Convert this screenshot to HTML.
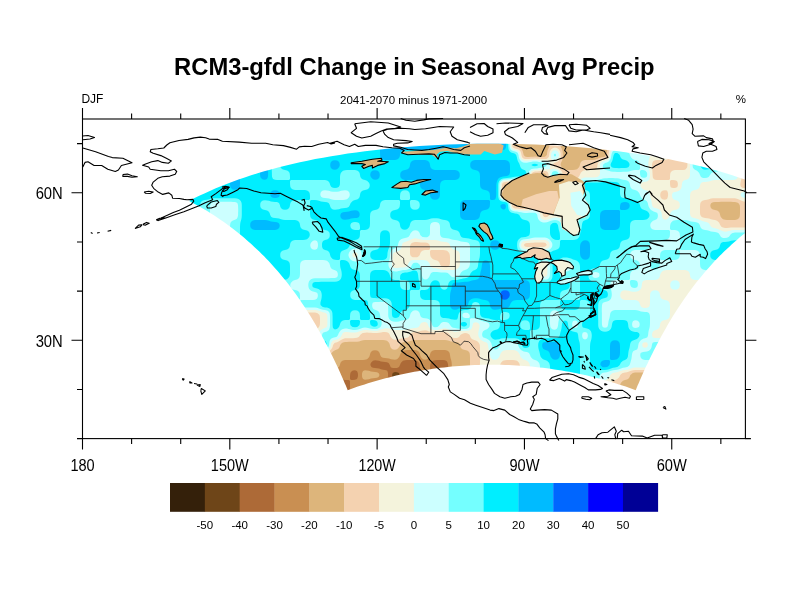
<!DOCTYPE html>
<html><head><meta charset="utf-8"><style>
html,body{margin:0;padding:0;background:#fff;width:792px;height:612px;overflow:hidden}
svg{position:absolute;left:0;top:0}
text{font-family:"Liberation Sans",Arial,sans-serif;fill:#000}
</style></head><body>
<svg width="792" height="612" viewBox="0 0 792 612">
<rect width="792" height="612" fill="#fff"/>
<g id="field"><clipPath id="frm"><rect x="82.5" y="119" width="662.9" height="319.6"/></clipPath><mask id="dom" maskUnits="userSpaceOnUse" x="0" y="0" width="792" height="612"><path d="M347.7 390.2 L351.0 389.0 L354.4 387.8 L357.8 386.6 L361.1 385.5 L364.6 384.4 L368.0 383.3 L371.4 382.2 L374.9 381.2 L378.4 380.2 L381.9 379.2 L385.5 378.3 L389.0 377.4 L392.6 376.5 L396.2 375.6 L399.8 374.8 L403.4 374.0 L407.0 373.3 L410.7 372.5 L414.3 371.8 L418.0 371.2 L421.7 370.5 L425.4 369.9 L429.1 369.4 L432.9 368.8 L436.6 368.3 L440.4 367.8 L444.1 367.4 L447.9 367.0 L451.7 366.6 L455.5 366.3 L459.3 366.0 L463.1 365.7 L466.9 365.4 L470.7 365.2 L474.5 365.1 L478.3 364.9 L482.1 364.8 L486.0 364.8 L489.8 364.7 L493.6 364.7 L497.4 364.8 L501.3 364.8 L505.1 364.9 L508.9 365.1 L512.7 365.2 L516.5 365.4 L520.3 365.7 L524.1 366.0 L527.9 366.3 L531.7 366.6 L535.5 367.0 L539.3 367.4 L543.0 367.8 L546.8 368.3 L550.5 368.8 L554.3 369.4 L558.0 369.9 L561.7 370.5 L565.4 371.2 L569.1 371.8 L572.7 372.5 L576.4 373.3 L580.0 374.0 L583.6 374.8 L587.2 375.6 L590.8 376.5 L594.4 377.4 L597.9 378.3 L601.5 379.2 L605.0 380.2 L608.5 381.2 L612.0 382.2 L615.4 383.3 L618.9 384.4 L622.3 385.5 L625.7 386.6 L629.0 387.8 L632.4 389.0 L635.7 390.2 L636.7 387.7 L637.7 385.3 L638.8 382.9 L639.8 380.4 L640.9 378.0 L642.0 375.5 L643.1 373.1 L644.2 370.6 L645.3 368.1 L646.5 365.6 L647.7 363.2 L648.8 360.7 L650.0 358.2 L651.2 355.7 L652.5 353.2 L653.7 350.7 L655.0 348.2 L656.3 345.7 L657.6 343.2 L658.9 340.7 L660.3 338.2 L661.6 335.7 L663.0 333.2 L664.4 330.7 L665.9 328.2 L667.3 325.6 L668.8 323.1 L670.3 320.6 L671.8 318.1 L673.3 315.6 L674.9 313.1 L676.5 310.6 L678.1 308.1 L679.8 305.5 L681.5 303.0 L683.2 300.5 L684.9 298.0 L686.7 295.5 L688.4 293.1 L690.3 290.6 L692.1 288.1 L694.0 285.6 L695.9 283.1 L697.9 280.6 L699.8 278.2 L701.9 275.7 L703.9 273.3 L706.0 270.8 L708.1 268.4 L710.3 266.0 L712.5 263.5 L714.7 261.1 L717.0 258.7 L719.3 256.3 L721.7 253.9 L724.1 251.6 L726.6 249.2 L729.1 246.9 L731.6 244.5 L734.2 242.2 L736.9 239.9 L739.5 237.6 L742.3 235.3 L745.1 233.0 L747.9 230.7 L750.8 228.5 L753.8 226.3 L756.8 224.0 L759.9 221.8 L763.0 219.7 L766.2 217.5 L769.5 215.3 L772.8 213.2 L776.2 211.1 L779.7 209.0 L783.2 207.0 L786.8 204.9 L790.5 202.9 L794.2 200.9 L789.3 198.3 L784.2 195.8 L779.0 193.4 L773.6 191.0 L768.2 188.6 L762.6 186.3 L756.8 184.0 L750.9 181.7 L744.9 179.6 L738.7 177.4 L732.3 175.3 L725.8 173.3 L719.2 171.3 L712.4 169.4 L705.4 167.5 L698.3 165.7 L691.0 164.0 L683.5 162.3 L675.9 160.7 L668.2 159.1 L660.3 157.7 L652.2 156.2 L644.0 154.9 L635.6 153.6 L627.1 152.4 L618.4 151.3 L609.6 150.2 L600.7 149.2 L591.7 148.3 L582.5 147.5 L573.2 146.8 L563.9 146.1 L554.4 145.5 L544.9 145.0 L535.3 144.6 L525.7 144.3 L516.0 144.0 L506.3 143.8 L496.6 143.8 L486.8 143.8 L477.1 143.8 L467.4 144.0 L457.7 144.3 L448.1 144.6 L438.5 145.0 L429.0 145.5 L419.5 146.1 L410.2 146.8 L400.9 147.5 L391.7 148.3 L382.7 149.2 L373.8 150.2 L365.0 151.3 L356.3 152.4 L347.8 153.6 L339.4 154.9 L331.2 156.2 L323.1 157.7 L315.2 159.1 L307.5 160.7 L299.9 162.3 L292.4 164.0 L285.1 165.7 L278.0 167.5 L271.0 169.4 L264.2 171.3 L257.6 173.3 L251.1 175.3 L244.7 177.4 L238.5 179.6 L232.5 181.7 L226.6 184.0 L220.8 186.3 L215.2 188.6 L209.8 191.0 L204.4 193.4 L199.2 195.8 L194.1 198.3 L189.2 200.9 L192.9 202.9 L196.6 204.9 L200.2 207.0 L203.7 209.0 L207.2 211.1 L210.6 213.2 L213.9 215.3 L217.2 217.5 L220.4 219.7 L223.5 221.8 L226.6 224.0 L229.6 226.3 L232.6 228.5 L235.5 230.7 L238.3 233.0 L241.1 235.3 L243.9 237.6 L246.6 239.9 L249.2 242.2 L251.8 244.5 L254.3 246.9 L256.8 249.2 L259.3 251.6 L261.7 253.9 L264.1 256.3 L266.4 258.7 L268.7 261.1 L270.9 263.5 L273.1 266.0 L275.3 268.4 L277.4 270.8 L279.5 273.3 L281.5 275.7 L283.6 278.2 L285.5 280.6 L287.5 283.1 L289.4 285.6 L291.3 288.1 L293.1 290.6 L295.0 293.1 L296.8 295.5 L298.5 298.0 L300.2 300.5 L301.9 303.0 L303.6 305.5 L305.3 308.1 L306.9 310.6 L308.5 313.1 L310.1 315.6 L311.6 318.1 L313.1 320.6 L314.6 323.1 L316.1 325.6 L317.6 328.2 L319.0 330.7 L320.4 333.2 L321.8 335.7 L323.1 338.2 L324.5 340.7 L325.8 343.2 L327.1 345.7 L328.4 348.2 L329.7 350.7 L330.9 353.2 L332.2 355.7 L333.4 358.2 L334.6 360.7 L335.8 363.2 L336.9 365.6 L338.1 368.1 L339.2 370.6 L340.3 373.1 L341.4 375.5 L342.5 378.0 L343.6 380.4 L344.6 382.9 L345.7 385.3 L346.7 387.7Z" fill="#fff"/></mask><g clip-path="url(#frm)"><g mask="url(#dom)"><rect x="180" y="130" width="600" height="280" fill="#34200a"/><path fill="#6e4518" d="M185.0 135.0 193.0 135.0 195.0 135.0 197.0 135.0 199.0 135.0 201.0 135.0 203.0 135.0 205.0 135.0 207.0 135.0 209.0 135.0 211.0 135.0 213.0 135.0 215.0 135.0 217.0 135.0 219.0 135.0 221.0 135.0 223.0 135.0 225.0 135.0 227.0 135.0 229.0 135.0 231.0 135.0 233.0 135.0 235.0 135.0 237.0 135.0 239.0 135.0 241.0 135.0 243.0 135.0 245.0 135.0 247.0 135.0 249.0 135.0 251.0 135.0 253.0 135.0 255.0 135.0 257.0 135.0 259.0 135.0 261.0 135.0 263.0 135.0 265.0 135.0 267.0 135.0 269.0 135.0 271.0 135.0 273.0 135.0 275.0 135.0 277.0 135.0 279.0 135.0 281.0 135.0 283.0 135.0 285.0 135.0 287.0 135.0 289.0 135.0 291.0 135.0 293.0 135.0 295.0 135.0 297.0 135.0 299.0 135.0 301.0 135.0 303.0 135.0 305.0 135.0 307.0 135.0 309.0 135.0 311.0 135.0 313.0 135.0 315.0 135.0 317.0 135.0 319.0 135.0 321.0 135.0 323.0 135.0 325.0 135.0 327.0 135.0 329.0 135.0 331.0 135.0 333.0 135.0 335.0 135.0 337.0 135.0 339.0 135.0 341.0 135.0 343.0 135.0 345.0 135.0 347.0 135.0 349.0 135.0 351.0 135.0 353.0 135.0 355.0 135.0 357.0 135.0 359.0 135.0 361.0 135.0 363.0 135.0 365.0 135.0 367.0 135.0 369.0 135.0 371.0 135.0 373.0 135.0 375.0 135.0 377.0 135.0 379.0 135.0 381.0 135.0 383.0 135.0 385.0 135.0 387.0 135.0 389.0 135.0 391.0 135.0 393.0 135.0 395.0 135.0 397.0 135.0 399.0 135.0 401.0 135.0 403.0 135.0 405.0 135.0 407.0 135.0 409.0 135.0 411.0 135.0 413.0 135.0 415.0 135.0 417.0 135.0 419.0 135.0 421.0 135.0 423.0 135.0 425.0 135.0 427.0 135.0 429.0 135.0 431.0 135.0 433.0 135.0 435.0 135.0 437.0 135.0 439.0 135.0 441.0 135.0 443.0 135.0 445.0 135.0 447.0 135.0 449.0 135.0 451.0 135.0 453.0 135.0 455.0 135.0 457.0 135.0 459.0 135.0 461.0 135.0 463.0 135.0 465.0 135.0 467.0 135.0 469.0 135.0 471.0 135.0 473.0 135.0 475.0 135.0 477.0 135.0 479.0 135.0 481.0 135.0 483.0 135.0 485.0 135.0 487.0 135.0 489.0 135.0 491.0 135.0 493.0 135.0 495.0 135.0 497.0 135.0 499.0 135.0 501.0 135.0 503.0 135.0 505.0 135.0 507.0 135.0 509.0 135.0 511.0 135.0 513.0 135.0 515.0 135.0 517.0 135.0 519.0 135.0 521.0 135.0 523.0 135.0 525.0 135.0 527.0 135.0 529.0 135.0 531.0 135.0 533.0 135.0 535.0 135.0 537.0 135.0 539.0 135.0 541.0 135.0 543.0 135.0 545.0 135.0 547.0 135.0 549.0 135.0 551.0 135.0 553.0 135.0 555.0 135.0 557.0 135.0 559.0 135.0 561.0 135.0 563.0 135.0 565.0 135.0 567.0 135.0 569.0 135.0 571.0 135.0 573.0 135.0 575.0 135.0 577.0 135.0 579.0 135.0 581.0 135.0 583.0 135.0 585.0 135.0 587.0 135.0 589.0 135.0 591.0 135.0 593.0 135.0 595.0 135.0 597.0 135.0 599.0 135.0 601.0 135.0 603.0 135.0 605.0 135.0 607.0 135.0 609.0 135.0 611.0 135.0 613.0 135.0 615.0 135.0 617.0 135.0 619.0 135.0 621.0 135.0 623.0 135.0 625.0 135.0 627.0 135.0 629.0 135.0 631.0 135.0 633.0 135.0 635.0 135.0 637.0 135.0 639.0 135.0 641.0 135.0 643.0 135.0 645.0 135.0 647.0 135.0 649.0 135.0 651.0 135.0 653.0 135.0 655.0 135.0 657.0 135.0 659.0 135.0 661.0 135.0 663.0 135.0 665.0 135.0 667.0 135.0 669.0 135.0 671.0 135.0 673.0 135.0 675.0 135.0 677.0 135.0 679.0 135.0 681.0 135.0 683.0 135.0 685.0 135.0 687.0 135.0 689.0 135.0 691.0 135.0 693.0 135.0 695.0 135.0 697.0 135.0 699.0 135.0 701.0 135.0 703.0 135.0 705.0 135.0 707.0 135.0 709.0 135.0 711.0 135.0 713.0 135.0 715.0 135.0 717.0 135.0 719.0 135.0 721.0 135.0 723.0 135.0 725.0 135.0 727.0 135.0 729.0 135.0 731.0 135.0 733.0 135.0 735.0 135.0 737.0 135.0 739.0 135.0 741.0 135.0 743.0 135.0 745.0 135.0 747.0 135.0 755.0 135.0 755.0 143.0 755.0 145.0 755.0 147.0 755.0 149.0 755.0 151.0 755.0 153.0 755.0 155.0 755.0 157.0 755.0 159.0 755.0 161.0 755.0 163.0 755.0 165.0 755.0 167.0 755.0 169.0 755.0 171.0 755.0 173.0 755.0 175.0 755.0 177.0 755.0 179.0 755.0 181.0 755.0 183.0 755.0 185.0 755.0 187.0 755.0 189.0 755.0 191.0 755.0 193.0 755.0 195.0 755.0 197.0 755.0 199.0 755.0 201.0 755.0 203.0 755.0 205.0 755.0 207.0 755.0 209.0 755.0 211.0 755.0 213.0 755.0 215.0 755.0 217.0 755.0 219.0 755.0 221.0 755.0 223.0 755.0 225.0 755.0 227.0 755.0 229.0 755.0 231.0 755.0 233.0 755.0 235.0 755.0 237.0 755.0 239.0 755.0 241.0 755.0 243.0 755.0 245.0 755.0 247.0 755.0 249.0 755.0 251.0 755.0 253.0 755.0 255.0 755.0 257.0 755.0 259.0 755.0 261.0 755.0 263.0 755.0 265.0 755.0 267.0 755.0 269.0 755.0 271.0 755.0 273.0 755.0 275.0 755.0 277.0 755.0 279.0 755.0 281.0 755.0 283.0 755.0 285.0 755.0 287.0 755.0 289.0 755.0 291.0 755.0 293.0 755.0 295.0 755.0 297.0 755.0 299.0 755.0 301.0 755.0 303.0 755.0 305.0 755.0 307.0 755.0 309.0 755.0 311.0 755.0 313.0 755.0 315.0 755.0 317.0 755.0 319.0 755.0 321.0 755.0 323.0 755.0 325.0 755.0 327.0 755.0 329.0 755.0 331.0 755.0 333.0 755.0 335.0 755.0 337.0 755.0 339.0 755.0 341.0 755.0 343.0 755.0 345.0 755.0 347.0 755.0 349.0 755.0 351.0 755.0 353.0 755.0 355.0 755.0 357.0 755.0 359.0 755.0 361.0 755.0 363.0 755.0 365.0 755.0 367.0 755.0 369.0 755.0 371.0 755.0 373.0 755.0 375.0 755.0 377.0 755.0 379.0 755.0 381.0 755.0 383.0 755.0 385.0 755.0 387.0 755.0 389.0 755.0 391.0 755.0 393.0 755.0 395.0 755.0 397.0 755.0 405.0 747.0 405.0 745.0 405.0 743.0 405.0 741.0 405.0 739.0 405.0 737.0 405.0 735.0 405.0 733.0 405.0 731.0 405.0 729.0 405.0 727.0 405.0 725.0 405.0 723.0 405.0 721.0 405.0 719.0 405.0 717.0 405.0 715.0 405.0 713.0 405.0 711.0 405.0 709.0 405.0 707.0 405.0 705.0 405.0 703.0 405.0 701.0 405.0 699.0 405.0 697.0 405.0 695.0 405.0 693.0 405.0 691.0 405.0 689.0 405.0 687.0 405.0 685.0 405.0 683.0 405.0 681.0 405.0 679.0 405.0 677.0 405.0 675.0 405.0 673.0 405.0 671.0 405.0 669.0 405.0 667.0 405.0 665.0 405.0 663.0 405.0 661.0 405.0 659.0 405.0 657.0 405.0 655.0 405.0 653.0 405.0 651.0 405.0 649.0 405.0 647.0 405.0 645.0 405.0 643.0 405.0 641.0 405.0 639.0 405.0 637.0 405.0 635.0 405.0 633.0 405.0 631.0 405.0 629.0 405.0 627.0 405.0 625.0 405.0 623.0 405.0 621.0 405.0 619.0 405.0 617.0 405.0 615.0 405.0 613.0 405.0 611.0 405.0 609.0 405.0 607.0 405.0 605.0 405.0 603.0 405.0 601.0 405.0 599.0 405.0 597.0 405.0 595.0 405.0 593.0 405.0 591.0 405.0 589.0 405.0 587.0 405.0 585.0 405.0 583.0 405.0 581.0 405.0 579.0 405.0 577.0 405.0 575.0 405.0 573.0 405.0 571.0 405.0 569.0 405.0 567.0 405.0 565.0 405.0 563.0 405.0 561.0 405.0 559.0 405.0 557.0 405.0 555.0 405.0 553.0 405.0 551.0 405.0 549.0 405.0 547.0 405.0 545.0 405.0 543.0 405.0 541.0 405.0 539.0 405.0 537.0 405.0 535.0 405.0 533.0 405.0 531.0 405.0 529.0 405.0 527.0 405.0 525.0 405.0 523.0 405.0 521.0 405.0 519.0 405.0 517.0 405.0 515.0 405.0 513.0 405.0 511.0 405.0 509.0 405.0 507.0 405.0 505.0 405.0 503.0 405.0 501.0 405.0 499.0 405.0 497.0 405.0 495.0 405.0 493.0 405.0 491.0 405.0 489.0 405.0 487.0 405.0 485.0 405.0 483.0 405.0 481.0 405.0 479.0 405.0 477.0 405.0 475.0 405.0 473.0 405.0 471.0 405.0 469.0 405.0 467.0 405.0 465.0 405.0 463.0 405.0 461.0 405.0 459.0 405.0 457.0 405.0 455.0 405.0 453.0 405.0 451.0 405.0 449.0 405.0 447.0 405.0 445.0 405.0 443.0 405.0 441.0 405.0 439.0 405.0 437.0 405.0 435.0 405.0 433.0 405.0 431.0 405.0 429.0 405.0 427.0 405.0 425.0 405.0 423.0 405.0 421.0 405.0 419.0 405.0 417.0 405.0 415.0 405.0 413.0 405.0 411.0 405.0 409.0 405.0 407.0 405.0 405.0 405.0 403.0 405.0 401.0 405.0 399.0 405.0 397.0 405.0 395.0 405.0 393.0 405.0 391.0 405.0 389.0 405.0 387.0 405.0 385.0 405.0 383.0 405.0 381.0 405.0 379.0 405.0 377.0 405.0 375.0 405.0 373.0 405.0 371.0 405.0 369.0 405.0 367.0 405.0 365.0 405.0 363.0 405.0 361.0 405.0 359.0 405.0 357.0 405.0 355.0 405.0 353.0 405.0 351.0 405.0 349.0 405.0 347.0 405.0 345.0 405.0 343.0 405.0 341.0 405.0 339.0 405.0 337.0 405.0 335.0 405.0 333.0 405.0 331.0 405.0 329.0 405.0 327.0 405.0 325.0 405.0 323.0 405.0 321.0 405.0 319.0 405.0 317.0 405.0 315.0 405.0 313.0 405.0 311.0 405.0 309.0 405.0 307.0 405.0 305.0 405.0 303.0 405.0 301.0 405.0 299.0 405.0 297.0 405.0 295.0 405.0 293.0 405.0 291.0 405.0 289.0 405.0 287.0 405.0 285.0 405.0 283.0 405.0 281.0 405.0 279.0 405.0 277.0 405.0 275.0 405.0 273.0 405.0 271.0 405.0 269.0 405.0 267.0 405.0 265.0 405.0 263.0 405.0 261.0 405.0 259.0 405.0 257.0 405.0 255.0 405.0 253.0 405.0 251.0 405.0 249.0 405.0 247.0 405.0 245.0 405.0 243.0 405.0 241.0 405.0 239.0 405.0 237.0 405.0 235.0 405.0 233.0 405.0 231.0 405.0 229.0 405.0 227.0 405.0 225.0 405.0 223.0 405.0 221.0 405.0 219.0 405.0 217.0 405.0 215.0 405.0 213.0 405.0 211.0 405.0 209.0 405.0 207.0 405.0 205.0 405.0 203.0 405.0 201.0 405.0 199.0 405.0 197.0 405.0 195.0 405.0 193.0 405.0 185.0 405.0 185.0 397.0 185.0 395.0 185.0 393.0 185.0 391.0 185.0 389.0 185.0 387.0 185.0 385.0 185.0 383.0 185.0 381.0 185.0 379.0 185.0 377.0 185.0 375.0 185.0 373.0 185.0 371.0 185.0 369.0 185.0 367.0 185.0 365.0 185.0 363.0 185.0 361.0 185.0 359.0 185.0 357.0 185.0 355.0 185.0 353.0 185.0 351.0 185.0 349.0 185.0 347.0 185.0 345.0 185.0 343.0 185.0 341.0 185.0 339.0 185.0 337.0 185.0 335.0 185.0 333.0 185.0 331.0 185.0 329.0 185.0 327.0 185.0 325.0 185.0 323.0 185.0 321.0 185.0 319.0 185.0 317.0 185.0 315.0 185.0 313.0 185.0 311.0 185.0 309.0 185.0 307.0 185.0 305.0 185.0 303.0 185.0 301.0 185.0 299.0 185.0 297.0 185.0 295.0 185.0 293.0 185.0 291.0 185.0 289.0 185.0 287.0 185.0 285.0 185.0 283.0 185.0 281.0 185.0 279.0 185.0 277.0 185.0 275.0 185.0 273.0 185.0 271.0 185.0 269.0 185.0 267.0 185.0 265.0 185.0 263.0 185.0 261.0 185.0 259.0 185.0 257.0 185.0 255.0 185.0 253.0 185.0 251.0 185.0 249.0 185.0 247.0 185.0 245.0 185.0 243.0 185.0 241.0 185.0 239.0 185.0 237.0 185.0 235.0 185.0 233.0 185.0 231.0 185.0 229.0 185.0 227.0 185.0 225.0 185.0 223.0 185.0 221.0 185.0 219.0 185.0 217.0 185.0 215.0 185.0 213.0 185.0 211.0 185.0 209.0 185.0 207.0 185.0 205.0 185.0 203.0 185.0 201.0 185.0 199.0 185.0 197.0 185.0 195.0 185.0 193.0 185.0 191.0 185.0 189.0 185.0 187.0 185.0 185.0 185.0 183.0 185.0 181.0 185.0 179.0 185.0 177.0 185.0 175.0 185.0 173.0 185.0 171.0 185.0 169.0 185.0 167.0 185.0 165.0 185.0 163.0 185.0 161.0 185.0 159.0 185.0 157.0 185.0 155.0 185.0 153.0 185.0 151.0 185.0 149.0 185.0 147.0 185.0 145.0 185.0 143.0 185.0 135.0Z"/><path fill="#ad6a37" d="M185.0 135.0 193.0 135.0 195.0 135.0 197.0 135.0 199.0 135.0 201.0 135.0 203.0 135.0 205.0 135.0 207.0 135.0 209.0 135.0 211.0 135.0 213.0 135.0 215.0 135.0 217.0 135.0 219.0 135.0 221.0 135.0 223.0 135.0 225.0 135.0 227.0 135.0 229.0 135.0 231.0 135.0 233.0 135.0 235.0 135.0 237.0 135.0 239.0 135.0 241.0 135.0 243.0 135.0 245.0 135.0 247.0 135.0 249.0 135.0 251.0 135.0 253.0 135.0 255.0 135.0 257.0 135.0 259.0 135.0 261.0 135.0 263.0 135.0 265.0 135.0 267.0 135.0 269.0 135.0 271.0 135.0 273.0 135.0 275.0 135.0 277.0 135.0 279.0 135.0 281.0 135.0 283.0 135.0 285.0 135.0 287.0 135.0 289.0 135.0 291.0 135.0 293.0 135.0 295.0 135.0 297.0 135.0 299.0 135.0 301.0 135.0 303.0 135.0 305.0 135.0 307.0 135.0 309.0 135.0 311.0 135.0 313.0 135.0 315.0 135.0 317.0 135.0 319.0 135.0 321.0 135.0 323.0 135.0 325.0 135.0 327.0 135.0 329.0 135.0 331.0 135.0 333.0 135.0 335.0 135.0 337.0 135.0 339.0 135.0 341.0 135.0 343.0 135.0 345.0 135.0 347.0 135.0 349.0 135.0 351.0 135.0 353.0 135.0 355.0 135.0 357.0 135.0 359.0 135.0 361.0 135.0 363.0 135.0 365.0 135.0 367.0 135.0 369.0 135.0 371.0 135.0 373.0 135.0 375.0 135.0 377.0 135.0 379.0 135.0 381.0 135.0 383.0 135.0 385.0 135.0 387.0 135.0 389.0 135.0 391.0 135.0 393.0 135.0 395.0 135.0 397.0 135.0 399.0 135.0 401.0 135.0 403.0 135.0 405.0 135.0 407.0 135.0 409.0 135.0 411.0 135.0 413.0 135.0 415.0 135.0 417.0 135.0 419.0 135.0 421.0 135.0 423.0 135.0 425.0 135.0 427.0 135.0 429.0 135.0 431.0 135.0 433.0 135.0 435.0 135.0 437.0 135.0 439.0 135.0 441.0 135.0 443.0 135.0 445.0 135.0 447.0 135.0 449.0 135.0 451.0 135.0 453.0 135.0 455.0 135.0 457.0 135.0 459.0 135.0 461.0 135.0 463.0 135.0 465.0 135.0 467.0 135.0 469.0 135.0 471.0 135.0 473.0 135.0 475.0 135.0 477.0 135.0 479.0 135.0 481.0 135.0 483.0 135.0 485.0 135.0 487.0 135.0 489.0 135.0 491.0 135.0 493.0 135.0 495.0 135.0 497.0 135.0 499.0 135.0 501.0 135.0 503.0 135.0 505.0 135.0 507.0 135.0 509.0 135.0 511.0 135.0 513.0 135.0 515.0 135.0 517.0 135.0 519.0 135.0 521.0 135.0 523.0 135.0 525.0 135.0 527.0 135.0 529.0 135.0 531.0 135.0 533.0 135.0 535.0 135.0 537.0 135.0 539.0 135.0 541.0 135.0 543.0 135.0 545.0 135.0 547.0 135.0 549.0 135.0 551.0 135.0 553.0 135.0 555.0 135.0 557.0 135.0 559.0 135.0 561.0 135.0 563.0 135.0 565.0 135.0 567.0 135.0 569.0 135.0 571.0 135.0 573.0 135.0 575.0 135.0 577.0 135.0 579.0 135.0 581.0 135.0 583.0 135.0 585.0 135.0 587.0 135.0 589.0 135.0 591.0 135.0 593.0 135.0 595.0 135.0 597.0 135.0 599.0 135.0 601.0 135.0 603.0 135.0 605.0 135.0 607.0 135.0 609.0 135.0 611.0 135.0 613.0 135.0 615.0 135.0 617.0 135.0 619.0 135.0 621.0 135.0 623.0 135.0 625.0 135.0 627.0 135.0 629.0 135.0 631.0 135.0 633.0 135.0 635.0 135.0 637.0 135.0 639.0 135.0 641.0 135.0 643.0 135.0 645.0 135.0 647.0 135.0 649.0 135.0 651.0 135.0 653.0 135.0 655.0 135.0 657.0 135.0 659.0 135.0 661.0 135.0 663.0 135.0 665.0 135.0 667.0 135.0 669.0 135.0 671.0 135.0 673.0 135.0 675.0 135.0 677.0 135.0 679.0 135.0 681.0 135.0 683.0 135.0 685.0 135.0 687.0 135.0 689.0 135.0 691.0 135.0 693.0 135.0 695.0 135.0 697.0 135.0 699.0 135.0 701.0 135.0 703.0 135.0 705.0 135.0 707.0 135.0 709.0 135.0 711.0 135.0 713.0 135.0 715.0 135.0 717.0 135.0 719.0 135.0 721.0 135.0 723.0 135.0 725.0 135.0 727.0 135.0 729.0 135.0 731.0 135.0 733.0 135.0 735.0 135.0 737.0 135.0 739.0 135.0 741.0 135.0 743.0 135.0 745.0 135.0 747.0 135.0 755.0 135.0 755.0 143.0 755.0 145.0 755.0 147.0 755.0 149.0 755.0 151.0 755.0 153.0 755.0 155.0 755.0 157.0 755.0 159.0 755.0 161.0 755.0 163.0 755.0 165.0 755.0 167.0 755.0 169.0 755.0 171.0 755.0 173.0 755.0 175.0 755.0 177.0 755.0 179.0 755.0 181.0 755.0 183.0 755.0 185.0 755.0 187.0 755.0 189.0 755.0 191.0 755.0 193.0 755.0 195.0 755.0 197.0 755.0 199.0 755.0 201.0 755.0 203.0 755.0 205.0 755.0 207.0 755.0 209.0 755.0 211.0 755.0 213.0 755.0 215.0 755.0 217.0 755.0 219.0 755.0 221.0 755.0 223.0 755.0 225.0 755.0 227.0 755.0 229.0 755.0 231.0 755.0 233.0 755.0 235.0 755.0 237.0 755.0 239.0 755.0 241.0 755.0 243.0 755.0 245.0 755.0 247.0 755.0 249.0 755.0 251.0 755.0 253.0 755.0 255.0 755.0 257.0 755.0 259.0 755.0 261.0 755.0 263.0 755.0 265.0 755.0 267.0 755.0 269.0 755.0 271.0 755.0 273.0 755.0 275.0 755.0 277.0 755.0 279.0 755.0 281.0 755.0 283.0 755.0 285.0 755.0 287.0 755.0 289.0 755.0 291.0 755.0 293.0 755.0 295.0 755.0 297.0 755.0 299.0 755.0 301.0 755.0 303.0 755.0 305.0 755.0 307.0 755.0 309.0 755.0 311.0 755.0 313.0 755.0 315.0 755.0 317.0 755.0 319.0 755.0 321.0 755.0 323.0 755.0 325.0 755.0 327.0 755.0 329.0 755.0 331.0 755.0 333.0 755.0 335.0 755.0 337.0 755.0 339.0 755.0 341.0 755.0 343.0 755.0 345.0 755.0 347.0 755.0 349.0 755.0 351.0 755.0 353.0 755.0 355.0 755.0 357.0 755.0 359.0 755.0 361.0 755.0 363.0 755.0 365.0 755.0 367.0 755.0 369.0 755.0 371.0 755.0 373.0 755.0 375.0 755.0 377.0 755.0 379.0 755.0 381.0 755.0 383.0 755.0 385.0 755.0 387.0 755.0 389.0 755.0 391.0 755.0 393.0 755.0 395.0 755.0 397.0 755.0 405.0 747.0 405.0 745.0 405.0 743.0 405.0 741.0 405.0 739.0 405.0 737.0 405.0 735.0 405.0 733.0 405.0 731.0 405.0 729.0 405.0 727.0 405.0 725.0 405.0 723.0 405.0 721.0 405.0 719.0 405.0 717.0 405.0 715.0 405.0 713.0 405.0 711.0 405.0 709.0 405.0 707.0 405.0 705.0 405.0 703.0 405.0 701.0 405.0 699.0 405.0 697.0 405.0 695.0 405.0 693.0 405.0 691.0 405.0 689.0 405.0 687.0 405.0 685.0 405.0 683.0 405.0 681.0 405.0 679.0 405.0 677.0 405.0 675.0 405.0 673.0 405.0 671.0 405.0 669.0 405.0 667.0 405.0 665.0 405.0 663.0 405.0 661.0 405.0 659.0 405.0 657.0 405.0 655.0 405.0 653.0 405.0 651.0 405.0 649.0 405.0 647.0 405.0 645.0 405.0 643.0 405.0 641.0 405.0 639.0 405.0 637.0 405.0 635.0 405.0 633.0 405.0 631.0 405.0 629.0 405.0 627.0 405.0 625.0 405.0 623.0 405.0 621.0 405.0 619.0 405.0 617.0 405.0 615.0 405.0 613.0 405.0 611.0 405.0 609.0 405.0 607.0 405.0 605.0 405.0 603.0 405.0 601.0 405.0 599.0 405.0 597.0 405.0 595.0 405.0 593.0 405.0 591.0 405.0 589.0 405.0 587.0 405.0 585.0 405.0 583.0 405.0 581.0 405.0 579.0 405.0 577.0 405.0 575.0 405.0 573.0 405.0 571.0 405.0 569.0 405.0 567.0 405.0 565.0 405.0 563.0 405.0 561.0 405.0 559.0 405.0 557.0 405.0 555.0 405.0 553.0 405.0 551.0 405.0 549.0 405.0 547.0 405.0 545.0 405.0 543.0 405.0 541.0 405.0 539.0 405.0 537.0 405.0 535.0 405.0 533.0 405.0 531.0 405.0 529.0 405.0 527.0 405.0 525.0 405.0 523.0 405.0 521.0 405.0 519.0 405.0 517.0 405.0 515.0 405.0 513.0 405.0 511.0 405.0 509.0 405.0 507.0 405.0 505.0 405.0 503.0 405.0 501.0 405.0 499.0 405.0 497.0 405.0 495.0 405.0 493.0 405.0 491.0 405.0 489.0 405.0 487.0 405.0 485.0 405.0 483.0 405.0 481.0 405.0 479.0 405.0 477.0 405.0 475.0 405.0 473.0 405.0 471.0 405.0 469.0 405.0 467.0 405.0 465.0 405.0 463.0 405.0 461.0 405.0 459.0 405.0 457.0 405.0 455.0 405.0 453.0 405.0 451.0 405.0 449.0 405.0 447.0 405.0 445.0 405.0 443.0 405.0 441.0 405.0 439.0 405.0 437.0 405.0 435.0 405.0 433.0 405.0 431.0 405.0 429.0 405.0 427.0 405.0 425.0 405.0 423.0 405.0 421.0 405.0 419.0 405.0 417.0 405.0 415.0 405.0 413.0 405.0 411.0 405.0 409.0 405.0 407.0 405.0 405.0 405.0 403.0 405.0 401.0 405.0 399.0 405.0 397.0 405.0 395.0 405.0 393.0 405.0 391.0 405.0 389.0 405.0 387.0 405.0 385.0 405.0 383.0 405.0 381.0 405.0 379.0 405.0 377.0 405.0 375.0 405.0 373.0 405.0 371.0 405.0 369.0 405.0 367.0 405.0 365.0 405.0 363.0 405.0 361.0 405.0 359.0 405.0 357.0 405.0 355.0 405.0 353.0 405.0 351.0 405.0 349.0 405.0 347.0 405.0 345.0 405.0 343.0 405.0 341.0 405.0 339.0 405.0 337.0 405.0 335.0 405.0 333.0 405.0 331.0 405.0 329.0 405.0 327.0 405.0 325.0 405.0 323.0 405.0 321.0 405.0 319.0 405.0 317.0 405.0 315.0 405.0 313.0 405.0 311.0 405.0 309.0 405.0 307.0 405.0 305.0 405.0 303.0 405.0 301.0 405.0 299.0 405.0 297.0 405.0 295.0 405.0 293.0 405.0 291.0 405.0 289.0 405.0 287.0 405.0 285.0 405.0 283.0 405.0 281.0 405.0 279.0 405.0 277.0 405.0 275.0 405.0 273.0 405.0 271.0 405.0 269.0 405.0 267.0 405.0 265.0 405.0 263.0 405.0 261.0 405.0 259.0 405.0 257.0 405.0 255.0 405.0 253.0 405.0 251.0 405.0 249.0 405.0 247.0 405.0 245.0 405.0 243.0 405.0 241.0 405.0 239.0 405.0 237.0 405.0 235.0 405.0 233.0 405.0 231.0 405.0 229.0 405.0 227.0 405.0 225.0 405.0 223.0 405.0 221.0 405.0 219.0 405.0 217.0 405.0 215.0 405.0 213.0 405.0 211.0 405.0 209.0 405.0 207.0 405.0 205.0 405.0 203.0 405.0 201.0 405.0 199.0 405.0 197.0 405.0 195.0 405.0 193.0 405.0 185.0 405.0 185.0 397.0 185.0 395.0 185.0 393.0 185.0 391.0 185.0 389.0 185.0 387.0 185.0 385.0 185.0 383.0 185.0 381.0 185.0 379.0 185.0 377.0 185.0 375.0 185.0 373.0 185.0 371.0 185.0 369.0 185.0 367.0 185.0 365.0 185.0 363.0 185.0 361.0 185.0 359.0 185.0 357.0 185.0 355.0 185.0 353.0 185.0 351.0 185.0 349.0 185.0 347.0 185.0 345.0 185.0 343.0 185.0 341.0 185.0 339.0 185.0 337.0 185.0 335.0 185.0 333.0 185.0 331.0 185.0 329.0 185.0 327.0 185.0 325.0 185.0 323.0 185.0 321.0 185.0 319.0 185.0 317.0 185.0 315.0 185.0 313.0 185.0 311.0 185.0 309.0 185.0 307.0 185.0 305.0 185.0 303.0 185.0 301.0 185.0 299.0 185.0 297.0 185.0 295.0 185.0 293.0 185.0 291.0 185.0 289.0 185.0 287.0 185.0 285.0 185.0 283.0 185.0 281.0 185.0 279.0 185.0 277.0 185.0 275.0 185.0 273.0 185.0 271.0 185.0 269.0 185.0 267.0 185.0 265.0 185.0 263.0 185.0 261.0 185.0 259.0 185.0 257.0 185.0 255.0 185.0 253.0 185.0 251.0 185.0 249.0 185.0 247.0 185.0 245.0 185.0 243.0 185.0 241.0 185.0 239.0 185.0 237.0 185.0 235.0 185.0 233.0 185.0 231.0 185.0 229.0 185.0 227.0 185.0 225.0 185.0 223.0 185.0 221.0 185.0 219.0 185.0 217.0 185.0 215.0 185.0 213.0 185.0 211.0 185.0 209.0 185.0 207.0 185.0 205.0 185.0 203.0 185.0 201.0 185.0 199.0 185.0 197.0 185.0 195.0 185.0 193.0 185.0 191.0 185.0 189.0 185.0 187.0 185.0 185.0 185.0 183.0 185.0 181.0 185.0 179.0 185.0 177.0 185.0 175.0 185.0 173.0 185.0 171.0 185.0 169.0 185.0 167.0 185.0 165.0 185.0 163.0 185.0 161.0 185.0 159.0 185.0 157.0 185.0 155.0 185.0 153.0 185.0 151.0 185.0 149.0 185.0 147.0 185.0 145.0 185.0 143.0 185.0 135.0ZM393.0 372.7 392.7 373.0 392.1 375.0 392.2 377.0 393.0 379.0 393.1 379.0 395.0 379.7 397.0 379.5 398.0 379.0 399.0 378.0 399.5 377.0 399.7 375.0 399.0 373.1 399.0 373.0 397.0 372.2 395.0 372.1 393.0 372.7Z"/><path fill="#c98f52" d="M185.0 135.0 193.0 135.0 195.0 135.0 197.0 135.0 199.0 135.0 201.0 135.0 203.0 135.0 205.0 135.0 207.0 135.0 209.0 135.0 211.0 135.0 213.0 135.0 215.0 135.0 217.0 135.0 219.0 135.0 221.0 135.0 223.0 135.0 225.0 135.0 227.0 135.0 229.0 135.0 231.0 135.0 233.0 135.0 235.0 135.0 237.0 135.0 239.0 135.0 241.0 135.0 243.0 135.0 245.0 135.0 247.0 135.0 249.0 135.0 251.0 135.0 253.0 135.0 255.0 135.0 257.0 135.0 259.0 135.0 261.0 135.0 263.0 135.0 265.0 135.0 267.0 135.0 269.0 135.0 271.0 135.0 273.0 135.0 275.0 135.0 277.0 135.0 279.0 135.0 281.0 135.0 283.0 135.0 285.0 135.0 287.0 135.0 289.0 135.0 291.0 135.0 293.0 135.0 295.0 135.0 297.0 135.0 299.0 135.0 301.0 135.0 303.0 135.0 305.0 135.0 307.0 135.0 309.0 135.0 311.0 135.0 313.0 135.0 315.0 135.0 317.0 135.0 319.0 135.0 321.0 135.0 323.0 135.0 325.0 135.0 327.0 135.0 329.0 135.0 331.0 135.0 333.0 135.0 335.0 135.0 337.0 135.0 339.0 135.0 341.0 135.0 343.0 135.0 345.0 135.0 347.0 135.0 349.0 135.0 351.0 135.0 353.0 135.0 355.0 135.0 357.0 135.0 359.0 135.0 361.0 135.0 363.0 135.0 365.0 135.0 367.0 135.0 369.0 135.0 371.0 135.0 373.0 135.0 375.0 135.0 377.0 135.0 379.0 135.0 381.0 135.0 383.0 135.0 385.0 135.0 387.0 135.0 389.0 135.0 391.0 135.0 393.0 135.0 395.0 135.0 397.0 135.0 399.0 135.0 401.0 135.0 403.0 135.0 405.0 135.0 407.0 135.0 409.0 135.0 411.0 135.0 413.0 135.0 415.0 135.0 417.0 135.0 419.0 135.0 421.0 135.0 423.0 135.0 425.0 135.0 427.0 135.0 429.0 135.0 431.0 135.0 433.0 135.0 435.0 135.0 437.0 135.0 439.0 135.0 441.0 135.0 443.0 135.0 445.0 135.0 447.0 135.0 449.0 135.0 451.0 135.0 453.0 135.0 455.0 135.0 457.0 135.0 459.0 135.0 461.0 135.0 463.0 135.0 465.0 135.0 467.0 135.0 469.0 135.0 471.0 135.0 473.0 135.0 475.0 135.0 477.0 135.0 479.0 135.0 481.0 135.0 483.0 135.0 485.0 135.0 487.0 135.0 489.0 135.0 491.0 135.0 493.0 135.0 495.0 135.0 497.0 135.0 499.0 135.0 501.0 135.0 503.0 135.0 505.0 135.0 507.0 135.0 509.0 135.0 511.0 135.0 513.0 135.0 515.0 135.0 517.0 135.0 519.0 135.0 521.0 135.0 523.0 135.0 525.0 135.0 527.0 135.0 529.0 135.0 531.0 135.0 533.0 135.0 535.0 135.0 537.0 135.0 539.0 135.0 541.0 135.0 543.0 135.0 545.0 135.0 547.0 135.0 549.0 135.0 551.0 135.0 553.0 135.0 555.0 135.0 557.0 135.0 559.0 135.0 561.0 135.0 563.0 135.0 565.0 135.0 567.0 135.0 569.0 135.0 571.0 135.0 573.0 135.0 575.0 135.0 577.0 135.0 579.0 135.0 581.0 135.0 583.0 135.0 585.0 135.0 587.0 135.0 589.0 135.0 591.0 135.0 593.0 135.0 595.0 135.0 597.0 135.0 599.0 135.0 601.0 135.0 603.0 135.0 605.0 135.0 607.0 135.0 609.0 135.0 611.0 135.0 613.0 135.0 615.0 135.0 617.0 135.0 619.0 135.0 621.0 135.0 623.0 135.0 625.0 135.0 627.0 135.0 629.0 135.0 631.0 135.0 633.0 135.0 635.0 135.0 637.0 135.0 639.0 135.0 641.0 135.0 643.0 135.0 645.0 135.0 647.0 135.0 649.0 135.0 651.0 135.0 653.0 135.0 655.0 135.0 657.0 135.0 659.0 135.0 661.0 135.0 663.0 135.0 665.0 135.0 667.0 135.0 669.0 135.0 671.0 135.0 673.0 135.0 675.0 135.0 677.0 135.0 679.0 135.0 681.0 135.0 683.0 135.0 685.0 135.0 687.0 135.0 689.0 135.0 691.0 135.0 693.0 135.0 695.0 135.0 697.0 135.0 699.0 135.0 701.0 135.0 703.0 135.0 705.0 135.0 707.0 135.0 709.0 135.0 711.0 135.0 713.0 135.0 715.0 135.0 717.0 135.0 719.0 135.0 721.0 135.0 723.0 135.0 725.0 135.0 727.0 135.0 729.0 135.0 731.0 135.0 733.0 135.0 735.0 135.0 737.0 135.0 739.0 135.0 741.0 135.0 743.0 135.0 745.0 135.0 747.0 135.0 755.0 135.0 755.0 143.0 755.0 145.0 755.0 147.0 755.0 149.0 755.0 151.0 755.0 153.0 755.0 155.0 755.0 157.0 755.0 159.0 755.0 161.0 755.0 163.0 755.0 165.0 755.0 167.0 755.0 169.0 755.0 171.0 755.0 173.0 755.0 175.0 755.0 177.0 755.0 179.0 755.0 181.0 755.0 183.0 755.0 185.0 755.0 187.0 755.0 189.0 755.0 191.0 755.0 193.0 755.0 195.0 755.0 197.0 755.0 199.0 755.0 201.0 755.0 203.0 755.0 205.0 755.0 207.0 755.0 209.0 755.0 211.0 755.0 213.0 755.0 215.0 755.0 217.0 755.0 219.0 755.0 221.0 755.0 223.0 755.0 225.0 755.0 227.0 755.0 229.0 755.0 231.0 755.0 233.0 755.0 235.0 755.0 237.0 755.0 239.0 755.0 241.0 755.0 243.0 755.0 245.0 755.0 247.0 755.0 249.0 755.0 251.0 755.0 253.0 755.0 255.0 755.0 257.0 755.0 259.0 755.0 261.0 755.0 263.0 755.0 265.0 755.0 267.0 755.0 269.0 755.0 271.0 755.0 273.0 755.0 275.0 755.0 277.0 755.0 279.0 755.0 281.0 755.0 283.0 755.0 285.0 755.0 287.0 755.0 289.0 755.0 291.0 755.0 293.0 755.0 295.0 755.0 297.0 755.0 299.0 755.0 301.0 755.0 303.0 755.0 305.0 755.0 307.0 755.0 309.0 755.0 311.0 755.0 313.0 755.0 315.0 755.0 317.0 755.0 319.0 755.0 321.0 755.0 323.0 755.0 325.0 755.0 327.0 755.0 329.0 755.0 331.0 755.0 333.0 755.0 335.0 755.0 337.0 755.0 339.0 755.0 341.0 755.0 343.0 755.0 345.0 755.0 347.0 755.0 349.0 755.0 351.0 755.0 353.0 755.0 355.0 755.0 357.0 755.0 359.0 755.0 361.0 755.0 363.0 755.0 365.0 755.0 367.0 755.0 369.0 755.0 371.0 755.0 373.0 755.0 375.0 755.0 377.0 755.0 379.0 755.0 381.0 755.0 383.0 755.0 385.0 755.0 387.0 755.0 389.0 755.0 391.0 755.0 393.0 755.0 395.0 755.0 397.0 755.0 405.0 747.0 405.0 745.0 405.0 743.0 405.0 741.0 405.0 739.0 405.0 737.0 405.0 735.0 405.0 733.0 405.0 731.0 405.0 729.0 405.0 727.0 405.0 725.0 405.0 723.0 405.0 721.0 405.0 719.0 405.0 717.0 405.0 715.0 405.0 713.0 405.0 711.0 405.0 709.0 405.0 707.0 405.0 705.0 405.0 703.0 405.0 701.0 405.0 699.0 405.0 697.0 405.0 695.0 405.0 693.0 405.0 691.0 405.0 689.0 405.0 687.0 405.0 685.0 405.0 683.0 405.0 681.0 405.0 679.0 405.0 677.0 405.0 675.0 405.0 673.0 405.0 671.0 405.0 669.0 405.0 667.0 405.0 665.0 405.0 663.0 405.0 661.0 405.0 659.0 405.0 657.0 405.0 655.0 405.0 653.0 405.0 651.0 405.0 649.0 405.0 647.0 405.0 645.0 405.0 643.0 405.0 641.0 405.0 639.0 405.0 637.0 405.0 635.0 405.0 633.0 405.0 631.0 405.0 629.0 405.0 627.0 405.0 625.0 405.0 623.0 405.0 621.0 405.0 619.0 405.0 617.0 405.0 615.0 405.0 613.0 405.0 611.0 405.0 609.0 405.0 607.0 405.0 605.0 405.0 603.0 405.0 601.0 405.0 599.0 405.0 597.0 405.0 595.0 405.0 593.0 405.0 591.0 405.0 589.0 405.0 587.0 405.0 585.0 405.0 583.0 405.0 581.0 405.0 579.0 405.0 577.0 405.0 575.0 405.0 573.0 405.0 571.0 405.0 569.0 405.0 567.0 405.0 565.0 405.0 563.0 405.0 561.0 405.0 559.0 405.0 557.0 405.0 555.0 405.0 553.0 405.0 551.0 405.0 549.0 405.0 547.0 405.0 545.0 405.0 543.0 405.0 541.0 405.0 539.0 405.0 537.0 405.0 535.0 405.0 533.0 405.0 531.0 405.0 529.0 405.0 527.0 405.0 525.0 405.0 523.0 405.0 521.0 405.0 519.0 405.0 517.0 405.0 515.0 405.0 513.0 405.0 511.0 405.0 509.0 405.0 507.0 405.0 505.0 405.0 503.0 405.0 501.0 405.0 499.0 405.0 497.0 405.0 495.0 405.0 493.0 405.0 491.0 405.0 489.0 405.0 487.0 405.0 485.0 405.0 483.0 405.0 481.0 405.0 479.0 405.0 477.0 405.0 475.0 405.0 473.0 405.0 471.0 405.0 469.0 405.0 467.0 405.0 465.0 405.0 463.0 405.0 461.0 405.0 459.0 405.0 457.0 405.0 455.0 405.0 453.0 405.0 451.0 405.0 449.0 405.0 448.2 405.0 448.2 397.0 448.2 395.0 448.2 393.0 448.2 391.0 448.2 389.0 448.2 387.0 448.2 385.0 448.2 383.0 448.2 381.0 448.2 379.0 448.2 377.0 448.2 375.0 448.2 373.0 448.2 371.0 448.2 369.0 448.1 367.0 448.1 365.0 447.7 363.0 447.0 361.4 446.5 361.0 445.0 360.2 443.0 360.0 441.0 360.0 439.0 360.0 437.0 360.0 435.0 360.2 433.0 360.8 432.7 361.0 431.0 362.7 430.8 363.0 430.2 365.0 430.0 367.0 430.0 369.0 430.0 371.0 430.0 373.0 430.0 375.0 430.0 377.0 430.0 379.0 430.0 381.0 430.0 383.0 429.9 385.0 429.6 387.0 429.0 388.0 428.0 389.0 427.0 389.6 425.0 389.8 423.0 389.6 422.0 389.0 421.0 388.0 420.4 387.0 420.1 385.0 420.0 383.0 420.0 381.0 420.0 379.0 420.0 377.0 420.0 375.0 420.0 373.0 420.0 371.0 420.0 369.0 420.0 367.0 419.8 365.0 419.2 363.0 419.0 362.7 417.3 361.0 417.0 360.8 415.0 360.2 413.0 360.0 411.0 360.0 409.0 360.0 407.0 360.0 405.0 360.2 403.0 360.8 402.7 361.0 401.0 362.7 400.8 363.0 400.0 365.0 399.0 367.0 399.0 367.0 397.0 367.9 395.0 368.1 393.0 368.0 391.0 367.4 390.6 367.0 389.8 365.0 389.0 363.5 388.6 363.0 387.0 362.3 385.0 361.9 383.0 361.7 381.0 361.4 379.6 361.0 379.0 360.8 377.0 360.4 375.0 360.2 373.0 360.8 372.7 361.0 371.0 362.7 370.8 363.0 370.4 365.0 371.0 366.3 371.4 367.0 373.0 367.7 375.0 368.1 377.0 368.3 379.0 368.6 380.4 369.0 381.0 369.2 383.0 369.7 385.0 370.0 387.0 370.6 387.4 371.0 388.0 373.0 388.1 375.0 387.9 377.0 387.0 379.0 387.0 379.0 385.0 379.9 383.0 380.3 381.0 380.8 380.4 381.0 379.0 381.4 377.0 381.7 375.0 381.9 373.0 382.3 371.4 383.0 371.0 383.5 370.2 385.0 370.0 387.0 370.0 389.0 370.0 391.0 370.0 393.0 370.0 395.0 370.0 397.0 370.0 405.0 369.0 405.0 367.0 405.0 365.0 405.0 363.0 405.0 361.0 405.0 359.0 405.0 357.0 405.0 355.0 405.0 353.0 405.0 351.0 405.0 350.0 405.0 350.0 397.0 350.0 395.0 350.0 393.0 350.0 391.0 350.0 389.0 350.0 387.0 350.0 385.0 350.0 383.0 350.0 381.0 349.0 380.0 347.0 380.0 345.0 379.9 343.0 379.6 342.0 379.0 341.0 378.0 340.4 377.0 339.9 375.0 339.0 373.0 339.0 373.0 337.0 372.1 335.0 371.9 333.0 372.0 331.0 372.2 329.0 372.4 327.0 372.5 325.0 372.6 323.0 372.6 321.0 372.6 319.0 372.6 317.0 372.6 315.0 372.8 314.3 373.0 313.0 374.3 312.7 375.0 312.4 377.0 311.8 379.0 311.0 380.1 310.1 381.0 309.0 381.8 307.0 382.4 305.0 382.5 303.0 382.6 301.0 382.6 299.0 382.6 297.0 382.6 295.0 382.8 294.3 383.0 293.0 384.3 292.7 385.0 292.4 387.0 291.8 389.0 291.0 390.1 290.1 391.0 289.0 391.8 287.0 392.4 285.0 392.5 283.0 392.6 281.0 392.6 279.0 392.6 277.0 392.6 275.0 392.6 273.0 392.6 271.0 392.6 269.0 392.6 267.0 392.6 265.0 392.8 264.3 393.0 263.0 394.3 262.8 395.0 262.6 397.0 262.6 405.0 261.0 405.0 259.0 405.0 257.0 405.0 255.0 405.0 253.0 405.0 251.0 405.0 249.0 405.0 247.0 405.0 245.0 405.0 243.0 405.0 241.0 405.0 239.0 405.0 237.0 405.0 235.0 405.0 233.0 405.0 231.0 405.0 229.0 405.0 227.0 405.0 225.0 405.0 223.0 405.0 221.0 405.0 219.0 405.0 217.0 405.0 215.0 405.0 213.0 405.0 211.0 405.0 209.0 405.0 207.0 405.0 205.0 405.0 203.0 405.0 201.0 405.0 199.0 405.0 197.0 405.0 195.0 405.0 193.0 405.0 185.0 405.0 185.0 397.0 185.0 395.0 185.0 393.0 185.0 391.0 185.0 389.0 185.0 387.0 185.0 385.0 185.0 383.0 185.0 381.0 185.0 379.0 185.0 377.0 185.0 375.0 185.0 373.0 185.0 371.0 185.0 369.0 185.0 367.0 185.0 365.0 185.0 363.0 185.0 361.0 185.0 359.0 185.0 357.0 185.0 355.0 185.0 353.0 185.0 351.0 185.0 349.0 185.0 347.0 185.0 345.0 185.0 343.0 185.0 341.0 185.0 339.0 185.0 337.0 185.0 335.0 185.0 333.0 185.0 331.0 185.0 329.0 185.0 327.0 185.0 325.0 185.0 323.0 185.0 321.0 185.0 319.0 185.0 317.0 185.0 315.0 185.0 313.0 185.0 311.0 185.0 309.0 185.0 307.0 185.0 305.0 185.0 303.0 185.0 301.0 185.0 299.0 185.0 297.0 185.0 295.0 185.0 293.0 185.0 291.0 185.0 289.0 185.0 287.0 185.0 285.0 185.0 283.0 185.0 281.0 185.0 279.0 185.0 277.0 185.0 275.0 185.0 273.0 185.0 271.0 185.0 269.0 185.0 267.0 185.0 265.0 185.0 263.0 185.0 261.0 185.0 259.0 185.0 257.0 185.0 255.0 185.0 253.0 185.0 251.0 185.0 249.0 185.0 247.0 185.0 245.0 185.0 243.0 185.0 241.0 185.0 239.0 185.0 237.0 185.0 235.0 185.0 233.0 185.0 231.0 185.0 229.0 185.0 227.0 185.0 225.0 185.0 223.0 185.0 221.0 185.0 219.0 185.0 217.0 185.0 215.0 185.0 213.0 185.0 211.0 185.0 209.0 185.0 207.0 185.0 205.0 185.0 203.0 185.0 201.0 185.0 199.0 185.0 197.0 185.0 195.0 185.0 193.0 185.0 191.0 185.0 189.0 185.0 187.0 185.0 185.0 185.0 183.0 185.0 181.0 185.0 179.0 185.0 177.0 185.0 175.0 185.0 173.0 185.0 171.0 185.0 169.0 185.0 167.0 185.0 165.0 185.0 163.0 185.0 161.0 185.0 159.0 185.0 157.0 185.0 155.0 185.0 153.0 185.0 151.0 185.0 149.0 185.0 147.0 185.0 145.0 185.0 143.0 185.0 135.0ZM353.0 370.5 352.0 371.0 351.0 372.0 350.4 373.0 350.1 375.0 350.0 377.0 350.0 379.0 351.0 380.0 353.0 380.0 355.0 379.8 357.0 379.0 357.0 379.0 357.8 377.0 358.0 375.0 357.8 373.0 357.0 371.0 356.9 371.0 355.0 370.3 353.0 370.5Z"/><path fill="#ddb57b" d="M185.0 135.0 193.0 135.0 195.0 135.0 197.0 135.0 199.0 135.0 201.0 135.0 203.0 135.0 205.0 135.0 207.0 135.0 209.0 135.0 211.0 135.0 213.0 135.0 215.0 135.0 217.0 135.0 219.0 135.0 221.0 135.0 223.0 135.0 225.0 135.0 227.0 135.0 229.0 135.0 231.0 135.0 233.0 135.0 235.0 135.0 237.0 135.0 239.0 135.0 241.0 135.0 243.0 135.0 245.0 135.0 247.0 135.0 249.0 135.0 251.0 135.0 253.0 135.0 255.0 135.0 257.0 135.0 259.0 135.0 261.0 135.0 263.0 135.0 265.0 135.0 267.0 135.0 269.0 135.0 271.0 135.0 273.0 135.0 275.0 135.0 277.0 135.0 279.0 135.0 281.0 135.0 283.0 135.0 285.0 135.0 287.0 135.0 289.0 135.0 291.0 135.0 293.0 135.0 295.0 135.0 297.0 135.0 299.0 135.0 301.0 135.0 303.0 135.0 305.0 135.0 307.0 135.0 309.0 135.0 311.0 135.0 313.0 135.0 315.0 135.0 317.0 135.0 319.0 135.0 321.0 135.0 323.0 135.0 325.0 135.0 327.0 135.0 329.0 135.0 331.0 135.0 333.0 135.0 335.0 135.0 337.0 135.0 339.0 135.0 341.0 135.0 343.0 135.0 345.0 135.0 347.0 135.0 349.0 135.0 351.0 135.0 353.0 135.0 355.0 135.0 357.0 135.0 359.0 135.0 361.0 135.0 363.0 135.0 365.0 135.0 367.0 135.0 369.0 135.0 371.0 135.0 373.0 135.0 375.0 135.0 377.0 135.0 379.0 135.0 381.0 135.0 383.0 135.0 385.0 135.0 387.0 135.0 389.0 135.0 391.0 135.0 393.0 135.0 395.0 135.0 397.0 135.0 399.0 135.0 401.0 135.0 403.0 135.0 405.0 135.0 407.0 135.0 409.0 135.0 411.0 135.0 413.0 135.0 415.0 135.0 417.0 135.0 419.0 135.0 421.0 135.0 423.0 135.0 425.0 135.0 427.0 135.0 429.0 135.0 431.0 135.0 433.0 135.0 435.0 135.0 437.0 135.0 439.0 135.0 441.0 135.0 443.0 135.0 445.0 135.0 447.0 135.0 449.0 135.0 451.0 135.0 453.0 135.0 455.0 135.0 457.0 135.0 459.0 135.0 461.0 135.0 463.0 135.0 465.0 135.0 467.0 135.0 469.0 135.0 471.0 135.0 473.0 135.0 475.0 135.0 477.0 135.0 479.0 135.0 481.0 135.0 483.0 135.0 485.0 135.0 487.0 135.0 489.0 135.0 491.0 135.0 493.0 135.0 495.0 135.0 497.0 135.0 499.0 135.0 501.0 135.0 503.0 135.0 505.0 135.0 507.0 135.0 509.0 135.0 511.0 135.0 513.0 135.0 515.0 135.0 517.0 135.0 519.0 135.0 521.0 135.0 523.0 135.0 525.0 135.0 527.0 135.0 529.0 135.0 531.0 135.0 533.0 135.0 535.0 135.0 537.0 135.0 539.0 135.0 541.0 135.0 543.0 135.0 545.0 135.0 547.0 135.0 549.0 135.0 551.0 135.0 553.0 135.0 555.0 135.0 557.0 135.0 559.0 135.0 561.0 135.0 563.0 135.0 565.0 135.0 567.0 135.0 569.0 135.0 571.0 135.0 573.0 135.0 575.0 135.0 577.0 135.0 579.0 135.0 581.0 135.0 583.0 135.0 585.0 135.0 587.0 135.0 589.0 135.0 591.0 135.0 593.0 135.0 595.0 135.0 597.0 135.0 599.0 135.0 601.0 135.0 603.0 135.0 605.0 135.0 607.0 135.0 609.0 135.0 611.0 135.0 613.0 135.0 615.0 135.0 617.0 135.0 619.0 135.0 621.0 135.0 623.0 135.0 625.0 135.0 627.0 135.0 629.0 135.0 631.0 135.0 633.0 135.0 635.0 135.0 637.0 135.0 639.0 135.0 641.0 135.0 643.0 135.0 645.0 135.0 647.0 135.0 649.0 135.0 651.0 135.0 653.0 135.0 655.0 135.0 657.0 135.0 659.0 135.0 661.0 135.0 663.0 135.0 665.0 135.0 667.0 135.0 669.0 135.0 671.0 135.0 673.0 135.0 675.0 135.0 677.0 135.0 679.0 135.0 681.0 135.0 683.0 135.0 685.0 135.0 687.0 135.0 689.0 135.0 691.0 135.0 693.0 135.0 695.0 135.0 697.0 135.0 699.0 135.0 701.0 135.0 703.0 135.0 705.0 135.0 707.0 135.0 709.0 135.0 711.0 135.0 713.0 135.0 715.0 135.0 717.0 135.0 719.0 135.0 721.0 135.0 723.0 135.0 725.0 135.0 727.0 135.0 729.0 135.0 731.0 135.0 733.0 135.0 735.0 135.0 737.0 135.0 739.0 135.0 741.0 135.0 743.0 135.0 745.0 135.0 747.0 135.0 755.0 135.0 755.0 143.0 755.0 145.0 755.0 147.0 755.0 149.0 755.0 151.0 755.0 153.0 755.0 155.0 755.0 157.0 755.0 159.0 755.0 161.0 755.0 163.0 755.0 165.0 755.0 167.0 755.0 169.0 755.0 171.0 755.0 173.0 755.0 175.0 755.0 177.0 755.0 179.0 755.0 181.0 755.0 183.0 755.0 185.0 755.0 187.0 755.0 189.0 755.0 191.0 755.0 193.0 755.0 195.0 755.0 197.0 755.0 199.0 755.0 201.0 755.0 203.0 755.0 205.0 755.0 207.0 755.0 209.0 755.0 211.0 755.0 213.0 755.0 215.0 755.0 217.0 755.0 219.0 755.0 221.0 755.0 223.0 755.0 225.0 755.0 227.0 755.0 229.0 755.0 231.0 755.0 233.0 755.0 235.0 755.0 237.0 755.0 239.0 755.0 241.0 755.0 243.0 755.0 245.0 755.0 247.0 755.0 249.0 755.0 251.0 755.0 253.0 755.0 255.0 755.0 257.0 755.0 259.0 755.0 261.0 755.0 263.0 755.0 265.0 755.0 267.0 755.0 269.0 755.0 271.0 755.0 273.0 755.0 275.0 755.0 277.0 755.0 279.0 755.0 281.0 755.0 283.0 755.0 285.0 755.0 287.0 755.0 289.0 755.0 291.0 755.0 293.0 755.0 295.0 755.0 297.0 755.0 299.0 755.0 301.0 755.0 303.0 755.0 305.0 755.0 307.0 755.0 309.0 755.0 311.0 755.0 313.0 755.0 315.0 755.0 317.0 755.0 319.0 755.0 321.0 755.0 323.0 755.0 325.0 755.0 327.0 755.0 329.0 755.0 331.0 755.0 333.0 755.0 335.0 755.0 337.0 755.0 339.0 755.0 341.0 755.0 343.0 755.0 345.0 755.0 347.0 755.0 349.0 755.0 351.0 755.0 353.0 755.0 355.0 755.0 357.0 755.0 359.0 755.0 361.0 755.0 363.0 755.0 365.0 755.0 367.0 755.0 369.0 755.0 371.0 755.0 373.0 755.0 375.0 755.0 377.0 755.0 379.0 755.0 381.0 755.0 383.0 755.0 385.0 755.0 387.0 755.0 389.0 755.0 391.0 755.0 393.0 755.0 395.0 755.0 397.0 755.0 405.0 747.0 405.0 745.0 405.0 743.0 405.0 741.0 405.0 739.0 405.0 737.0 405.0 735.0 405.0 733.0 405.0 731.0 405.0 729.0 405.0 727.0 405.0 725.0 405.0 723.0 405.0 721.0 405.0 719.0 405.0 717.0 405.0 715.0 405.0 713.0 405.0 711.0 405.0 709.0 405.0 707.0 405.0 705.0 405.0 703.0 405.0 701.0 405.0 699.0 405.0 697.0 405.0 695.0 405.0 693.0 405.0 691.0 405.0 689.0 405.0 687.0 405.0 685.0 405.0 683.0 405.0 681.0 405.0 679.0 405.0 677.0 405.0 675.0 405.0 673.0 405.0 671.0 405.0 669.0 405.0 667.0 405.0 665.0 405.0 663.0 405.0 661.0 405.0 659.0 405.0 657.0 405.0 655.0 405.0 653.0 405.0 651.0 405.0 649.0 405.0 647.0 405.0 645.0 405.0 643.0 405.0 641.0 405.0 639.0 405.0 637.0 405.0 635.0 405.0 633.0 405.0 631.0 405.0 629.0 405.0 627.0 405.0 625.0 405.0 623.0 405.0 621.0 405.0 619.0 405.0 617.0 405.0 615.0 405.0 613.0 405.0 611.0 405.0 609.0 405.0 607.0 405.0 605.0 405.0 603.0 405.0 601.0 405.0 599.0 405.0 597.0 405.0 595.0 405.0 593.0 405.0 591.0 405.0 589.0 405.0 587.0 405.0 585.0 405.0 583.0 405.0 581.0 405.0 579.0 405.0 577.0 405.0 575.0 405.0 573.0 405.0 571.0 405.0 569.0 405.0 567.0 405.0 565.0 405.0 563.0 405.0 561.0 405.0 559.0 405.0 557.0 405.0 555.0 405.0 553.0 405.0 551.0 405.0 549.0 405.0 547.0 405.0 545.0 405.0 543.0 405.0 541.0 405.0 539.0 405.0 537.0 405.0 535.0 405.0 533.0 405.0 531.0 405.0 529.0 405.0 527.0 405.0 525.0 405.0 523.0 405.0 521.0 405.0 519.0 405.0 517.0 405.0 515.0 405.0 513.0 405.0 511.0 405.0 509.0 405.0 507.0 405.0 505.0 405.0 503.0 405.0 501.0 405.0 499.0 405.0 497.0 405.0 495.0 405.0 493.0 405.0 491.0 405.0 489.0 405.0 487.0 405.0 485.0 405.0 483.0 405.0 481.0 405.0 479.0 405.0 477.0 405.0 475.0 405.0 473.0 405.0 471.0 405.0 469.0 405.0 467.0 405.0 465.0 405.0 463.0 405.0 461.0 405.0 459.0 405.0 457.0 405.0 455.0 405.0 453.0 405.0 451.8 405.0 451.8 397.0 451.8 395.0 451.8 393.0 451.8 391.0 451.8 389.0 451.8 387.0 451.8 385.0 451.8 383.0 451.8 381.0 451.8 379.0 451.8 377.0 451.8 375.0 451.8 373.0 451.8 371.0 451.8 369.0 451.8 367.0 451.8 365.0 451.7 363.0 451.4 361.0 451.0 359.6 450.8 359.0 450.3 357.0 450.0 355.0 449.6 353.0 449.0 352.0 448.0 351.0 447.0 350.4 445.0 350.1 443.0 350.0 441.0 350.0 439.0 350.0 437.0 350.0 435.0 350.1 433.0 350.4 432.0 351.0 431.0 352.0 430.4 353.0 429.9 355.0 429.2 357.0 429.0 357.3 427.3 359.0 427.0 359.2 425.0 359.7 423.0 359.2 422.7 359.0 421.0 357.3 420.8 357.0 420.1 355.0 419.6 353.0 419.0 352.0 418.0 351.0 417.0 350.4 415.0 350.1 413.0 350.0 411.0 350.0 409.0 350.0 407.0 350.0 405.0 350.2 403.0 350.8 402.7 351.0 401.0 352.7 400.8 353.0 400.0 355.0 399.2 357.0 399.0 357.3 397.3 359.0 397.0 359.2 395.0 359.8 393.0 359.6 391.0 359.2 390.4 359.0 389.0 358.6 387.0 358.3 385.0 358.1 383.0 357.7 381.4 357.0 381.0 356.5 380.2 355.0 379.6 353.0 379.0 352.0 378.0 351.0 377.0 350.4 375.0 350.2 373.0 350.4 372.0 351.0 371.0 352.0 370.4 353.0 369.9 355.0 369.2 357.0 369.0 357.3 367.3 359.0 367.0 359.2 365.0 359.8 363.0 360.0 361.0 360.0 359.0 360.0 357.0 360.0 355.0 360.0 353.0 360.0 351.0 360.0 349.0 360.0 347.0 360.0 345.0 360.1 343.0 360.4 342.0 361.0 341.0 362.0 340.4 363.0 339.9 365.0 339.0 367.0 339.0 367.0 337.0 367.9 335.0 368.2 333.0 368.5 331.4 369.0 331.0 369.1 329.0 369.6 327.0 369.9 325.0 370.0 323.0 370.0 321.0 370.0 319.0 370.0 317.0 370.0 315.0 370.1 313.0 370.4 312.0 371.0 311.0 372.0 310.4 373.0 310.0 375.0 309.6 377.0 309.0 378.0 308.0 379.0 307.0 379.6 305.0 379.9 303.0 380.0 301.0 380.0 299.0 380.0 297.0 380.0 295.0 380.1 293.0 380.4 292.0 381.0 291.0 382.0 290.4 383.0 290.0 385.0 289.6 387.0 289.0 388.0 288.0 389.0 287.0 389.6 285.0 389.9 283.0 390.0 281.0 390.0 279.0 390.0 277.0 390.0 275.0 390.0 273.0 390.0 271.0 390.0 269.0 390.0 267.0 390.0 265.0 390.1 263.0 390.4 262.0 391.0 261.0 392.0 260.4 393.0 260.1 395.0 260.0 397.0 260.0 405.0 259.0 405.0 257.0 405.0 255.0 405.0 253.0 405.0 251.0 405.0 249.0 405.0 247.0 405.0 245.0 405.0 243.0 405.0 241.0 405.0 239.0 405.0 237.0 405.0 235.0 405.0 233.0 405.0 231.0 405.0 229.0 405.0 227.0 405.0 225.0 405.0 223.0 405.0 221.0 405.0 219.0 405.0 217.0 405.0 215.0 405.0 213.0 405.0 211.0 405.0 209.0 405.0 207.0 405.0 205.0 405.0 203.0 405.0 201.0 405.0 199.0 405.0 197.0 405.0 195.0 405.0 193.0 405.0 185.0 405.0 185.0 397.0 185.0 395.0 185.0 393.0 185.0 391.0 185.0 389.0 185.0 387.0 185.0 385.0 185.0 383.0 185.0 381.0 185.0 379.0 185.0 377.0 185.0 375.0 185.0 373.0 185.0 371.0 185.0 369.0 185.0 367.0 185.0 365.0 185.0 363.0 185.0 361.0 185.0 359.0 185.0 357.0 185.0 355.0 185.0 353.0 185.0 351.0 185.0 349.0 185.0 347.0 185.0 345.0 185.0 343.0 185.0 341.0 185.0 339.0 185.0 337.0 185.0 335.0 185.0 333.0 185.0 331.0 185.0 329.0 185.0 327.0 185.0 325.0 185.0 323.0 185.0 321.0 185.0 319.0 185.0 317.0 185.0 315.0 185.0 313.0 185.0 311.0 185.0 309.0 185.0 307.0 185.0 305.0 185.0 303.0 185.0 301.0 185.0 299.0 185.0 297.0 185.0 295.0 185.0 293.0 185.0 291.0 185.0 289.0 185.0 287.0 185.0 285.0 185.0 283.0 185.0 281.0 185.0 279.0 185.0 277.0 185.0 275.0 185.0 273.0 185.0 271.0 185.0 269.0 185.0 267.0 185.0 265.0 185.0 263.0 185.0 261.0 185.0 259.0 185.0 257.0 185.0 255.0 185.0 253.0 185.0 251.0 185.0 249.0 185.0 247.0 185.0 245.0 185.0 243.0 185.0 241.0 185.0 239.0 185.0 237.0 185.0 235.0 185.0 233.0 185.0 231.0 185.0 229.0 185.0 227.0 185.0 225.0 185.0 223.0 185.0 221.0 185.0 219.0 185.0 217.0 185.0 215.0 185.0 213.0 185.0 211.0 185.0 209.0 185.0 207.0 185.0 205.0 185.0 203.0 185.0 201.0 185.0 199.0 185.0 197.0 185.0 195.0 185.0 193.0 185.0 191.0 185.0 189.0 185.0 187.0 185.0 185.0 185.0 183.0 185.0 181.0 185.0 179.0 185.0 177.0 185.0 175.0 185.0 173.0 185.0 171.0 185.0 169.0 185.0 167.0 185.0 165.0 185.0 163.0 185.0 161.0 185.0 159.0 185.0 157.0 185.0 155.0 185.0 153.0 185.0 151.0 185.0 149.0 185.0 147.0 185.0 145.0 185.0 143.0 185.0 135.0ZM363.0 371.0 365.0 370.2 367.0 370.4 369.0 370.8 369.6 371.0 371.0 371.4 373.0 371.7 375.0 371.9 377.0 372.3 378.5 373.0 379.0 373.8 379.5 375.0 379.0 376.2 378.5 377.0 377.0 377.7 375.0 378.1 373.0 378.3 371.0 378.6 369.6 379.0 369.0 379.2 367.0 379.6 365.0 379.8 363.0 379.0 363.0 379.0 362.1 377.0 362.0 375.0 362.1 373.0 363.0 371.0 363.0 371.0Z"/><path fill="#f4d2b0" d="M185.0 135.0 193.0 135.0 195.0 135.0 197.0 135.0 199.0 135.0 201.0 135.0 203.0 135.0 205.0 135.0 207.0 135.0 209.0 135.0 211.0 135.0 213.0 135.0 215.0 135.0 217.0 135.0 219.0 135.0 221.0 135.0 223.0 135.0 225.0 135.0 227.0 135.0 229.0 135.0 231.0 135.0 233.0 135.0 235.0 135.0 237.0 135.0 239.0 135.0 241.0 135.0 243.0 135.0 245.0 135.0 247.0 135.0 249.0 135.0 251.0 135.0 253.0 135.0 255.0 135.0 257.0 135.0 259.0 135.0 261.0 135.0 263.0 135.0 265.0 135.0 267.0 135.0 269.0 135.0 271.0 135.0 273.0 135.0 275.0 135.0 277.0 135.0 279.0 135.0 281.0 135.0 283.0 135.0 285.0 135.0 287.0 135.0 289.0 135.0 291.0 135.0 293.0 135.0 295.0 135.0 297.0 135.0 299.0 135.0 301.0 135.0 303.0 135.0 305.0 135.0 307.0 135.0 309.0 135.0 311.0 135.0 313.0 135.0 315.0 135.0 317.0 135.0 319.0 135.0 321.0 135.0 323.0 135.0 325.0 135.0 327.0 135.0 329.0 135.0 331.0 135.0 333.0 135.0 335.0 135.0 337.0 135.0 339.0 135.0 341.0 135.0 343.0 135.0 345.0 135.0 347.0 135.0 349.0 135.0 351.0 135.0 353.0 135.0 355.0 135.0 357.0 135.0 359.0 135.0 361.0 135.0 363.0 135.0 365.0 135.0 367.0 135.0 369.0 135.0 371.0 135.0 373.0 135.0 375.0 135.0 377.0 135.0 379.0 135.0 381.0 135.0 383.0 135.0 385.0 135.0 387.0 135.0 389.0 135.0 391.0 135.0 393.0 135.0 395.0 135.0 397.0 135.0 399.0 135.0 401.0 135.0 403.0 135.0 405.0 135.0 407.0 135.0 409.0 135.0 411.0 135.0 413.0 135.0 415.0 135.0 417.0 135.0 419.0 135.0 421.0 135.0 423.0 135.0 425.0 135.0 427.0 135.0 429.0 135.0 431.0 135.0 433.0 135.0 435.0 135.0 437.0 135.0 439.0 135.0 441.0 135.0 443.0 135.0 445.0 135.0 447.0 135.0 449.0 135.0 451.0 135.0 453.0 135.0 455.0 135.0 457.0 135.0 459.0 135.0 461.0 135.0 463.0 135.0 465.0 135.0 467.0 135.0 469.0 135.0 471.0 135.0 473.0 135.0 475.0 135.0 477.0 135.0 479.0 135.0 481.0 135.0 483.0 135.0 485.0 135.0 487.0 135.0 489.0 135.0 491.0 135.0 493.0 135.0 495.0 135.0 497.0 135.0 499.0 135.0 501.0 135.0 503.0 135.0 505.0 135.0 507.0 135.0 509.0 135.0 511.0 135.0 513.0 135.0 513.7 135.0 513.8 143.0 514.1 145.0 515.0 146.1 517.0 146.8 517.5 147.0 519.0 147.3 521.0 148.5 521.5 149.0 522.7 151.0 523.0 152.6 523.2 153.0 523.7 155.0 525.0 156.5 527.0 157.0 529.0 156.9 531.0 156.8 533.0 156.7 535.0 156.6 537.0 156.7 539.0 156.8 541.0 156.9 542.6 157.0 543.0 157.0 543.1 157.0 545.0 156.7 546.8 155.0 547.0 154.2 547.1 153.0 547.4 151.0 548.1 149.0 549.0 147.3 549.1 147.0 549.8 145.0 550.0 143.0 550.0 135.0 551.0 135.0 553.0 135.0 555.0 135.0 557.0 135.0 559.0 135.0 560.0 135.0 560.0 143.0 560.2 145.0 560.9 147.0 561.0 147.3 561.9 149.0 562.6 151.0 562.8 153.0 562.9 155.0 562.8 157.0 562.6 159.0 561.9 161.0 561.0 162.8 560.9 163.0 560.6 165.0 561.0 165.9 561.6 167.0 563.0 168.4 563.9 169.0 565.0 169.6 567.0 170.0 569.0 170.0 571.0 170.0 573.0 170.0 575.0 169.8 577.0 169.2 577.3 169.0 579.0 167.3 579.2 167.0 579.9 165.0 580.4 163.0 581.0 162.0 582.0 161.0 583.0 160.4 585.0 160.1 587.0 160.0 589.0 160.0 591.0 160.0 593.0 160.0 595.0 159.8 597.0 159.1 597.3 159.0 599.0 158.1 601.0 157.4 603.0 157.1 603.9 157.0 605.0 156.6 606.3 155.0 606.7 153.0 607.0 151.7 607.1 151.0 607.4 149.0 607.8 147.0 608.1 145.0 608.1 143.0 608.2 135.0 609.0 135.0 611.0 135.0 613.0 135.0 615.0 135.0 617.0 135.0 619.0 135.0 621.0 135.0 623.0 135.0 625.0 135.0 627.0 135.0 629.0 135.0 631.0 135.0 633.0 135.0 635.0 135.0 637.0 135.0 639.0 135.0 641.0 135.0 643.0 135.0 645.0 135.0 647.0 135.0 649.0 135.0 651.0 135.0 653.0 135.0 655.0 135.0 657.0 135.0 659.0 135.0 661.0 135.0 663.0 135.0 665.0 135.0 667.0 135.0 669.0 135.0 671.0 135.0 673.0 135.0 675.0 135.0 677.0 135.0 679.0 135.0 681.0 135.0 683.0 135.0 685.0 135.0 687.0 135.0 689.0 135.0 691.0 135.0 693.0 135.0 695.0 135.0 697.0 135.0 699.0 135.0 701.0 135.0 703.0 135.0 705.0 135.0 707.0 135.0 709.0 135.0 711.0 135.0 713.0 135.0 715.0 135.0 717.0 135.0 719.0 135.0 721.0 135.0 723.0 135.0 725.0 135.0 727.0 135.0 729.0 135.0 731.0 135.0 733.0 135.0 735.0 135.0 737.0 135.0 739.0 135.0 741.0 135.0 743.0 135.0 745.0 135.0 747.0 135.0 755.0 135.0 755.0 143.0 755.0 145.0 755.0 147.0 755.0 149.0 755.0 151.0 755.0 153.0 755.0 155.0 755.0 157.0 755.0 159.0 755.0 161.0 755.0 163.0 755.0 165.0 755.0 167.0 755.0 169.0 755.0 171.0 755.0 173.0 755.0 175.0 755.0 177.0 755.0 179.0 755.0 181.0 755.0 183.0 755.0 185.0 755.0 187.0 755.0 189.0 755.0 191.0 755.0 193.0 755.0 195.0 755.0 197.0 755.0 199.0 755.0 201.0 755.0 203.0 755.0 205.0 755.0 207.0 755.0 209.0 755.0 211.0 755.0 213.0 755.0 215.0 755.0 217.0 755.0 219.0 755.0 221.0 755.0 223.0 755.0 225.0 755.0 227.0 755.0 229.0 755.0 231.0 755.0 233.0 755.0 235.0 755.0 237.0 755.0 239.0 755.0 241.0 755.0 243.0 755.0 245.0 755.0 247.0 755.0 249.0 755.0 251.0 755.0 253.0 755.0 255.0 755.0 257.0 755.0 259.0 755.0 261.0 755.0 263.0 755.0 265.0 755.0 267.0 755.0 269.0 755.0 271.0 755.0 273.0 755.0 275.0 755.0 277.0 755.0 279.0 755.0 281.0 755.0 283.0 755.0 285.0 755.0 287.0 755.0 289.0 755.0 291.0 755.0 293.0 755.0 295.0 755.0 297.0 755.0 299.0 755.0 301.0 755.0 303.0 755.0 305.0 755.0 307.0 755.0 309.0 755.0 311.0 755.0 313.0 755.0 315.0 755.0 317.0 755.0 319.0 755.0 321.0 755.0 323.0 755.0 325.0 755.0 327.0 755.0 329.0 755.0 331.0 755.0 333.0 755.0 335.0 755.0 337.0 755.0 339.0 755.0 341.0 755.0 343.0 755.0 345.0 755.0 347.0 755.0 349.0 755.0 351.0 755.0 353.0 755.0 355.0 755.0 357.0 755.0 359.0 755.0 361.0 755.0 363.0 755.0 365.0 755.0 367.0 755.0 369.0 755.0 371.0 755.0 373.0 755.0 375.0 755.0 377.0 755.0 379.0 755.0 381.0 755.0 383.0 755.0 385.0 755.0 387.0 755.0 389.0 755.0 391.0 755.0 393.0 755.0 395.0 755.0 397.0 755.0 405.0 747.0 405.0 745.0 405.0 743.0 405.0 741.0 405.0 739.0 405.0 737.0 405.0 735.0 405.0 733.0 405.0 731.0 405.0 729.0 405.0 727.0 405.0 725.0 405.0 723.0 405.0 721.0 405.0 719.0 405.0 717.0 405.0 715.0 405.0 713.0 405.0 711.0 405.0 709.0 405.0 707.0 405.0 705.0 405.0 703.0 405.0 701.0 405.0 699.0 405.0 697.0 405.0 695.0 405.0 693.0 405.0 691.0 405.0 689.0 405.0 687.0 405.0 685.0 405.0 683.0 405.0 681.0 405.0 679.0 405.0 677.4 405.0 677.4 397.0 677.2 395.0 677.0 394.4 675.6 393.0 675.0 392.8 673.0 392.6 671.0 392.6 669.0 392.6 667.0 392.6 665.0 392.5 663.0 392.4 661.0 391.8 659.9 391.0 659.0 390.1 658.2 389.0 657.6 387.0 657.3 385.0 657.0 384.3 655.7 383.0 655.0 382.7 653.0 382.4 651.0 381.8 649.9 381.0 649.0 380.1 648.2 379.0 647.6 377.0 647.3 375.0 647.0 374.3 645.7 373.0 645.0 372.8 643.0 372.6 641.0 372.6 639.0 372.6 637.0 372.6 635.0 372.6 633.0 372.9 632.8 373.0 631.0 374.4 630.4 375.0 629.6 377.0 629.0 378.1 628.0 379.0 627.0 379.6 625.0 380.1 623.0 380.8 622.7 381.0 621.0 382.7 620.8 383.0 620.2 385.0 620.0 387.0 620.0 389.0 620.0 391.0 620.0 393.0 620.0 395.0 620.0 397.0 620.0 405.0 619.0 405.0 617.0 405.0 615.0 405.0 613.0 405.0 611.0 405.0 609.0 405.0 607.0 405.0 605.0 405.0 603.0 405.0 601.0 405.0 599.0 405.0 597.0 405.0 595.0 405.0 593.0 405.0 591.0 405.0 589.0 405.0 587.0 405.0 585.0 405.0 583.0 405.0 581.0 405.0 579.0 405.0 577.0 405.0 575.0 405.0 573.0 405.0 571.0 405.0 569.0 405.0 567.0 405.0 565.0 405.0 563.0 405.0 561.0 405.0 559.0 405.0 557.0 405.0 555.0 405.0 553.0 405.0 551.0 405.0 549.0 405.0 547.0 405.0 545.0 405.0 543.0 405.0 541.0 405.0 539.0 405.0 537.0 405.0 535.0 405.0 533.0 405.0 531.0 405.0 529.0 405.0 527.0 405.0 525.0 405.0 523.0 405.0 521.0 405.0 519.0 405.0 517.0 405.0 515.0 405.0 513.0 405.0 511.0 405.0 509.0 405.0 507.0 405.0 505.0 405.0 503.0 405.0 501.0 405.0 499.0 405.0 497.0 405.0 495.0 405.0 493.0 405.0 491.0 405.0 489.0 405.0 487.0 405.0 485.0 405.0 483.0 405.0 481.0 405.0 479.0 405.0 477.0 405.0 475.0 405.0 473.0 405.0 471.0 405.0 470.0 405.0 470.0 397.0 470.0 395.0 470.0 393.0 470.0 391.0 470.0 389.0 470.0 387.0 470.0 385.0 470.0 383.0 470.0 381.0 470.0 379.0 470.0 377.0 470.0 375.0 470.0 373.0 470.0 371.0 470.0 369.0 470.0 367.0 470.0 365.0 470.0 363.0 470.0 361.0 470.0 359.0 470.0 357.0 469.9 355.0 469.6 353.0 469.0 352.0 468.0 351.0 467.0 350.4 465.0 350.0 463.0 349.6 462.0 349.0 461.0 348.0 460.4 347.0 459.9 345.0 459.0 343.0 459.0 343.0 457.0 342.1 455.0 341.9 453.0 341.7 451.0 341.4 449.6 341.0 449.0 340.8 447.0 340.3 445.0 340.1 443.0 340.0 441.0 340.0 439.0 340.0 437.0 340.0 435.0 340.0 433.0 340.0 431.0 340.0 429.0 340.0 427.0 340.0 425.0 340.0 423.0 340.0 421.0 340.0 419.0 340.0 417.0 340.0 415.0 340.1 413.0 340.3 411.0 340.8 410.4 341.0 409.0 341.4 407.0 341.7 405.0 341.9 403.0 342.2 401.4 343.0 401.0 343.4 400.1 345.0 399.3 347.0 399.0 347.3 397.3 349.0 397.0 349.2 395.0 349.8 393.0 349.5 392.0 349.0 391.0 348.0 390.4 347.0 389.9 345.0 389.2 343.0 389.0 342.7 387.3 341.0 387.0 340.8 385.0 340.2 383.0 340.0 381.0 340.0 379.0 340.0 377.0 340.0 375.0 340.0 373.0 340.0 371.0 340.0 369.0 340.0 367.0 340.0 365.0 340.1 363.0 340.3 361.0 340.8 360.4 341.0 359.0 341.4 357.0 341.7 355.0 341.8 353.0 341.8 351.0 341.8 349.0 341.8 347.0 341.9 345.0 342.0 343.0 342.5 342.0 343.0 341.0 344.1 340.3 345.0 339.6 347.0 339.0 348.1 338.1 349.0 337.0 349.6 335.0 350.3 333.9 351.0 333.0 351.6 331.6 353.0 331.0 353.9 330.4 355.0 330.0 357.0 330.0 359.0 330.0 361.0 330.0 363.0 329.6 365.0 329.0 365.7 327.4 367.0 327.0 367.1 325.0 367.4 323.0 367.4 321.0 367.4 319.0 367.4 317.0 367.4 315.0 367.5 313.0 367.6 311.0 368.2 309.9 369.0 309.0 369.9 308.2 371.0 307.6 373.0 307.3 375.0 307.0 375.7 305.7 377.0 305.0 377.2 303.0 377.4 301.0 377.4 299.0 377.4 297.0 377.4 295.0 377.5 293.0 377.6 291.0 378.2 289.9 379.0 289.0 379.9 288.2 381.0 287.6 383.0 287.3 385.0 287.0 385.7 285.7 387.0 285.0 387.2 283.0 387.4 281.0 387.4 279.0 387.4 277.0 387.4 275.0 387.4 273.0 387.4 271.0 387.4 269.0 387.4 267.0 387.4 265.0 387.5 263.0 387.6 261.0 388.2 259.9 389.0 259.0 389.9 258.2 391.0 257.6 393.0 257.5 395.0 257.4 397.0 257.4 405.0 257.0 405.0 255.0 405.0 253.0 405.0 251.0 405.0 249.0 405.0 247.0 405.0 245.0 405.0 243.0 405.0 241.0 405.0 239.0 405.0 237.0 405.0 235.0 405.0 233.0 405.0 231.0 405.0 229.0 405.0 227.0 405.0 225.0 405.0 223.0 405.0 221.0 405.0 219.0 405.0 217.0 405.0 215.0 405.0 213.0 405.0 211.0 405.0 209.0 405.0 207.0 405.0 205.0 405.0 203.0 405.0 201.0 405.0 199.0 405.0 197.0 405.0 195.0 405.0 193.0 405.0 185.0 405.0 185.0 397.0 185.0 395.0 185.0 393.0 185.0 391.0 185.0 389.0 185.0 387.0 185.0 385.0 185.0 383.0 185.0 381.0 185.0 379.0 185.0 377.0 185.0 375.0 185.0 373.0 185.0 371.0 185.0 369.0 185.0 367.0 185.0 365.0 185.0 363.0 185.0 361.0 185.0 359.0 185.0 357.0 185.0 355.0 185.0 353.0 185.0 351.0 185.0 349.0 185.0 347.0 185.0 345.0 185.0 343.0 185.0 341.0 185.0 339.0 185.0 337.0 185.0 335.0 185.0 333.0 185.0 331.0 185.0 329.0 185.0 327.0 185.0 325.0 185.0 323.0 185.0 321.0 185.0 319.0 185.0 317.0 185.0 315.0 185.0 313.0 185.0 311.0 185.0 309.0 185.0 307.0 185.0 305.0 185.0 303.0 185.0 301.0 185.0 299.0 185.0 297.0 185.0 295.0 185.0 293.0 185.0 291.0 185.0 289.0 185.0 287.0 185.0 285.0 185.0 283.0 185.0 281.0 185.0 279.0 185.0 277.0 185.0 275.0 185.0 273.0 185.0 271.0 185.0 269.0 185.0 267.0 185.0 265.0 185.0 263.0 185.0 261.0 185.0 259.0 185.0 257.0 185.0 255.0 185.0 253.0 185.0 251.0 185.0 249.0 185.0 247.0 185.0 245.0 185.0 243.0 185.0 241.0 185.0 239.0 185.0 237.0 185.0 235.0 185.0 233.0 185.0 231.0 185.0 229.0 185.0 227.0 185.0 225.0 185.0 223.0 185.0 221.0 185.0 219.0 185.0 217.0 185.0 215.0 185.0 213.0 185.0 211.0 185.0 209.0 185.0 207.0 185.0 205.0 185.0 203.0 185.0 201.0 185.0 199.0 185.0 197.0 185.0 195.0 185.0 193.0 185.0 191.0 185.0 189.0 185.0 187.0 185.0 185.0 185.0 183.0 185.0 181.0 185.0 179.0 185.0 177.0 185.0 175.0 185.0 173.0 185.0 171.0 185.0 169.0 185.0 167.0 185.0 165.0 185.0 163.0 185.0 161.0 185.0 159.0 185.0 157.0 185.0 155.0 185.0 153.0 185.0 151.0 185.0 149.0 185.0 147.0 185.0 145.0 185.0 143.0 185.0 135.0ZM543.0 173.0 542.8 173.0 541.0 173.1 539.0 173.2 537.0 173.4 535.0 173.8 533.8 175.0 533.2 177.0 533.0 177.5 532.7 179.0 531.5 181.0 531.0 181.5 529.0 182.7 527.3 183.0 527.0 183.1 525.0 183.3 523.0 183.4 521.0 183.4 519.0 183.4 517.0 183.4 515.0 183.4 513.0 183.4 511.0 183.5 509.0 183.6 507.0 183.8 505.0 184.2 504.2 185.0 503.8 187.0 503.7 189.0 503.7 191.0 503.8 193.0 504.2 195.0 505.0 195.8 507.0 196.4 508.6 197.0 509.0 197.1 511.0 198.1 511.9 199.0 512.9 201.0 513.0 201.4 513.6 203.0 514.1 205.0 515.0 206.1 517.0 206.6 519.0 206.8 521.0 206.9 522.2 207.0 523.0 207.0 525.0 207.0 525.1 207.0 527.0 206.6 529.0 205.4 529.4 205.0 529.9 203.0 530.0 201.0 530.0 199.0 530.0 197.0 530.1 195.0 530.4 193.0 531.0 192.0 532.0 191.0 533.0 190.4 535.0 190.1 537.0 190.0 539.0 190.0 541.0 190.0 543.0 190.0 545.0 189.9 547.0 189.6 548.0 189.0 549.0 188.0 549.5 187.0 549.6 185.0 549.0 183.2 548.9 183.0 547.8 181.0 547.2 179.0 547.0 177.8 546.8 177.0 546.3 175.0 545.0 173.4 543.0 173.0 543.0 173.0ZM713.0 202.3 711.4 203.0 711.0 203.6 710.3 205.0 710.5 207.0 711.0 208.0 712.0 209.0 713.0 209.6 715.0 210.0 717.0 210.4 718.0 211.0 719.0 212.0 719.6 213.0 720.1 215.0 720.8 217.0 721.0 217.3 722.7 219.0 723.0 219.2 725.0 219.8 727.0 220.0 729.0 220.0 731.0 220.0 733.0 220.0 735.0 219.9 737.0 219.6 738.0 219.0 739.0 218.0 739.6 217.0 739.9 215.0 740.0 213.0 740.0 211.0 740.0 209.0 740.0 207.0 739.7 205.0 739.0 203.9 738.3 203.0 737.0 202.4 735.0 202.0 733.0 201.9 731.0 201.8 729.0 201.8 727.0 201.8 725.0 201.8 723.0 201.8 721.0 201.8 719.0 201.9 717.0 201.9 715.0 201.9 713.0 202.3Z"/><path fill="#f4f3dc" d="M185.0 135.0 193.0 135.0 195.0 135.0 197.0 135.0 199.0 135.0 201.0 135.0 203.0 135.0 205.0 135.0 207.0 135.0 209.0 135.0 211.0 135.0 213.0 135.0 215.0 135.0 217.0 135.0 219.0 135.0 221.0 135.0 223.0 135.0 225.0 135.0 227.0 135.0 229.0 135.0 231.0 135.0 233.0 135.0 235.0 135.0 237.0 135.0 239.0 135.0 241.0 135.0 243.0 135.0 245.0 135.0 247.0 135.0 249.0 135.0 251.0 135.0 253.0 135.0 255.0 135.0 257.0 135.0 259.0 135.0 261.0 135.0 263.0 135.0 265.0 135.0 267.0 135.0 269.0 135.0 271.0 135.0 273.0 135.0 275.0 135.0 277.0 135.0 279.0 135.0 281.0 135.0 283.0 135.0 285.0 135.0 287.0 135.0 289.0 135.0 291.0 135.0 293.0 135.0 295.0 135.0 297.0 135.0 299.0 135.0 301.0 135.0 303.0 135.0 305.0 135.0 307.0 135.0 309.0 135.0 311.0 135.0 313.0 135.0 315.0 135.0 317.0 135.0 319.0 135.0 321.0 135.0 323.0 135.0 325.0 135.0 327.0 135.0 329.0 135.0 331.0 135.0 333.0 135.0 335.0 135.0 337.0 135.0 339.0 135.0 341.0 135.0 343.0 135.0 345.0 135.0 347.0 135.0 349.0 135.0 351.0 135.0 353.0 135.0 355.0 135.0 357.0 135.0 359.0 135.0 361.0 135.0 363.0 135.0 365.0 135.0 367.0 135.0 369.0 135.0 371.0 135.0 373.0 135.0 375.0 135.0 377.0 135.0 379.0 135.0 381.0 135.0 383.0 135.0 385.0 135.0 387.0 135.0 389.0 135.0 391.0 135.0 393.0 135.0 395.0 135.0 397.0 135.0 399.0 135.0 401.0 135.0 403.0 135.0 405.0 135.0 407.0 135.0 409.0 135.0 411.0 135.0 413.0 135.0 415.0 135.0 417.0 135.0 419.0 135.0 421.0 135.0 423.0 135.0 425.0 135.0 427.0 135.0 429.0 135.0 431.0 135.0 433.0 135.0 435.0 135.0 437.0 135.0 439.0 135.0 441.0 135.0 443.0 135.0 445.0 135.0 447.0 135.0 449.0 135.0 451.0 135.0 453.0 135.0 455.0 135.0 457.0 135.0 459.0 135.0 461.0 135.0 463.0 135.0 465.0 135.0 467.0 135.0 469.0 135.0 471.0 135.0 473.0 135.0 475.0 135.0 477.0 135.0 479.0 135.0 481.0 135.0 483.0 135.0 485.0 135.0 487.0 135.0 489.0 135.0 491.0 135.0 493.0 135.0 495.0 135.0 497.0 135.0 499.0 135.0 501.0 135.0 503.0 135.0 505.0 135.0 507.0 135.0 509.0 135.0 511.0 135.0 511.8 135.0 511.9 143.0 512.0 145.0 512.5 147.0 513.0 147.6 515.0 148.5 517.0 148.9 517.2 149.0 519.0 149.7 520.3 151.0 521.0 152.8 521.1 153.0 521.5 155.0 522.0 157.0 523.0 158.2 524.9 159.0 525.0 159.0 527.0 159.1 528.8 159.0 529.0 159.0 531.0 158.8 533.0 158.7 535.0 158.6 537.0 158.7 539.0 158.8 541.0 159.0 541.2 159.0 543.0 159.1 545.0 159.1 546.0 159.0 547.0 158.8 548.8 157.0 549.0 156.2 549.2 155.0 549.4 153.0 550.0 151.0 551.0 149.6 551.7 149.0 553.0 148.0 555.0 147.6 557.0 148.0 558.3 149.0 559.0 149.6 560.0 151.0 560.6 153.0 560.7 155.0 560.6 157.0 560.0 159.0 559.0 160.4 558.3 161.0 557.0 162.0 555.0 162.6 554.0 163.0 553.0 164.7 552.9 165.0 553.0 165.2 555.0 167.0 555.0 167.0 557.0 167.4 559.0 168.5 559.6 169.0 561.0 170.4 561.5 171.0 562.6 173.0 562.9 175.0 563.0 176.5 563.1 177.0 564.1 179.0 565.0 179.7 567.0 180.0 569.0 180.0 571.0 180.0 573.0 180.0 575.0 179.7 576.4 179.0 577.0 178.7 578.7 177.0 579.0 176.5 579.8 175.0 580.7 173.0 581.0 172.6 582.7 171.0 583.0 170.8 585.0 170.2 587.0 170.0 589.0 170.0 591.0 170.0 593.0 170.0 595.0 169.7 595.9 169.0 597.0 167.7 597.2 167.0 597.5 165.0 598.0 163.0 599.0 161.7 599.6 161.0 601.0 160.0 603.0 159.4 605.0 159.1 605.3 159.0 607.0 158.2 608.0 157.0 608.5 155.0 608.8 153.0 609.0 152.0 609.2 151.0 610.0 149.0 610.9 147.0 611.0 146.6 611.6 145.0 611.8 143.0 611.8 135.0 613.0 135.0 615.0 135.0 617.0 135.0 619.0 135.0 621.0 135.0 623.0 135.0 625.0 135.0 627.0 135.0 629.0 135.0 631.0 135.0 633.0 135.0 635.0 135.0 637.0 135.0 639.0 135.0 641.0 135.0 643.0 135.0 645.0 135.0 647.0 135.0 649.0 135.0 651.0 135.0 653.0 135.0 655.0 135.0 657.0 135.0 659.0 135.0 661.0 135.0 663.0 135.0 665.0 135.0 667.0 135.0 669.0 135.0 670.0 135.0 670.0 143.0 670.0 145.0 670.0 147.0 670.0 149.0 670.0 151.0 670.0 153.0 669.9 155.0 669.6 157.0 669.0 158.0 668.0 159.0 667.0 159.6 665.0 159.9 663.0 160.0 661.0 160.0 659.0 160.0 657.0 160.0 655.0 160.2 653.5 161.0 653.0 161.4 652.3 163.0 652.0 165.0 652.0 167.0 652.2 169.0 652.4 171.0 652.5 173.0 652.6 175.0 652.8 177.0 653.0 177.9 653.9 179.0 655.0 179.7 657.0 180.0 659.0 180.0 661.0 180.0 663.0 180.0 665.0 180.0 667.0 180.0 669.0 180.0 670.0 179.0 670.0 177.0 670.1 175.0 670.4 173.0 671.0 172.0 672.0 171.0 673.0 170.4 675.0 170.1 677.0 170.0 679.0 170.0 681.0 170.0 683.0 170.0 685.0 169.7 685.9 169.0 687.0 167.6 687.2 167.0 687.4 165.0 687.4 163.0 687.4 161.0 687.4 159.0 687.4 157.0 687.4 155.0 687.4 153.0 687.4 151.0 687.4 149.0 687.4 147.0 687.4 145.0 687.4 143.0 687.4 135.0 689.0 135.0 691.0 135.0 693.0 135.0 695.0 135.0 697.0 135.0 699.0 135.0 701.0 135.0 703.0 135.0 705.0 135.0 707.0 135.0 709.0 135.0 711.0 135.0 713.0 135.0 715.0 135.0 717.0 135.0 719.0 135.0 721.0 135.0 723.0 135.0 725.0 135.0 727.0 135.0 729.0 135.0 731.0 135.0 733.0 135.0 735.0 135.0 737.0 135.0 739.0 135.0 741.0 135.0 743.0 135.0 745.0 135.0 747.0 135.0 755.0 135.0 755.0 143.0 755.0 145.0 755.0 147.0 755.0 149.0 755.0 151.0 755.0 153.0 755.0 155.0 755.0 157.0 755.0 159.0 755.0 161.0 755.0 161.8 747.0 161.9 745.0 162.0 743.0 162.7 742.7 163.0 742.0 165.0 741.9 167.0 741.8 169.0 741.8 171.0 741.8 173.0 741.8 175.0 741.7 177.0 741.4 179.0 741.0 180.4 740.8 181.0 740.4 183.0 740.2 185.0 741.0 187.0 741.0 187.0 743.0 187.9 745.0 188.1 747.0 188.1 755.0 188.2 755.0 189.0 755.0 191.0 755.0 193.0 755.0 195.0 755.0 197.0 755.0 199.0 755.0 201.0 755.0 201.8 747.0 201.8 745.0 201.7 743.0 201.3 742.3 201.0 741.0 200.5 739.0 199.5 737.7 199.0 737.0 198.7 735.0 198.3 733.0 198.2 731.0 198.2 729.0 198.2 727.0 198.2 725.0 198.2 723.0 198.2 721.0 198.2 719.0 198.2 717.0 198.2 715.0 198.2 713.0 198.3 711.0 198.6 709.6 199.0 709.0 199.2 707.0 199.7 705.0 200.0 703.0 200.4 702.0 201.0 701.0 202.0 700.4 203.0 700.1 205.0 700.0 207.0 700.0 209.0 700.0 211.0 700.0 213.0 700.3 215.0 701.0 216.1 701.7 217.0 703.0 217.6 705.0 218.1 707.0 218.3 709.0 218.6 710.4 219.0 711.0 219.2 713.0 219.7 715.0 220.1 717.0 220.8 717.3 221.0 719.0 222.6 719.3 223.0 720.2 225.0 721.0 226.2 721.7 227.0 723.0 227.6 725.0 228.0 727.0 228.0 729.0 227.8 731.0 227.6 733.0 227.5 735.0 227.4 737.0 227.4 739.0 227.4 741.0 227.4 743.0 227.4 745.0 227.4 747.0 227.4 755.0 227.4 755.0 229.0 755.0 231.0 755.0 233.0 755.0 235.0 755.0 237.0 755.0 239.0 755.0 241.0 755.0 243.0 755.0 245.0 755.0 247.0 755.0 249.0 755.0 251.0 755.0 253.0 755.0 255.0 755.0 257.0 755.0 259.0 755.0 261.0 755.0 263.0 755.0 265.0 755.0 267.0 755.0 269.0 755.0 271.0 755.0 273.0 755.0 275.0 755.0 277.0 755.0 279.0 755.0 281.0 755.0 283.0 755.0 285.0 755.0 287.0 755.0 289.0 755.0 291.0 755.0 293.0 755.0 295.0 755.0 297.0 755.0 299.0 755.0 301.0 755.0 303.0 755.0 305.0 755.0 307.0 755.0 309.0 755.0 311.0 755.0 313.0 755.0 315.0 755.0 317.0 755.0 319.0 755.0 321.0 755.0 323.0 755.0 325.0 755.0 327.0 755.0 329.0 755.0 331.0 755.0 333.0 755.0 335.0 755.0 337.0 755.0 339.0 755.0 341.0 755.0 343.0 755.0 345.0 755.0 347.0 755.0 349.0 755.0 351.0 755.0 353.0 755.0 355.0 755.0 357.0 755.0 359.0 755.0 361.0 755.0 363.0 755.0 365.0 755.0 367.0 755.0 369.0 755.0 371.0 755.0 373.0 755.0 375.0 755.0 377.0 755.0 379.0 755.0 381.0 755.0 383.0 755.0 385.0 755.0 387.0 755.0 389.0 755.0 391.0 755.0 393.0 755.0 395.0 755.0 397.0 755.0 405.0 747.0 405.0 745.0 405.0 743.0 405.0 741.0 405.0 739.0 405.0 737.0 405.0 735.0 405.0 733.0 405.0 731.0 405.0 729.0 405.0 727.0 405.0 725.0 405.0 723.0 405.0 721.0 405.0 719.0 405.0 717.0 405.0 715.0 405.0 713.0 405.0 711.0 405.0 709.0 405.0 707.0 405.0 705.0 405.0 703.0 405.0 701.0 405.0 699.0 405.0 697.0 405.0 695.0 405.0 693.0 405.0 691.0 405.0 689.0 405.0 687.0 405.0 685.0 405.0 683.0 405.0 681.0 405.0 680.0 405.0 680.0 397.0 679.9 395.0 679.4 393.0 679.0 392.3 677.7 391.0 677.0 390.6 675.0 390.1 673.0 390.0 671.0 390.0 669.0 390.0 667.0 390.0 665.0 389.9 663.0 389.6 662.0 389.0 661.0 388.0 660.4 387.0 660.0 385.0 659.6 383.0 659.0 382.0 658.0 381.0 657.0 380.4 655.0 380.0 653.0 379.6 652.0 379.0 651.0 378.0 650.4 377.0 650.0 375.0 649.6 373.0 649.0 372.0 648.0 371.0 647.0 370.4 645.0 370.1 643.0 370.0 641.0 370.0 639.0 370.0 637.0 370.0 635.0 370.1 633.0 370.3 631.0 370.8 630.3 371.0 629.0 371.6 627.0 372.2 625.0 372.6 623.0 372.9 622.7 373.0 621.0 374.3 620.3 375.0 619.3 377.0 619.0 377.4 617.3 379.0 617.0 379.3 615.0 380.0 613.0 380.8 612.7 381.0 611.0 382.7 610.8 383.0 610.2 385.0 610.0 387.0 610.0 389.0 610.0 391.0 610.0 393.0 610.0 395.0 610.0 397.0 610.0 405.0 609.0 405.0 607.0 405.0 605.0 405.0 603.0 405.0 601.0 405.0 599.0 405.0 597.0 405.0 595.0 405.0 593.0 405.0 591.0 405.0 589.0 405.0 587.0 405.0 585.0 405.0 583.0 405.0 581.0 405.0 579.0 405.0 577.0 405.0 575.0 405.0 573.0 405.0 571.0 405.0 569.0 405.0 567.0 405.0 565.0 405.0 563.0 405.0 561.0 405.0 559.0 405.0 557.0 405.0 555.0 405.0 553.0 405.0 551.0 405.0 549.0 405.0 547.0 405.0 545.0 405.0 543.0 405.0 541.0 405.0 539.0 405.0 537.0 405.0 535.0 405.0 533.0 405.0 531.0 405.0 529.0 405.0 527.0 405.0 525.0 405.0 523.0 405.0 521.0 405.0 520.0 405.0 520.0 397.0 520.0 395.0 520.0 393.0 520.0 391.0 520.0 389.0 520.0 387.0 520.0 385.0 520.0 383.0 520.0 381.0 520.0 379.0 520.0 377.0 520.0 375.0 520.0 373.0 520.0 371.0 520.0 369.0 520.0 367.0 519.8 365.0 519.2 363.0 519.0 362.7 517.3 361.0 517.0 360.8 515.0 360.2 513.0 360.0 511.0 360.0 509.0 360.0 507.0 360.0 505.0 360.2 503.0 360.8 502.7 361.0 501.0 362.7 500.8 363.0 500.2 365.0 500.0 367.0 500.0 369.0 500.0 371.0 500.0 373.0 500.0 375.0 500.0 377.0 500.0 379.0 500.0 381.0 500.0 383.0 500.0 385.0 500.0 387.0 500.0 389.0 500.0 391.0 500.0 393.0 500.0 395.0 500.0 397.0 500.0 405.0 499.0 405.0 497.0 405.0 495.0 405.0 493.0 405.0 491.0 405.0 489.0 405.0 487.0 405.0 485.0 405.0 483.0 405.0 481.0 405.0 480.0 405.0 480.0 397.0 480.0 395.0 480.0 393.0 480.0 391.0 480.0 389.0 480.0 387.0 480.0 385.0 480.0 383.0 480.0 381.0 480.0 379.0 480.0 377.0 480.0 375.0 480.0 373.0 480.0 371.0 480.0 369.0 480.0 367.0 480.0 365.0 480.0 363.0 480.0 361.0 480.0 359.0 480.0 357.0 480.0 355.0 480.0 353.0 480.0 351.0 480.0 349.0 480.0 347.0 479.8 345.0 479.0 343.1 479.0 343.0 477.0 341.0 476.9 341.0 475.0 340.2 473.0 339.6 471.9 339.0 471.0 338.1 470.4 337.0 469.7 335.0 469.0 334.2 467.0 333.2 465.0 333.0 463.0 333.4 461.0 334.4 460.4 335.0 459.1 337.0 459.0 337.0 457.0 337.9 455.0 338.0 453.0 337.8 451.4 337.0 451.0 336.6 449.9 335.0 449.0 333.7 448.3 333.0 447.0 332.4 445.0 332.0 443.0 332.0 441.0 332.2 439.0 332.4 437.0 332.5 435.0 332.5 433.0 332.4 431.0 332.1 429.0 331.4 427.9 331.0 427.0 330.6 425.0 330.2 423.0 330.4 421.0 330.8 420.4 331.0 419.0 331.4 417.0 331.7 415.0 331.9 413.0 332.2 411.4 333.0 411.0 333.4 410.0 335.0 409.0 336.6 408.6 337.0 407.0 337.8 405.0 338.1 403.0 338.3 401.0 338.6 399.6 339.0 399.0 339.2 397.0 339.6 395.0 339.8 393.0 339.2 392.7 339.0 391.0 337.3 390.7 337.0 389.9 335.0 389.0 333.4 388.6 333.0 387.0 332.3 385.0 332.0 383.0 332.1 381.0 332.4 379.0 332.7 377.0 332.9 375.0 332.9 373.0 332.9 371.0 332.8 369.0 332.7 367.0 332.6 365.0 332.7 363.0 332.9 362.7 333.0 361.0 334.3 360.2 335.0 359.0 336.7 358.7 337.0 357.0 337.8 355.0 338.1 353.0 338.2 351.0 338.2 349.0 338.2 347.0 338.2 345.0 338.3 343.0 339.0 343.0 339.0 341.0 340.1 339.4 341.0 339.0 341.2 337.0 342.2 335.0 342.7 334.5 343.0 333.0 345.0 333.0 345.0 332.6 347.0 331.5 349.0 331.0 349.6 329.6 351.0 329.0 351.5 327.0 352.5 325.0 352.8 323.0 352.8 321.0 352.6 319.0 351.9 317.3 351.0 317.0 350.9 315.0 350.2 313.0 350.0 311.0 350.0 309.0 350.0 307.0 350.0 305.0 350.0 303.0 350.0 301.0 350.0 300.0 349.0 300.0 347.0 300.1 345.0 300.4 343.0 301.0 342.0 302.0 341.0 303.0 340.4 305.0 340.0 307.0 339.6 308.0 339.0 309.0 338.0 309.6 337.0 310.0 335.0 310.4 333.0 311.0 332.0 311.9 331.0 313.0 330.4 315.0 329.8 316.9 329.0 317.0 329.0 319.0 327.0 319.0 326.9 319.8 325.0 320.0 323.0 320.0 321.0 320.0 319.0 319.9 317.0 319.5 315.0 319.0 314.4 317.2 313.0 317.0 312.9 315.0 312.6 313.0 312.6 311.0 312.6 309.0 312.6 307.0 312.6 305.0 312.7 303.6 313.0 303.0 313.4 302.0 315.0 301.6 317.0 301.0 318.4 300.8 319.0 299.0 320.8 298.4 321.0 297.0 321.6 295.0 321.8 293.0 321.8 291.0 321.8 289.0 321.8 287.0 321.9 285.0 322.0 283.0 322.7 282.7 323.0 282.0 325.0 281.6 327.0 281.0 328.4 280.8 329.0 279.0 330.8 278.4 331.0 277.0 331.6 275.0 331.8 273.0 331.8 271.0 331.8 269.0 331.8 267.0 331.9 265.0 332.0 263.0 332.7 262.7 333.0 262.0 335.0 261.6 337.0 261.0 338.4 260.8 339.0 259.0 340.8 258.4 341.0 257.0 341.6 255.0 341.8 253.0 341.8 251.0 341.8 249.0 341.8 247.0 341.9 245.0 342.0 243.0 342.7 242.7 343.0 242.0 345.0 241.6 347.0 241.0 348.4 240.8 349.0 239.0 350.8 238.4 351.0 237.0 351.6 235.0 351.8 233.0 351.8 231.0 351.8 229.0 351.8 227.0 351.9 225.0 352.0 223.0 352.7 222.7 353.0 222.0 355.0 221.6 357.0 221.0 358.4 220.8 359.0 219.0 360.8 218.4 361.0 217.0 361.6 215.0 361.8 213.0 361.8 211.0 361.8 209.0 361.8 207.0 361.9 205.0 362.0 203.0 362.7 202.7 363.0 202.0 365.0 201.6 367.0 201.0 368.4 200.8 369.0 199.0 370.8 198.4 371.0 197.0 371.6 195.0 371.8 193.0 371.8 185.0 371.8 185.0 371.0 185.0 369.0 185.0 367.0 185.0 365.0 185.0 363.0 185.0 361.0 185.0 359.0 185.0 357.0 185.0 355.0 185.0 353.0 185.0 351.0 185.0 349.0 185.0 347.0 185.0 345.0 185.0 343.0 185.0 341.0 185.0 339.0 185.0 337.0 185.0 335.0 185.0 333.0 185.0 331.0 185.0 329.0 185.0 327.0 185.0 325.0 185.0 323.0 185.0 321.0 185.0 319.0 185.0 317.0 185.0 315.0 185.0 313.0 185.0 311.0 185.0 309.0 185.0 307.0 185.0 305.0 185.0 303.0 185.0 301.0 185.0 299.0 185.0 297.0 185.0 295.0 185.0 293.0 185.0 291.0 185.0 289.0 185.0 287.0 185.0 285.0 185.0 283.0 185.0 281.0 185.0 279.0 185.0 277.0 185.0 275.0 185.0 273.0 185.0 271.0 185.0 269.0 185.0 267.0 185.0 265.0 185.0 263.0 185.0 261.0 185.0 259.0 185.0 257.0 185.0 255.0 185.0 253.0 185.0 251.0 185.0 249.0 185.0 247.0 185.0 245.0 185.0 243.0 185.0 241.0 185.0 239.0 185.0 237.0 185.0 235.0 185.0 233.0 185.0 231.0 185.0 229.0 185.0 227.0 185.0 225.0 185.0 223.0 185.0 221.0 185.0 219.0 185.0 217.0 185.0 215.0 185.0 213.0 185.0 211.0 185.0 209.0 185.0 207.0 185.0 205.0 185.0 203.0 185.0 201.0 185.0 199.0 185.0 197.0 185.0 195.0 185.0 193.0 185.0 191.0 185.0 189.0 185.0 187.0 185.0 185.0 185.0 183.0 185.0 181.0 185.0 179.0 185.0 177.0 185.0 175.0 185.0 173.0 185.0 171.0 185.0 169.0 185.0 167.0 185.0 165.0 185.0 163.0 185.0 161.0 185.0 159.0 185.0 157.0 185.0 155.0 185.0 153.0 185.0 151.0 185.0 149.0 185.0 147.0 185.0 145.0 185.0 143.0 185.0 135.0ZM413.0 242.4 411.7 243.0 411.0 243.9 410.3 245.0 410.0 247.0 410.0 249.0 410.0 251.0 410.0 253.0 410.3 255.0 411.0 256.1 412.1 257.0 413.0 257.2 415.0 257.3 417.0 257.2 417.6 257.0 419.0 255.9 419.7 255.0 420.4 253.0 421.0 251.9 422.0 251.0 423.0 250.4 425.0 250.1 427.0 250.0 429.0 250.0 430.0 249.0 430.0 247.0 429.6 245.0 429.0 244.1 427.6 243.0 427.0 242.8 425.0 242.6 423.0 242.5 421.0 242.4 419.0 242.2 417.0 242.0 415.0 242.0 413.0 242.4ZM431.0 250.0 430.0 251.0 430.0 253.0 430.2 255.0 430.8 257.0 431.0 257.3 432.7 259.0 433.0 259.2 435.0 259.9 437.0 260.4 438.0 261.0 439.0 261.9 439.6 263.0 440.3 265.0 441.0 265.8 442.6 267.0 443.0 267.1 445.0 267.3 447.0 267.2 447.6 267.0 449.0 265.9 449.7 265.0 450.0 263.0 450.0 261.0 450.0 259.0 450.0 257.0 449.8 255.0 449.2 253.0 449.0 252.7 447.3 251.0 447.0 250.8 445.0 250.2 443.0 250.0 441.0 250.0 439.0 250.0 437.0 250.0 435.0 250.0 433.0 250.0 431.0 250.0ZM543.0 170.9 541.2 171.0 541.0 171.0 539.0 171.2 537.0 171.4 535.0 171.5 533.0 172.2 532.2 173.0 531.5 175.0 531.1 177.0 531.0 177.2 530.3 179.0 529.0 180.3 527.1 181.0 527.0 181.1 525.0 181.3 523.0 181.4 521.0 181.4 519.0 181.4 517.0 181.4 515.0 181.4 513.0 181.5 511.0 181.6 509.0 181.7 507.0 181.8 505.0 182.0 503.0 182.7 502.7 183.0 502.0 185.0 501.9 187.0 501.8 189.0 501.8 191.0 501.9 193.0 502.0 195.0 502.7 197.0 503.0 197.3 505.0 198.1 507.0 198.4 508.4 199.0 509.0 199.2 510.8 201.0 511.0 201.6 511.6 203.0 511.9 205.0 512.5 207.0 513.0 207.6 515.0 208.4 517.0 208.6 519.0 208.8 521.0 209.0 521.2 209.0 523.0 209.1 525.0 209.1 527.0 209.1 527.5 209.0 529.0 208.7 531.0 208.2 533.0 207.7 535.0 207.5 537.0 207.6 539.0 208.2 540.1 209.0 541.0 209.9 541.8 211.0 542.4 213.0 542.7 215.0 543.0 215.7 544.5 217.0 545.0 217.2 547.0 217.1 547.2 217.0 549.0 215.6 549.6 215.0 550.4 213.0 551.0 211.9 552.0 211.0 553.0 210.4 555.0 210.0 557.0 209.6 558.0 209.0 559.0 208.0 559.6 207.0 559.9 205.0 560.0 203.0 560.0 201.0 560.0 199.0 560.0 197.0 560.0 195.0 560.0 193.0 560.0 191.0 560.0 189.0 560.0 187.0 559.7 185.0 559.0 184.1 557.0 183.1 556.5 183.0 555.0 182.9 553.0 182.5 551.0 181.2 550.8 181.0 549.4 179.0 549.0 177.5 548.9 177.0 548.6 175.0 548.2 173.0 547.0 171.4 545.5 171.0 545.0 170.9 543.0 170.9ZM663.0 190.5 662.0 191.0 661.0 192.0 660.5 193.0 660.2 195.0 660.5 197.0 661.0 198.0 662.0 199.0 663.0 199.5 665.0 199.7 666.9 199.0 667.0 199.0 667.8 197.0 668.1 195.0 668.0 193.0 667.3 191.0 667.0 190.6 665.0 190.2 663.0 190.5ZM671.0 180.0 670.0 181.0 670.0 183.0 670.1 185.0 670.6 187.0 671.0 187.4 673.0 188.0 675.0 187.9 677.0 187.3 677.3 187.0 677.9 185.0 677.8 183.0 677.0 181.0 677.0 181.0 675.0 180.2 673.0 180.0 671.0 180.0ZM527.0 243.0 526.6 243.0 525.0 243.5 523.8 245.0 525.0 246.5 526.9 247.0 527.0 247.0 529.0 247.0 531.0 247.0 533.0 247.0 535.0 247.0 537.0 247.0 539.0 247.0 541.0 247.0 543.0 247.0 543.4 247.0 545.0 246.7 546.9 245.0 545.5 243.0 545.0 242.8 543.0 242.6 541.0 242.6 539.0 242.6 537.0 242.6 535.0 242.6 533.0 242.7 531.0 242.8 529.0 242.9 527.0 243.0ZM292.0 351.0 293.0 350.4 295.0 350.1 297.0 350.0 299.0 350.0 300.0 351.0 300.0 353.0 299.9 355.0 299.6 357.0 299.0 358.0 298.0 359.0 297.0 359.6 295.0 359.8 293.0 359.5 292.0 359.0 291.0 358.0 290.5 357.0 290.2 355.0 290.4 353.0 291.0 352.0 292.0 351.0Z"/><path fill="#ccffff" d="M185.0 135.0 193.0 135.0 195.0 135.0 197.0 135.0 199.0 135.0 201.0 135.0 203.0 135.0 205.0 135.0 207.0 135.0 209.0 135.0 211.0 135.0 213.0 135.0 215.0 135.0 217.0 135.0 219.0 135.0 221.0 135.0 223.0 135.0 225.0 135.0 227.0 135.0 229.0 135.0 231.0 135.0 233.0 135.0 235.0 135.0 237.0 135.0 239.0 135.0 241.0 135.0 243.0 135.0 245.0 135.0 247.0 135.0 249.0 135.0 251.0 135.0 253.0 135.0 255.0 135.0 257.0 135.0 259.0 135.0 261.0 135.0 263.0 135.0 265.0 135.0 267.0 135.0 269.0 135.0 271.0 135.0 273.0 135.0 275.0 135.0 277.0 135.0 279.0 135.0 281.0 135.0 283.0 135.0 285.0 135.0 287.0 135.0 289.0 135.0 291.0 135.0 293.0 135.0 295.0 135.0 297.0 135.0 299.0 135.0 301.0 135.0 303.0 135.0 305.0 135.0 307.0 135.0 309.0 135.0 311.0 135.0 313.0 135.0 315.0 135.0 317.0 135.0 319.0 135.0 321.0 135.0 323.0 135.0 325.0 135.0 327.0 135.0 329.0 135.0 331.0 135.0 333.0 135.0 335.0 135.0 337.0 135.0 339.0 135.0 341.0 135.0 343.0 135.0 345.0 135.0 347.0 135.0 349.0 135.0 351.0 135.0 353.0 135.0 355.0 135.0 357.0 135.0 359.0 135.0 361.0 135.0 363.0 135.0 365.0 135.0 367.0 135.0 369.0 135.0 371.0 135.0 373.0 135.0 375.0 135.0 377.0 135.0 379.0 135.0 381.0 135.0 383.0 135.0 385.0 135.0 387.0 135.0 389.0 135.0 391.0 135.0 393.0 135.0 395.0 135.0 397.0 135.0 399.0 135.0 401.0 135.0 403.0 135.0 405.0 135.0 407.0 135.0 409.0 135.0 411.0 135.0 413.0 135.0 415.0 135.0 417.0 135.0 419.0 135.0 421.0 135.0 423.0 135.0 425.0 135.0 427.0 135.0 429.0 135.0 431.0 135.0 433.0 135.0 435.0 135.0 437.0 135.0 439.0 135.0 441.0 135.0 443.0 135.0 445.0 135.0 447.0 135.0 449.0 135.0 451.0 135.0 453.0 135.0 455.0 135.0 457.0 135.0 459.0 135.0 461.0 135.0 463.0 135.0 465.0 135.0 467.0 135.0 469.0 135.0 471.0 135.0 473.0 135.0 475.0 135.0 477.0 135.0 479.0 135.0 481.0 135.0 483.0 135.0 485.0 135.0 487.0 135.0 489.0 135.0 491.0 135.0 493.0 135.0 495.0 135.0 497.0 135.0 499.0 135.0 501.0 135.0 503.0 135.0 505.0 135.0 507.0 135.0 509.0 135.0 510.5 135.0 510.6 143.0 510.6 145.0 510.9 147.0 511.0 147.2 512.3 149.0 513.0 149.5 515.0 150.0 517.0 150.4 518.0 151.0 519.0 152.0 519.6 153.0 520.0 155.0 520.3 157.0 521.0 158.5 521.3 159.0 523.0 160.3 525.0 160.7 527.0 160.7 529.0 160.5 531.0 160.2 533.0 160.1 535.0 160.0 537.0 160.1 539.0 160.2 541.0 160.5 543.0 160.7 545.0 160.8 547.0 160.9 547.7 161.0 549.0 161.5 549.8 163.0 550.0 165.0 550.0 167.0 550.0 169.0 549.0 169.2 547.0 169.2 545.0 169.2 543.0 169.3 541.0 169.5 539.0 169.8 537.0 169.9 535.0 170.0 533.0 170.4 531.7 171.0 531.0 171.7 530.3 173.0 530.0 175.0 529.6 177.0 529.0 178.0 528.0 179.0 527.0 179.6 525.0 179.9 523.0 180.0 521.0 180.0 519.0 180.0 517.0 180.0 515.0 180.0 513.0 180.1 511.0 180.2 509.0 180.4 507.0 180.5 505.0 180.6 503.2 181.0 503.0 181.1 501.1 183.0 501.0 183.2 500.6 185.0 500.6 187.0 500.5 189.0 500.5 191.0 500.6 193.0 500.6 195.0 501.0 197.0 501.0 197.0 503.0 199.0 503.0 199.0 505.0 199.4 507.0 199.8 509.0 200.9 509.1 201.0 510.2 203.0 510.5 205.0 510.9 207.0 511.0 207.2 512.3 209.0 513.0 209.5 515.0 209.9 517.0 210.1 519.0 210.2 521.0 210.5 523.0 210.7 525.0 210.8 527.0 210.7 529.0 210.6 531.0 210.3 533.0 210.1 535.0 210.1 537.0 210.4 538.0 211.0 539.0 212.0 539.6 213.0 540.0 215.0 540.4 217.0 541.0 218.0 542.0 219.0 543.0 219.6 545.0 219.9 547.0 219.7 549.0 219.2 549.7 219.0 551.0 218.4 553.0 217.8 555.0 217.5 557.0 217.6 559.0 217.9 561.0 218.6 562.1 219.0 563.0 219.4 565.0 219.8 567.0 219.5 568.0 219.0 569.0 218.0 569.6 217.0 570.0 215.0 570.4 213.0 571.0 212.0 572.0 211.0 573.0 210.4 575.0 209.8 576.5 209.0 577.0 208.6 577.7 207.0 578.1 205.0 578.1 203.0 578.2 201.0 578.2 199.0 578.2 197.0 578.1 195.0 578.0 193.0 577.8 191.0 577.6 189.0 577.5 187.0 577.5 185.0 577.9 183.0 579.0 181.2 579.1 181.0 581.0 179.1 581.2 179.0 583.0 177.9 585.0 177.5 587.0 177.4 589.0 177.4 591.0 177.4 593.0 177.4 595.0 177.4 597.0 177.1 597.4 177.0 599.0 175.8 599.6 175.0 600.0 173.0 600.0 171.0 600.0 169.0 600.0 167.0 600.1 165.0 600.7 163.0 601.0 162.7 603.0 161.3 603.9 161.0 605.0 160.8 607.0 160.3 608.7 159.0 609.0 158.5 609.7 157.0 610.0 155.0 610.2 153.0 610.9 151.0 611.0 150.7 612.5 149.0 613.0 148.4 615.0 147.6 617.0 147.5 619.0 147.6 621.0 147.8 623.0 148.0 625.0 148.1 627.0 147.9 629.0 147.0 629.0 147.0 629.8 145.0 630.0 143.0 630.0 135.0 631.0 135.0 633.0 135.0 635.0 135.0 637.0 135.0 639.0 135.0 641.0 135.0 643.0 135.0 645.0 135.0 647.0 135.0 649.0 135.0 650.0 135.0 650.0 143.0 650.0 145.0 650.0 147.0 650.0 149.0 650.0 151.0 650.0 153.0 649.9 155.0 649.7 157.0 649.2 159.0 649.0 159.6 648.6 161.0 648.3 163.0 648.3 165.0 648.5 167.0 649.0 168.5 649.1 169.0 649.6 171.0 649.9 173.0 649.9 175.0 649.9 177.0 649.4 179.0 649.0 179.9 647.6 181.0 647.0 181.4 645.0 181.8 643.0 182.1 641.0 183.0 641.0 183.1 640.3 185.0 640.8 187.0 641.0 187.3 642.7 189.0 643.0 189.2 645.0 189.9 647.0 190.4 648.0 191.0 649.0 192.0 649.6 193.0 650.0 195.0 650.3 197.0 650.8 199.0 651.0 199.6 651.4 201.0 651.7 203.0 652.0 205.0 652.8 207.0 653.0 207.2 655.0 208.0 657.0 208.4 658.4 209.0 659.0 209.2 660.8 211.0 661.0 211.6 661.6 213.0 661.9 215.0 662.1 217.0 663.0 219.0 663.1 219.0 665.0 219.7 667.0 219.2 667.3 219.0 669.0 217.3 669.2 217.0 669.9 215.0 670.4 213.0 671.0 212.0 672.0 211.0 673.0 210.4 675.0 210.0 677.0 209.6 678.0 209.0 679.0 208.0 679.6 207.0 679.8 205.0 679.6 203.0 679.0 202.0 678.0 201.0 677.0 200.4 675.0 199.9 673.0 199.0 673.0 199.0 672.2 197.0 672.0 195.0 672.6 193.0 673.0 192.6 675.0 191.9 677.0 191.6 678.4 191.0 679.0 190.8 680.8 189.0 681.0 188.4 681.6 187.0 681.8 185.0 682.1 183.0 683.0 181.0 683.0 181.0 685.0 180.1 687.0 179.6 688.0 179.0 689.0 178.0 689.6 177.0 689.9 175.0 690.0 173.0 690.0 171.0 690.0 169.0 690.0 167.0 690.0 165.0 690.0 163.0 690.0 161.0 690.0 159.0 690.0 157.0 690.0 155.0 690.0 153.0 690.0 151.0 690.0 149.0 690.0 147.0 690.0 145.0 690.0 143.0 690.0 135.0 691.0 135.0 693.0 135.0 695.0 135.0 697.0 135.0 699.0 135.0 701.0 135.0 703.0 135.0 705.0 135.0 707.0 135.0 709.0 135.0 711.0 135.0 713.0 135.0 715.0 135.0 717.0 135.0 719.0 135.0 721.0 135.0 723.0 135.0 725.0 135.0 727.0 135.0 729.0 135.0 731.0 135.0 733.0 135.0 735.0 135.0 737.0 135.0 739.0 135.0 741.0 135.0 743.0 135.0 745.0 135.0 747.0 135.0 755.0 135.0 755.0 143.0 755.0 145.0 755.0 147.0 755.0 149.0 755.0 151.0 755.0 153.0 755.0 155.0 755.0 157.0 755.0 158.2 747.0 158.2 745.0 158.2 743.0 158.4 741.6 159.0 741.0 159.2 739.2 161.0 739.0 161.6 738.4 163.0 738.2 165.0 738.2 167.0 738.2 169.0 738.2 171.0 738.1 173.0 738.1 175.0 737.7 177.0 737.0 178.6 736.5 179.0 735.0 179.8 733.0 180.0 731.0 180.0 729.0 180.0 727.0 180.0 725.0 180.0 723.0 180.0 721.0 180.0 719.0 180.0 717.0 180.0 715.0 180.1 713.0 180.3 711.0 180.8 710.4 181.0 709.0 181.4 707.0 181.7 705.0 181.9 703.0 182.1 701.0 183.0 701.0 183.0 700.1 185.0 699.6 187.0 699.0 188.0 698.0 189.0 697.0 189.6 695.0 190.0 693.0 190.4 692.0 191.0 691.0 192.0 690.4 193.0 690.1 195.0 690.0 197.0 690.0 199.0 690.0 201.0 690.0 203.0 690.0 205.0 690.0 207.0 690.0 209.0 690.0 211.0 690.0 213.0 690.2 215.0 691.0 216.5 691.4 217.0 693.0 217.8 695.0 218.2 697.0 218.7 697.7 219.0 699.0 219.5 701.0 220.5 702.3 221.0 703.0 221.3 705.0 221.8 707.0 222.2 708.6 223.0 709.0 223.4 710.0 225.0 711.0 226.6 711.4 227.0 713.0 227.8 715.0 228.2 717.0 228.7 717.7 229.0 719.0 229.5 721.0 230.5 722.4 231.0 723.0 231.3 725.0 231.7 727.0 231.5 728.5 231.0 729.0 230.9 731.0 230.4 733.0 230.1 735.0 230.0 737.0 230.0 739.0 230.0 741.0 230.0 743.0 230.0 745.0 230.0 747.0 230.0 755.0 230.0 755.0 231.0 755.0 233.0 755.0 235.0 755.0 237.0 755.0 239.0 755.0 241.0 755.0 243.0 755.0 245.0 755.0 247.0 755.0 249.0 755.0 251.0 755.0 253.0 755.0 255.0 755.0 257.0 755.0 259.0 755.0 261.0 755.0 263.0 755.0 265.0 755.0 267.0 755.0 269.0 755.0 271.0 755.0 273.0 755.0 275.0 755.0 277.0 755.0 279.0 755.0 281.0 755.0 283.0 755.0 285.0 755.0 287.0 755.0 289.0 755.0 291.0 755.0 293.0 755.0 295.0 755.0 297.0 755.0 299.0 755.0 301.0 755.0 301.8 747.0 301.8 745.0 301.8 743.0 301.6 741.6 301.0 741.0 300.8 739.2 299.0 739.0 298.4 738.4 297.0 738.0 295.0 737.2 293.0 737.0 292.8 735.0 292.0 733.0 291.9 731.0 291.8 729.0 291.8 727.0 291.8 725.0 291.8 723.0 291.6 721.6 291.0 721.0 290.8 719.2 289.0 719.0 288.4 718.4 287.0 718.0 285.0 717.3 283.0 717.0 282.7 715.0 282.0 713.0 281.7 711.0 281.4 709.6 281.0 709.0 280.8 707.0 280.3 705.0 280.1 703.0 280.0 701.0 280.0 699.0 280.0 697.0 280.0 695.0 279.9 693.0 279.6 692.0 279.0 691.0 278.0 690.4 277.0 690.0 275.0 689.6 273.0 689.0 272.0 688.0 271.0 687.0 270.4 685.0 270.1 683.0 270.0 681.0 270.0 679.0 270.0 677.0 270.0 675.0 270.0 673.0 270.0 671.0 270.0 669.0 270.0 667.0 270.0 665.0 270.2 663.0 270.8 662.7 271.0 661.0 272.7 660.8 273.0 660.1 275.0 659.6 277.0 659.0 278.0 658.0 279.0 657.0 279.6 655.0 279.9 653.0 280.0 651.0 280.0 649.0 280.0 647.0 280.0 645.0 280.2 643.0 281.0 643.0 281.0 642.1 283.0 641.8 285.0 641.6 287.0 641.0 288.4 640.8 289.0 639.0 290.8 638.4 291.0 637.0 291.6 635.0 291.8 633.0 291.7 631.0 291.4 629.6 291.0 629.0 290.8 627.0 290.4 625.0 290.2 623.0 290.4 622.0 291.0 621.0 292.0 620.5 293.0 620.2 295.0 620.4 297.0 621.0 298.0 622.0 299.0 623.0 299.6 625.0 299.9 627.0 300.0 629.0 300.0 631.0 300.0 633.0 300.0 635.0 300.1 637.0 300.4 638.0 301.0 639.0 302.0 639.6 303.0 640.2 305.0 641.0 306.5 641.4 307.0 643.0 307.7 645.0 308.0 647.0 307.8 649.0 307.0 649.0 307.0 649.8 305.0 650.0 303.0 650.0 301.0 650.0 299.0 650.0 297.0 650.1 295.0 650.4 293.0 651.0 292.0 652.0 291.0 653.0 290.4 655.0 290.2 657.0 290.4 658.0 291.0 659.0 292.0 659.6 293.0 660.0 295.0 660.4 297.0 661.0 298.0 662.0 299.0 663.0 299.6 665.0 300.0 667.0 300.4 668.0 301.0 669.0 302.0 669.6 303.0 669.9 305.0 670.0 307.0 670.0 309.0 670.0 311.0 670.0 313.0 669.9 315.0 669.6 317.0 669.0 318.0 668.0 319.0 667.0 319.6 665.0 320.0 663.0 320.4 662.0 321.0 661.0 322.0 660.4 323.0 660.0 325.0 659.6 327.0 659.0 328.0 658.0 329.0 657.0 329.6 655.0 330.2 653.5 331.0 653.0 331.4 652.3 333.0 652.0 335.0 652.5 337.0 653.0 337.5 655.0 338.0 657.0 338.1 659.0 338.1 661.0 338.2 663.0 338.2 665.0 338.2 667.0 338.4 668.4 339.0 669.0 339.2 670.8 341.0 671.0 341.6 671.6 343.0 672.0 345.0 672.7 347.0 673.0 347.3 675.0 348.0 677.0 348.4 678.4 349.0 679.0 349.2 680.8 351.0 681.0 351.6 681.6 353.0 682.0 355.0 682.7 357.0 683.0 357.3 685.0 358.0 687.0 358.1 689.0 358.2 691.0 358.2 693.0 358.2 695.0 358.2 697.0 358.4 698.4 359.0 699.0 359.2 700.8 361.0 701.0 361.6 701.6 363.0 702.0 365.0 702.7 367.0 703.0 367.3 705.0 368.0 707.0 368.1 709.0 368.2 711.0 368.2 713.0 368.2 715.0 368.2 717.0 368.4 718.4 369.0 719.0 369.2 720.8 371.0 721.0 371.6 721.6 373.0 722.0 375.0 722.7 377.0 723.0 377.3 725.0 378.0 727.0 378.1 729.0 378.2 731.0 378.2 733.0 378.2 735.0 378.2 737.0 378.4 738.4 379.0 739.0 379.2 740.8 381.0 741.0 381.6 741.6 383.0 742.0 385.0 742.7 387.0 743.0 387.3 745.0 388.0 747.0 388.1 755.0 388.2 755.0 389.0 755.0 391.0 755.0 393.0 755.0 395.0 755.0 397.0 755.0 405.0 747.0 405.0 745.0 405.0 743.0 405.0 741.0 405.0 739.0 405.0 737.0 405.0 735.0 405.0 733.0 405.0 731.0 405.0 729.0 405.0 727.0 405.0 725.0 405.0 723.0 405.0 721.0 405.0 719.0 405.0 717.0 405.0 715.0 405.0 713.0 405.0 711.0 405.0 709.0 405.0 707.0 405.0 705.0 405.0 703.0 405.0 701.0 405.0 699.0 405.0 697.0 405.0 695.0 405.0 693.0 405.0 691.0 405.0 689.0 405.0 687.0 405.0 685.0 405.0 683.0 405.0 682.6 405.0 682.6 397.0 682.5 395.0 682.1 393.0 681.0 391.2 680.9 391.0 679.0 389.1 678.8 389.0 677.0 387.9 675.0 387.5 673.0 387.4 671.0 387.4 669.0 387.4 667.0 387.4 665.0 387.2 664.3 387.0 663.0 385.7 662.7 385.0 662.4 383.0 661.8 381.0 661.0 379.9 660.1 379.0 659.0 378.2 657.0 377.6 655.0 377.3 654.3 377.0 653.0 375.7 652.7 375.0 652.4 373.0 651.8 371.0 651.0 369.9 650.1 369.0 649.0 368.2 647.0 367.6 645.0 367.5 643.0 367.4 641.0 367.4 639.0 367.4 637.0 367.4 635.0 367.5 633.0 367.8 631.0 368.4 629.7 369.0 629.0 369.2 627.0 369.7 625.0 370.0 623.0 370.3 621.0 370.8 620.3 371.0 619.0 371.6 617.0 372.2 615.0 372.6 613.0 372.9 612.7 373.0 611.0 374.3 610.3 375.0 609.3 377.0 609.0 377.4 607.3 379.0 607.0 379.3 605.0 380.1 603.4 381.0 603.0 381.4 602.2 383.0 601.9 385.0 601.6 387.0 601.0 388.4 600.8 389.0 599.0 390.8 598.4 391.0 597.0 391.6 595.0 392.0 593.0 392.7 592.7 393.0 592.0 395.0 591.9 397.0 591.8 405.0 591.0 405.0 589.0 405.0 587.0 405.0 585.0 405.0 583.0 405.0 581.0 405.0 579.0 405.0 577.0 405.0 575.0 405.0 573.0 405.0 571.0 405.0 569.0 405.0 567.0 405.0 565.0 405.0 563.0 405.0 561.0 405.0 559.0 405.0 557.0 405.0 555.0 405.0 553.0 405.0 551.0 405.0 549.0 405.0 547.0 405.0 545.0 405.0 543.0 405.0 541.0 405.0 539.0 405.0 537.0 405.0 535.0 405.0 533.0 405.0 531.0 405.0 530.0 405.0 530.0 397.0 530.0 395.0 530.0 393.0 530.0 391.0 530.0 389.0 530.0 387.0 530.0 385.0 530.0 383.0 530.0 381.0 530.0 379.0 530.0 377.0 530.0 375.0 530.0 373.0 530.0 371.0 530.0 369.0 530.0 367.0 529.8 365.0 529.2 363.0 529.0 362.7 527.3 361.0 527.0 360.8 525.0 360.0 523.0 359.3 522.7 359.0 521.0 357.3 520.7 357.0 519.9 355.0 519.0 353.0 519.0 353.0 517.0 351.0 516.9 351.0 515.0 350.2 513.0 350.0 511.0 350.0 509.0 350.0 507.0 350.0 505.0 350.2 503.0 350.8 502.7 351.0 501.0 352.7 500.8 353.0 500.0 355.0 499.2 357.0 499.0 357.3 497.3 359.0 497.0 359.2 495.0 359.8 493.0 359.5 492.0 359.0 491.0 358.0 490.4 357.0 490.0 355.0 489.7 353.0 489.2 351.0 489.0 350.4 488.6 349.0 488.3 347.0 488.0 345.0 487.2 343.0 487.0 342.8 485.0 341.9 483.0 341.2 482.8 341.0 481.0 339.9 480.1 339.0 479.0 337.2 478.8 337.0 478.3 335.0 478.3 333.0 478.6 331.0 479.0 329.6 479.2 329.0 479.6 327.0 479.6 325.0 479.0 323.9 478.2 323.0 477.0 322.4 475.0 322.2 473.3 323.0 473.0 323.5 472.6 325.0 472.3 327.0 471.3 329.0 471.0 329.3 469.0 330.4 467.0 330.7 465.0 330.8 463.0 330.9 461.0 331.0 460.8 331.0 459.0 331.3 457.0 331.6 455.0 331.7 453.0 331.3 452.4 331.0 451.0 330.5 449.0 329.5 447.6 329.0 447.0 328.7 445.0 328.3 443.0 328.5 441.5 329.0 441.0 329.1 439.0 329.6 437.0 329.9 435.0 329.9 433.0 329.7 431.0 329.0 431.0 329.0 429.0 327.0 429.0 327.0 428.1 325.0 427.3 323.0 427.0 322.7 425.0 322.1 423.0 322.2 421.0 323.0 421.0 323.0 419.9 325.0 419.0 326.5 418.6 327.0 417.0 327.7 415.0 328.1 413.0 328.3 411.0 328.6 409.6 329.0 409.0 329.2 407.0 329.7 405.0 329.9 403.0 330.0 401.0 330.0 399.0 330.0 397.0 330.0 395.0 329.9 393.0 329.7 391.0 329.2 390.4 329.0 389.0 328.6 387.0 328.3 385.0 328.3 383.0 328.9 382.7 329.0 381.0 329.6 379.0 330.3 377.0 330.7 375.0 330.8 373.0 330.7 371.0 330.6 369.0 330.3 367.0 330.1 365.0 330.1 363.0 330.3 361.0 330.8 360.3 331.0 359.0 331.6 357.0 332.2 355.0 332.5 353.0 332.5 351.0 332.4 349.0 332.2 347.0 332.0 345.0 332.0 343.0 332.8 342.8 333.0 341.8 335.0 341.0 336.4 340.7 337.0 339.0 338.6 338.4 339.0 337.0 339.6 335.0 340.0 333.0 340.6 332.5 341.0 331.2 343.0 331.0 343.7 330.8 345.0 330.4 347.0 329.2 349.0 329.0 349.2 327.0 350.4 325.0 350.7 323.0 350.6 321.0 350.0 319.6 349.0 319.0 348.3 318.0 347.0 317.5 345.0 317.5 343.0 317.6 341.0 317.8 339.0 318.1 337.0 318.3 335.0 318.8 333.0 319.0 332.8 320.1 331.0 321.0 330.1 322.7 329.0 323.0 328.8 325.0 328.0 326.7 327.0 327.0 326.4 327.3 325.0 327.4 323.0 327.4 321.0 327.4 319.0 327.4 317.0 327.2 315.0 327.0 314.3 325.8 313.0 325.0 312.7 323.0 312.3 321.0 311.6 319.7 311.0 319.0 310.8 317.0 310.3 315.0 310.1 313.0 310.0 311.0 310.0 309.0 310.0 307.0 310.0 305.0 310.0 303.0 310.1 301.0 310.6 300.1 311.0 299.0 312.4 298.6 313.0 298.1 315.0 297.3 317.0 297.0 317.3 295.0 318.0 293.0 318.1 291.0 318.2 289.0 318.2 287.0 318.2 285.0 318.2 283.0 318.4 281.6 319.0 281.0 319.2 279.2 321.0 279.0 321.6 278.4 323.0 278.0 325.0 277.3 327.0 277.0 327.3 275.0 328.0 273.0 328.1 271.0 328.2 269.0 328.2 267.0 328.2 265.0 328.2 263.0 328.4 261.6 329.0 261.0 329.2 259.2 331.0 259.0 331.6 258.4 333.0 258.0 335.0 257.3 337.0 257.0 337.3 255.0 338.0 253.0 338.1 251.0 338.2 249.0 338.2 247.0 338.2 245.0 338.2 243.0 338.4 241.6 339.0 241.0 339.2 239.2 341.0 239.0 341.6 238.4 343.0 238.0 345.0 237.3 347.0 237.0 347.3 235.0 348.0 233.0 348.1 231.0 348.2 229.0 348.2 227.0 348.2 225.0 348.2 223.0 348.4 221.6 349.0 221.0 349.2 219.2 351.0 219.0 351.6 218.4 353.0 218.0 355.0 217.3 357.0 217.0 357.3 215.0 358.0 213.0 358.1 211.0 358.2 209.0 358.2 207.0 358.2 205.0 358.2 203.0 358.4 201.6 359.0 201.0 359.2 199.2 361.0 199.0 361.6 198.4 363.0 198.0 365.0 197.3 367.0 197.0 367.3 195.0 368.0 193.0 368.1 185.0 368.2 185.0 367.0 185.0 365.0 185.0 363.0 185.0 361.0 185.0 359.0 185.0 357.0 185.0 355.0 185.0 353.0 185.0 351.0 185.0 349.0 185.0 347.0 185.0 345.0 185.0 343.0 185.0 341.0 185.0 339.0 185.0 337.0 185.0 335.0 185.0 333.0 185.0 331.0 185.0 329.0 185.0 327.0 185.0 325.0 185.0 323.0 185.0 321.0 185.0 319.0 185.0 317.0 185.0 315.0 185.0 313.0 185.0 311.0 185.0 309.0 185.0 307.0 185.0 305.0 185.0 303.0 185.0 301.0 185.0 299.0 185.0 297.0 185.0 295.0 185.0 293.0 185.0 291.0 185.0 289.0 185.0 287.0 185.0 285.0 185.0 283.0 185.0 281.0 185.0 279.0 185.0 277.0 185.0 275.0 185.0 273.0 185.0 271.0 185.0 269.0 185.0 267.0 185.0 265.0 185.0 263.0 185.0 261.0 185.0 259.0 185.0 257.0 185.0 255.0 185.0 253.0 185.0 251.0 185.0 249.0 185.0 247.0 185.0 245.0 185.0 243.0 185.0 241.0 185.0 239.0 185.0 237.0 185.0 235.0 185.0 233.0 185.0 231.0 185.0 229.0 185.0 227.0 185.0 225.0 185.0 223.0 185.0 221.0 185.0 219.0 185.0 217.0 185.0 215.0 185.0 213.0 185.0 211.0 185.0 209.0 185.0 207.0 185.0 205.0 185.0 203.0 185.0 201.0 185.0 199.0 185.0 197.0 185.0 195.0 185.0 193.0 185.0 191.0 185.0 189.0 185.0 187.0 185.0 185.0 185.0 183.0 185.0 181.0 185.0 179.0 185.0 177.0 185.0 175.0 185.0 173.0 185.0 171.0 185.0 169.0 185.0 167.0 185.0 165.0 185.0 163.0 185.0 161.0 185.0 159.0 185.0 157.0 185.0 155.0 185.0 153.0 185.0 151.0 185.0 149.0 185.0 147.0 185.0 145.0 185.0 143.0 185.0 135.0ZM353.0 252.9 352.9 253.0 352.2 255.0 352.9 257.0 353.0 257.1 355.0 257.8 357.0 257.2 357.2 257.0 357.8 255.0 357.2 253.0 357.0 252.8 355.0 252.2 353.0 252.9ZM413.0 238.7 412.4 239.0 411.0 239.5 409.0 240.5 407.7 241.0 407.0 241.3 405.0 241.9 403.0 242.7 402.7 243.0 402.0 245.0 401.6 247.0 401.0 248.4 400.8 249.0 399.0 250.8 398.4 251.0 397.0 251.6 395.0 252.1 393.5 253.0 393.0 253.7 392.7 255.0 392.5 257.0 392.4 259.0 392.2 261.0 392.0 263.0 392.1 265.0 392.8 267.0 393.0 267.2 395.0 267.9 397.0 268.0 399.0 267.8 401.0 267.6 403.0 267.5 405.0 267.3 406.3 267.0 407.0 266.5 408.0 265.0 408.6 263.0 409.0 262.4 410.1 261.0 411.0 260.6 413.0 260.1 415.0 260.0 417.0 260.0 419.0 260.0 421.0 260.0 423.0 260.0 425.0 260.2 427.0 260.8 427.3 261.0 429.0 262.7 429.2 263.0 430.0 265.0 431.0 267.0 431.0 267.0 433.0 267.9 435.0 268.2 437.0 268.5 438.6 269.0 439.0 269.1 441.0 269.6 443.0 269.9 445.0 270.0 447.0 270.0 449.0 270.0 451.0 270.0 453.0 270.0 455.0 269.8 457.0 269.2 457.3 269.0 459.0 267.3 459.2 267.0 459.8 265.0 460.0 263.0 460.0 261.0 460.0 259.0 460.0 257.0 459.9 255.0 459.6 253.0 459.0 252.0 458.0 251.0 457.0 250.4 455.0 249.9 453.0 249.2 452.7 249.0 451.0 247.3 450.7 247.0 449.9 245.0 449.0 243.4 448.6 243.0 447.0 242.2 445.0 241.9 443.0 241.7 441.0 241.4 439.6 241.0 439.0 240.8 437.0 240.3 435.0 240.1 433.0 240.0 431.0 240.0 429.0 240.0 427.0 240.0 425.0 240.0 423.0 239.9 421.0 239.6 419.0 239.1 418.5 239.0 417.0 238.5 415.0 238.3 413.0 238.7ZM525.0 240.9 524.5 241.0 523.0 241.5 521.5 243.0 521.0 245.0 521.5 247.0 523.0 248.5 524.6 249.0 525.0 249.1 527.0 249.2 529.0 249.2 531.0 249.2 533.0 249.2 535.0 249.2 537.0 249.2 539.0 249.2 541.0 249.2 543.0 249.2 545.0 249.1 545.7 249.0 547.0 248.7 549.0 247.3 549.3 247.0 549.8 245.0 549.4 243.0 549.0 242.3 547.7 241.0 547.0 240.6 545.0 240.1 543.0 240.0 541.0 240.0 539.0 240.0 537.0 240.0 535.0 240.0 533.0 240.1 531.0 240.3 529.0 240.6 527.0 240.8 525.0 240.9ZM565.0 262.9 564.7 263.0 563.0 264.7 562.9 265.0 563.0 265.6 563.7 267.0 565.0 267.7 567.0 267.2 567.2 267.0 567.7 265.0 567.0 263.7 565.6 263.0 565.0 262.9ZM643.0 342.8 642.8 343.0 642.2 345.0 642.7 347.0 643.0 347.3 645.0 347.8 647.0 347.2 647.2 347.0 647.9 345.0 647.4 343.0 647.0 342.6 645.0 342.2 643.0 342.8ZM545.0 262.9 544.8 263.0 543.0 264.4 542.8 265.0 542.6 267.0 542.6 269.0 542.6 271.0 542.6 273.0 542.8 275.0 543.0 275.6 544.8 277.0 545.0 277.1 545.2 277.0 547.0 275.6 547.2 275.0 547.4 273.0 547.4 271.0 547.4 269.0 547.4 267.0 547.2 265.0 547.0 264.4 545.2 263.0 545.0 262.9ZM552.7 151.0 553.0 150.7 555.0 150.3 557.0 150.7 557.3 151.0 558.7 153.0 559.0 154.7 559.0 155.0 559.0 155.3 558.7 157.0 557.3 159.0 557.0 159.3 555.0 159.8 553.0 159.8 551.5 159.0 551.0 157.6 550.9 157.0 550.9 155.0 551.0 154.4 551.3 153.0 552.7 151.0ZM550.0 171.0 551.0 169.2 553.0 169.2 555.0 169.3 557.0 169.6 559.0 170.8 559.2 171.0 560.4 173.0 560.7 175.0 560.6 177.0 559.9 179.0 559.0 179.9 557.0 180.6 555.0 180.7 553.0 180.3 551.3 179.0 551.0 178.5 550.3 177.0 550.1 175.0 550.0 173.0 550.0 171.0ZM741.1 193.0 743.0 192.2 745.0 191.9 747.0 191.9 755.0 191.9 755.0 193.0 755.0 195.0 755.0 197.0 755.0 198.1 747.0 198.1 745.0 198.0 743.0 197.6 741.8 197.0 741.0 195.9 740.5 195.0 741.0 193.2 741.1 193.0ZM672.0 281.0 673.0 280.4 675.0 280.2 677.0 280.4 678.0 281.0 679.0 282.0 679.5 283.0 679.8 285.0 679.5 287.0 679.0 288.0 678.0 289.0 677.0 289.5 675.0 289.8 673.0 289.5 672.0 289.0 671.0 288.0 670.5 287.0 670.2 285.0 670.5 283.0 671.0 282.0 672.0 281.0Z"/><path fill="#74ffff" d="M185.0 135.0 193.0 135.0 195.0 135.0 197.0 135.0 199.0 135.0 201.0 135.0 203.0 135.0 205.0 135.0 207.0 135.0 209.0 135.0 211.0 135.0 213.0 135.0 215.0 135.0 217.0 135.0 219.0 135.0 221.0 135.0 223.0 135.0 225.0 135.0 227.0 135.0 229.0 135.0 231.0 135.0 233.0 135.0 235.0 135.0 237.0 135.0 239.0 135.0 241.0 135.0 243.0 135.0 245.0 135.0 247.0 135.0 249.0 135.0 251.0 135.0 253.0 135.0 255.0 135.0 257.0 135.0 259.0 135.0 261.0 135.0 263.0 135.0 265.0 135.0 267.0 135.0 269.0 135.0 271.0 135.0 273.0 135.0 275.0 135.0 277.0 135.0 279.0 135.0 281.0 135.0 283.0 135.0 285.0 135.0 287.0 135.0 289.0 135.0 291.0 135.0 293.0 135.0 295.0 135.0 297.0 135.0 299.0 135.0 301.0 135.0 303.0 135.0 305.0 135.0 307.0 135.0 309.0 135.0 311.0 135.0 313.0 135.0 315.0 135.0 317.0 135.0 319.0 135.0 321.0 135.0 323.0 135.0 325.0 135.0 327.0 135.0 329.0 135.0 331.0 135.0 333.0 135.0 335.0 135.0 337.0 135.0 339.0 135.0 341.0 135.0 343.0 135.0 345.0 135.0 347.0 135.0 349.0 135.0 351.0 135.0 353.0 135.0 355.0 135.0 357.0 135.0 359.0 135.0 361.0 135.0 363.0 135.0 365.0 135.0 367.0 135.0 369.0 135.0 371.0 135.0 373.0 135.0 375.0 135.0 377.0 135.0 379.0 135.0 381.0 135.0 383.0 135.0 385.0 135.0 387.0 135.0 389.0 135.0 391.0 135.0 393.0 135.0 395.0 135.0 397.0 135.0 399.0 135.0 401.0 135.0 403.0 135.0 405.0 135.0 407.0 135.0 409.0 135.0 411.0 135.0 413.0 135.0 415.0 135.0 417.0 135.0 419.0 135.0 421.0 135.0 423.0 135.0 425.0 135.0 427.0 135.0 429.0 135.0 431.0 135.0 433.0 135.0 435.0 135.0 437.0 135.0 439.0 135.0 441.0 135.0 443.0 135.0 445.0 135.0 447.0 135.0 449.0 135.0 451.0 135.0 453.0 135.0 455.0 135.0 457.0 135.0 459.0 135.0 461.0 135.0 463.0 135.0 465.0 135.0 467.0 135.0 469.0 135.0 471.0 135.0 473.0 135.0 475.0 135.0 477.0 135.0 479.0 135.0 481.0 135.0 483.0 135.0 485.0 135.0 487.0 135.0 489.0 135.0 491.0 135.0 493.0 135.0 495.0 135.0 497.0 135.0 499.0 135.0 501.0 135.0 503.0 135.0 505.0 135.0 507.0 135.0 509.0 135.0 509.5 135.0 509.5 143.0 509.5 145.0 509.7 147.0 510.3 149.0 511.0 149.9 513.0 151.0 513.0 151.0 515.0 151.5 517.0 152.2 517.8 153.0 518.5 155.0 518.8 157.0 519.0 157.5 519.4 159.0 520.8 161.0 521.0 161.2 523.0 162.5 525.0 162.8 527.0 162.7 529.0 162.3 531.0 161.9 533.0 161.6 535.0 161.5 537.0 161.6 539.0 161.9 541.0 162.3 543.0 162.8 544.8 163.0 545.0 163.1 547.0 165.0 545.0 166.9 544.8 167.0 543.0 167.2 541.0 167.7 539.0 168.1 537.0 168.4 535.0 168.6 533.0 168.8 532.1 169.0 531.0 169.3 529.3 171.0 529.0 172.1 528.8 173.0 528.5 175.0 527.8 177.0 527.0 177.8 525.0 178.4 523.0 178.6 521.0 178.6 519.0 178.6 517.0 178.6 515.0 178.6 513.0 178.7 511.0 179.0 510.9 179.0 509.0 179.2 507.0 179.4 505.0 179.5 503.0 179.8 501.0 180.9 500.9 181.0 499.8 183.0 499.5 185.0 499.5 187.0 499.5 189.0 499.5 191.0 499.5 193.0 499.5 195.0 499.7 197.0 500.7 199.0 501.0 199.3 503.0 200.3 505.0 200.6 506.8 201.0 507.0 201.1 508.9 203.0 509.0 203.2 509.4 205.0 509.7 207.0 510.3 209.0 511.0 209.9 513.0 211.0 513.1 211.0 515.0 211.4 517.0 211.5 519.0 211.9 521.0 212.3 523.0 212.7 525.0 212.9 527.0 212.9 529.0 212.8 531.0 212.7 533.0 212.7 535.0 212.8 535.6 213.0 537.0 214.3 537.3 215.0 537.6 217.0 538.2 219.0 539.0 220.1 539.9 221.0 541.0 221.8 543.0 222.4 545.0 222.5 547.0 222.2 549.0 221.6 550.3 221.0 551.0 220.8 553.0 220.3 555.0 220.1 557.0 220.3 559.0 221.0 559.0 221.0 561.0 223.0 561.0 223.1 561.8 225.0 562.2 227.0 563.0 228.6 563.5 229.0 565.0 229.8 567.0 230.0 569.0 230.0 571.0 230.0 573.0 230.0 575.0 229.8 576.5 229.0 577.0 228.6 577.7 227.0 578.1 225.0 578.3 223.0 578.6 221.0 579.0 219.6 579.2 219.0 579.7 217.0 580.0 215.0 580.3 213.0 580.8 211.0 581.0 210.4 581.4 209.0 581.7 207.0 581.8 205.0 581.8 203.0 581.8 201.0 581.8 199.0 581.8 197.0 581.8 195.0 581.5 193.0 581.0 191.4 580.9 191.0 580.4 189.0 580.1 187.0 580.1 185.0 580.6 183.0 581.0 182.3 582.3 181.0 583.0 180.6 585.0 180.1 587.0 180.0 589.0 180.0 591.0 180.0 593.0 180.0 595.0 180.0 597.0 179.9 599.0 179.6 601.0 179.1 601.4 179.0 603.0 178.5 605.0 178.2 607.0 178.2 609.0 178.1 611.0 178.1 613.0 178.1 615.0 178.2 617.0 178.3 619.0 178.6 620.4 179.0 621.0 179.2 623.0 179.7 625.0 180.0 627.0 180.4 628.0 181.0 629.0 182.0 629.6 183.0 630.0 185.0 630.4 187.0 631.0 188.0 632.0 189.0 633.0 189.6 635.0 190.1 637.0 190.8 637.3 191.0 639.0 192.7 639.2 193.0 640.0 195.0 640.8 197.0 641.0 197.3 642.7 199.0 643.0 199.3 645.0 200.1 646.6 201.0 647.0 201.4 647.8 203.0 648.2 205.0 648.8 207.0 649.0 207.2 650.1 209.0 651.0 209.9 652.8 211.0 653.0 211.2 655.0 211.9 657.0 212.7 657.3 213.0 657.9 215.0 657.8 217.0 657.0 219.0 657.0 219.0 655.0 220.0 653.0 220.8 652.7 221.0 651.0 222.7 650.8 223.0 650.2 225.0 650.5 227.0 651.0 228.0 652.0 229.0 653.0 229.6 655.0 229.9 657.0 230.0 659.0 230.0 661.0 230.0 663.0 230.0 665.0 230.0 667.0 230.0 669.0 230.0 670.0 231.0 670.0 233.0 669.9 235.0 669.6 237.0 669.0 238.0 668.0 239.0 667.0 239.6 665.0 239.9 663.0 240.0 661.0 240.0 659.0 240.0 657.0 240.0 655.0 240.1 653.0 240.4 652.0 241.0 651.0 242.0 650.4 243.0 650.0 245.0 649.6 247.0 649.0 248.0 648.0 249.0 647.0 249.6 645.0 249.9 643.0 250.0 641.0 250.0 639.0 250.0 637.0 250.0 635.0 250.1 633.0 250.4 632.0 251.0 631.0 252.0 630.4 253.0 630.2 255.0 630.4 257.0 631.0 258.0 632.0 259.0 633.0 259.6 635.0 260.0 637.0 260.4 638.0 261.0 639.0 262.0 639.6 263.0 639.8 265.0 639.6 267.0 639.0 268.0 638.0 269.0 637.0 269.6 635.0 270.0 633.0 270.4 632.0 271.0 631.0 272.0 630.4 273.0 630.1 275.0 630.0 277.0 630.0 279.0 629.0 280.0 627.0 280.0 625.0 280.0 623.0 280.0 621.0 280.0 619.0 280.0 617.0 280.0 615.0 280.1 613.0 280.4 612.0 281.0 611.0 282.0 610.4 283.0 610.2 285.0 610.4 287.0 610.8 289.0 611.0 289.6 611.4 291.0 611.7 293.0 611.8 295.0 611.5 297.0 611.0 298.4 610.8 299.0 609.0 300.8 608.4 301.0 607.0 301.6 605.0 302.0 603.0 302.7 602.7 303.0 602.0 305.0 601.9 307.0 601.8 309.0 601.8 311.0 601.9 313.0 601.9 315.0 601.9 317.0 601.9 319.0 601.9 321.0 601.9 323.0 602.0 325.0 602.7 327.0 603.0 327.2 605.0 327.8 607.0 327.2 607.3 327.0 608.0 325.0 608.3 323.0 608.6 321.0 609.0 319.6 609.2 319.0 609.7 317.0 610.0 315.0 610.4 313.0 611.0 312.0 612.0 311.0 613.0 310.4 615.0 310.1 617.0 310.0 619.0 310.0 621.0 310.0 623.0 310.0 625.0 310.0 627.0 310.0 629.0 310.0 631.0 310.0 633.0 310.0 635.0 310.1 637.0 310.3 639.0 310.8 639.6 311.0 641.0 311.4 643.0 311.7 645.0 311.9 647.0 312.1 649.0 313.0 649.0 313.0 649.8 315.0 650.0 317.0 650.0 319.0 650.0 321.0 650.0 323.0 649.9 325.0 649.7 327.0 649.2 329.0 649.0 329.6 648.6 331.0 648.3 333.0 648.1 335.0 647.5 337.0 647.0 337.5 645.0 338.2 643.0 338.8 642.8 339.0 641.0 340.1 640.1 341.0 639.0 342.8 638.8 343.0 638.3 345.0 638.0 347.0 637.4 349.0 637.0 349.4 635.0 350.2 633.5 351.0 633.0 351.4 632.3 353.0 631.9 355.0 631.7 357.0 631.4 359.0 631.0 360.4 630.8 361.0 630.3 363.0 629.6 365.0 629.0 365.7 627.3 367.0 627.0 367.1 625.0 367.4 623.0 367.8 621.0 368.4 619.7 369.0 619.0 369.2 617.0 369.7 615.0 370.0 613.0 370.3 611.0 370.8 610.3 371.0 609.0 371.6 607.0 372.2 605.0 372.5 603.0 372.8 602.3 373.0 601.0 374.0 600.2 375.0 599.7 377.0 599.2 379.0 599.0 379.6 598.6 381.0 598.3 383.0 598.0 385.0 597.3 387.0 597.0 387.3 595.0 388.0 593.0 388.4 591.6 389.0 591.0 389.2 589.2 391.0 589.0 391.6 588.4 393.0 588.2 395.0 588.2 397.0 588.2 405.0 587.0 405.0 585.0 405.0 583.0 405.0 581.0 405.0 579.0 405.0 577.0 405.0 575.0 405.0 573.0 405.0 571.0 405.0 569.0 405.0 567.0 405.0 565.0 405.0 563.0 405.0 561.0 405.0 559.0 405.0 557.0 405.0 555.0 405.0 553.0 405.0 551.0 405.0 549.0 405.0 547.0 405.0 545.0 405.0 543.0 405.0 541.0 405.0 540.0 405.0 540.0 397.0 540.0 395.0 540.0 393.0 540.0 391.0 540.0 389.0 540.0 387.0 540.0 385.0 540.0 383.0 540.0 381.0 540.0 379.0 540.0 377.0 540.0 375.0 540.0 373.0 540.0 371.0 540.0 369.0 540.0 367.0 539.8 365.0 539.2 363.0 539.0 362.7 537.3 361.0 537.0 360.8 535.0 360.0 533.0 359.2 532.7 359.0 531.0 357.3 530.8 357.0 530.0 355.0 529.0 353.0 529.0 353.0 527.0 352.1 525.0 351.8 523.0 351.2 522.8 351.0 521.0 349.9 520.1 349.0 519.0 347.2 518.8 347.0 518.1 345.0 517.3 343.0 517.0 342.7 515.0 342.0 513.0 341.9 511.0 341.8 509.0 341.8 507.0 341.8 505.0 341.9 503.0 342.3 501.4 343.0 501.0 343.4 500.1 345.0 499.3 347.0 499.0 347.3 497.3 349.0 497.0 349.2 495.0 349.6 493.7 349.0 493.0 348.6 492.3 347.0 491.8 345.0 491.2 343.0 491.0 342.8 489.9 341.0 489.0 340.1 487.2 339.0 487.0 338.8 485.0 338.1 483.0 337.2 482.8 337.0 482.1 335.0 482.3 333.0 483.0 331.4 483.4 331.0 485.0 330.1 487.0 329.3 487.3 329.0 489.0 327.3 489.2 327.0 489.6 325.0 489.0 323.7 488.6 323.0 487.0 322.3 485.0 321.8 483.0 321.3 482.3 321.0 481.0 320.5 479.0 319.5 477.6 319.0 477.0 318.7 475.0 318.3 473.0 318.2 471.0 318.2 470.0 319.0 470.0 321.0 470.0 323.0 469.9 325.0 469.4 327.0 469.0 327.5 467.0 328.8 465.9 329.0 465.0 329.1 463.0 329.1 461.0 329.0 460.9 329.0 459.0 328.7 457.0 328.4 455.0 328.1 453.0 327.7 451.7 327.0 451.0 326.3 450.1 325.0 449.0 323.4 448.6 323.0 447.0 322.2 445.0 322.0 443.0 322.1 441.0 323.0 441.0 323.0 439.7 325.0 439.0 325.8 437.4 327.0 437.0 327.1 435.0 327.2 433.9 327.0 433.0 326.5 432.1 325.0 431.6 323.0 431.0 321.6 430.8 321.0 429.0 319.2 428.4 319.0 427.0 318.4 425.0 318.2 423.0 317.9 421.0 317.0 421.0 317.0 420.1 315.0 419.6 313.0 419.0 312.0 418.0 311.0 417.0 310.5 415.0 310.2 413.0 310.8 412.7 311.0 411.0 312.7 410.8 313.0 410.1 315.0 409.6 317.0 409.0 318.0 408.0 319.0 407.0 319.6 405.0 320.0 403.0 320.3 401.0 320.8 400.4 321.0 399.0 321.4 397.0 321.7 395.0 321.8 393.0 321.5 391.6 321.0 391.0 320.8 389.2 319.0 389.0 318.4 388.4 317.0 388.2 315.0 388.2 313.0 388.2 311.0 388.2 309.0 388.1 307.0 388.0 305.0 387.3 303.0 387.0 302.7 385.0 302.0 383.0 301.9 381.0 301.8 379.0 301.9 377.0 301.9 375.0 302.0 373.0 302.6 372.6 303.0 372.1 305.0 372.3 307.0 373.0 308.6 373.5 309.0 375.0 309.8 377.0 310.4 378.0 311.0 379.0 312.0 379.6 313.0 380.0 315.0 380.3 317.0 380.8 319.0 381.0 319.6 381.4 321.0 381.7 323.0 381.5 325.0 381.0 326.0 380.5 327.0 379.0 328.1 377.0 328.9 376.2 329.0 375.0 329.1 373.0 329.1 372.6 329.0 371.0 328.7 369.0 328.2 367.0 327.7 365.0 327.6 363.0 327.8 361.0 328.4 359.7 329.0 359.0 329.2 357.0 329.7 355.0 329.9 353.0 329.9 351.0 329.6 349.0 329.1 348.5 329.0 347.0 328.5 345.0 328.4 343.0 328.9 342.8 329.0 341.0 330.1 340.1 331.0 339.0 332.7 338.8 333.0 338.0 335.0 337.0 336.5 336.2 337.0 335.0 337.3 333.0 337.7 331.0 338.7 330.7 339.0 329.6 341.0 329.3 343.0 329.1 345.0 329.0 345.4 328.4 347.0 327.0 348.4 325.0 349.0 323.0 348.7 321.0 347.3 320.7 347.0 320.2 345.0 320.2 343.0 320.4 341.0 320.9 339.0 321.0 338.6 321.5 337.0 322.0 335.0 322.8 333.0 323.0 332.8 325.0 332.0 327.0 331.4 327.6 331.0 329.0 329.9 329.4 329.0 329.9 327.0 330.0 325.0 330.0 323.0 330.0 321.0 330.0 319.0 330.0 317.0 329.9 315.0 329.6 313.0 329.0 312.0 328.0 311.0 327.0 310.4 325.0 310.0 323.0 309.8 321.0 309.2 320.3 309.0 319.0 308.4 317.0 307.8 315.0 307.5 313.0 307.4 311.0 307.4 309.0 307.4 307.0 307.4 305.0 307.4 303.0 307.2 302.1 307.0 301.0 306.1 300.3 305.0 300.0 303.0 300.0 301.0 301.0 300.0 303.0 300.0 305.0 300.0 307.0 300.0 309.0 300.0 311.0 300.0 313.0 300.0 315.0 299.8 316.5 299.0 317.0 298.6 317.7 297.0 317.9 295.0 317.3 293.0 317.0 292.7 315.0 292.0 313.0 291.6 311.6 291.0 311.0 290.8 309.2 289.0 309.0 288.4 308.5 287.0 308.3 285.0 308.5 283.0 309.0 281.6 309.2 281.0 311.0 279.2 311.6 279.0 313.0 278.4 315.0 278.2 317.0 278.2 319.0 278.2 321.0 278.2 323.0 278.2 325.0 278.2 327.0 278.2 329.0 278.2 331.0 278.1 333.0 278.1 335.0 278.0 337.0 277.3 337.3 277.0 337.9 275.0 337.7 273.0 337.0 271.4 336.5 271.0 335.0 270.2 333.0 269.6 331.9 269.0 331.0 268.0 330.4 267.0 329.9 265.0 329.2 263.0 329.0 262.7 327.3 261.0 327.0 260.8 325.0 260.2 323.0 260.0 321.0 260.0 319.0 260.0 317.0 260.0 315.0 260.0 313.0 260.0 311.0 260.0 309.0 260.0 307.0 260.0 305.0 260.1 303.0 260.4 302.0 261.0 301.0 262.0 300.4 263.0 300.1 265.0 300.0 267.0 300.0 269.0 300.0 271.0 300.0 273.0 299.9 275.0 299.6 277.0 299.0 278.0 298.0 279.0 297.0 279.6 295.0 280.1 293.0 280.8 292.7 281.0 291.0 282.7 290.8 283.0 290.2 285.0 290.5 287.0 291.0 288.0 292.0 289.0 293.0 289.6 295.0 290.0 297.0 290.4 298.0 291.0 299.0 292.0 299.6 293.0 299.9 295.0 300.0 297.0 300.0 299.0 299.0 300.0 297.0 300.0 295.0 300.0 293.0 300.0 291.0 300.0 289.0 300.0 287.0 300.0 285.0 300.0 283.0 300.0 281.0 300.0 279.0 300.0 277.0 300.0 275.0 300.1 273.0 300.4 272.0 301.0 271.0 302.0 270.4 303.0 270.0 305.0 269.6 307.0 269.0 308.0 268.0 309.0 267.0 309.6 265.0 309.9 263.0 310.0 261.0 310.0 259.0 310.0 257.0 310.0 255.0 310.1 253.0 310.4 252.0 311.0 251.0 312.0 250.4 313.0 250.0 315.0 249.6 317.0 249.0 318.0 248.0 319.0 247.0 319.6 245.0 319.9 243.0 320.0 241.0 320.0 239.0 320.0 237.0 320.0 235.0 320.1 233.0 320.4 232.0 321.0 231.0 322.0 230.4 323.0 230.0 325.0 229.6 327.0 229.0 328.0 228.0 329.0 227.0 329.6 225.0 329.9 223.0 330.0 221.0 330.0 219.0 330.0 217.0 330.0 215.0 330.1 213.0 330.4 212.0 331.0 211.0 332.0 210.4 333.0 210.0 335.0 209.6 337.0 209.0 338.0 208.0 339.0 207.0 339.6 205.0 339.9 203.0 340.0 201.0 340.0 199.0 340.0 197.0 340.0 195.0 340.0 193.0 340.0 185.0 340.0 185.0 339.0 185.0 337.0 185.0 335.0 185.0 333.0 185.0 331.0 185.0 329.0 185.0 327.0 185.0 325.0 185.0 323.0 185.0 321.0 185.0 319.0 185.0 317.0 185.0 315.0 185.0 313.0 185.0 311.0 185.0 309.0 185.0 307.0 185.0 305.0 185.0 303.0 185.0 301.0 185.0 299.0 185.0 298.2 193.0 298.1 195.0 298.0 197.0 297.3 197.3 297.0 198.0 295.0 198.4 293.0 199.0 291.6 199.2 291.0 201.0 289.2 201.6 289.0 203.0 288.4 205.0 288.0 207.0 287.3 207.3 287.0 208.0 285.0 208.1 283.0 208.2 281.0 208.2 279.0 208.2 277.0 208.2 275.0 208.4 273.0 209.0 271.6 209.2 271.0 211.0 269.2 211.6 269.0 213.0 268.4 215.0 268.0 217.0 267.3 217.3 267.0 218.0 265.0 218.1 263.0 218.2 261.0 218.2 259.0 218.2 257.0 218.2 255.0 218.4 253.0 219.0 251.6 219.2 251.0 221.0 249.2 221.6 249.0 223.0 248.4 225.0 248.0 227.0 247.3 227.3 247.0 228.0 245.0 228.3 243.0 228.6 241.0 229.0 239.6 229.2 239.0 229.7 237.0 229.9 235.0 230.0 233.0 230.0 231.0 230.0 229.0 230.0 227.0 230.1 225.0 230.4 223.0 231.0 222.0 232.0 221.0 233.0 220.4 235.0 219.8 236.5 219.0 237.0 218.6 237.7 217.0 238.1 215.0 238.1 213.0 238.2 211.0 238.2 209.0 238.1 207.0 238.0 205.0 237.3 203.0 237.0 202.7 235.0 202.0 233.0 201.9 231.0 201.8 229.0 201.8 227.0 201.8 225.0 201.8 223.0 201.8 221.0 201.8 219.0 201.8 217.0 201.9 215.0 201.9 213.0 202.3 211.4 203.0 211.0 203.5 210.2 205.0 210.0 207.0 210.0 209.0 210.0 211.0 210.0 213.0 209.9 215.0 209.6 217.0 209.0 218.0 208.0 219.0 207.0 219.6 205.0 220.2 203.5 221.0 203.0 221.4 202.3 223.0 201.9 225.0 201.6 227.0 201.0 228.4 200.8 229.0 199.0 230.8 198.4 231.0 197.0 231.6 195.0 231.8 193.0 231.8 185.0 231.8 185.0 231.0 185.0 229.0 185.0 227.0 185.0 225.0 185.0 223.0 185.0 221.0 185.0 219.0 185.0 217.0 185.0 215.0 185.0 213.0 185.0 211.0 185.0 209.0 185.0 207.0 185.0 205.0 185.0 203.0 185.0 201.0 185.0 199.0 185.0 197.0 185.0 195.0 185.0 193.0 185.0 191.0 185.0 189.0 185.0 187.0 185.0 185.0 185.0 183.0 185.0 181.0 185.0 179.0 185.0 177.0 185.0 175.0 185.0 173.0 185.0 171.0 185.0 169.0 185.0 167.0 185.0 165.0 185.0 163.0 185.0 161.0 185.0 159.0 185.0 157.0 185.0 155.0 185.0 153.0 185.0 151.0 185.0 149.0 185.0 147.0 185.0 145.0 185.0 143.0 185.0 135.0ZM313.0 240.8 312.7 241.0 311.0 242.7 310.8 243.0 310.2 245.0 310.5 247.0 311.0 248.0 312.0 249.0 313.0 249.5 315.0 249.7 316.9 249.0 317.0 249.0 317.8 247.0 318.0 245.0 317.8 243.0 317.0 241.0 316.9 241.0 315.0 240.3 313.0 240.8ZM323.0 190.4 322.0 191.0 321.0 192.0 320.5 193.0 320.3 195.0 321.0 196.4 321.4 197.0 323.0 197.7 325.0 198.1 327.0 198.3 329.0 198.6 330.4 199.0 331.0 199.2 333.0 199.7 335.0 199.9 337.0 200.0 339.0 200.0 341.0 200.0 343.0 200.0 345.0 199.8 347.0 199.2 347.3 199.0 349.0 197.3 349.2 197.0 349.8 195.0 349.5 193.0 349.0 192.0 348.0 191.0 347.0 190.4 345.0 190.2 343.0 190.4 341.0 190.8 340.4 191.0 339.0 191.4 337.0 191.7 335.0 191.8 333.0 191.7 331.0 191.4 329.6 191.0 329.0 190.8 327.0 190.4 325.0 190.2 323.0 190.4ZM353.0 248.9 352.8 249.0 351.0 250.1 350.1 251.0 349.0 252.8 348.9 253.0 348.4 255.0 348.9 257.0 349.0 257.2 350.1 259.0 351.0 259.9 352.8 261.0 353.0 261.1 355.0 261.6 357.0 261.5 358.4 261.0 359.0 260.8 360.8 259.0 361.0 258.4 361.5 257.0 361.7 255.0 361.5 253.0 361.0 251.6 360.8 251.0 359.0 249.2 358.4 249.0 357.0 248.5 355.0 248.4 353.0 248.9ZM433.0 222.3 431.4 223.0 431.0 223.5 430.2 225.0 430.0 227.0 430.0 229.0 430.0 231.0 430.0 233.0 429.7 235.0 429.0 235.9 427.6 237.0 427.0 237.2 425.0 237.3 423.0 237.1 422.6 237.0 421.0 235.8 420.3 235.0 419.6 233.0 419.0 231.9 418.0 231.0 417.0 230.5 415.0 230.2 413.0 230.8 412.7 231.0 411.0 232.7 410.7 233.0 409.8 235.0 409.0 236.2 408.3 237.0 407.0 237.6 405.0 238.1 403.0 238.4 401.6 239.0 401.0 239.2 399.2 241.0 399.0 241.6 398.4 243.0 398.0 245.0 397.3 247.0 397.0 247.3 395.0 248.2 393.0 249.0 393.0 249.0 391.0 251.0 391.0 251.0 390.3 253.0 390.0 255.0 389.9 257.0 389.6 259.0 389.1 261.0 389.0 261.5 388.5 263.0 388.4 265.0 388.9 267.0 389.0 267.2 390.1 269.0 391.0 269.9 392.8 271.0 393.0 271.1 395.0 271.6 397.0 271.5 398.5 271.0 399.0 270.9 401.0 270.4 403.0 270.1 405.0 270.0 407.0 269.7 409.0 269.0 409.0 269.0 411.0 267.0 411.0 267.0 411.9 265.0 413.0 263.4 413.7 263.0 415.0 262.7 417.0 262.8 417.6 263.0 419.0 264.0 419.8 265.0 420.3 267.0 420.8 269.0 421.0 269.6 421.4 271.0 421.7 273.0 421.9 275.0 422.3 277.0 423.0 278.6 423.7 279.0 425.0 279.6 427.0 279.2 427.3 279.0 429.0 277.3 429.2 277.0 430.0 275.0 431.0 273.0 431.0 273.0 433.0 272.1 435.0 271.9 437.0 272.0 439.0 272.2 441.0 272.4 443.0 272.5 445.0 272.6 447.0 272.8 447.7 273.0 449.0 274.0 449.9 275.0 451.0 276.3 452.0 277.0 453.0 277.2 455.0 277.3 457.0 277.1 457.4 277.0 459.0 275.8 459.8 275.0 460.7 273.0 461.0 272.6 462.7 271.0 463.0 270.7 465.0 270.0 467.0 269.2 467.3 269.0 469.0 267.3 469.2 267.0 469.8 265.0 470.0 263.0 470.0 261.0 470.0 259.0 470.0 257.0 470.0 255.0 470.0 253.0 470.0 251.0 470.0 249.0 470.0 247.0 469.8 245.0 469.0 243.5 468.6 243.0 467.0 242.3 465.0 241.9 463.0 241.7 461.0 241.4 459.6 241.0 459.0 240.8 457.0 240.3 455.0 240.0 453.0 239.7 451.0 239.2 450.4 239.0 449.0 238.6 447.0 238.3 445.0 238.1 443.0 237.7 441.4 237.0 441.0 236.5 440.2 235.0 440.0 233.0 440.0 231.0 440.0 229.0 440.0 227.0 439.8 225.0 439.0 223.5 438.6 223.0 437.0 222.3 435.0 222.0 433.0 222.3ZM529.0 238.7 527.5 239.0 527.0 239.1 525.0 239.2 523.0 239.5 521.0 240.5 520.5 241.0 519.5 243.0 519.3 245.0 519.5 247.0 520.5 249.0 521.0 249.5 523.0 250.5 525.0 250.8 527.0 250.8 529.0 250.8 531.0 250.8 533.0 250.8 535.0 250.8 537.0 250.8 539.0 250.8 541.0 250.8 543.0 250.8 545.0 250.8 547.0 250.6 549.0 250.0 550.4 249.0 551.0 248.3 552.0 247.0 552.4 245.0 552.1 243.0 551.0 241.2 550.9 241.0 549.0 239.1 548.8 239.0 547.0 237.9 545.0 237.5 543.0 237.4 541.0 237.4 539.0 237.4 537.0 237.4 535.0 237.5 533.0 237.7 531.0 238.2 529.0 238.7ZM553.0 310.5 552.0 311.0 551.0 312.0 550.4 313.0 550.1 315.0 550.0 317.0 550.0 319.0 550.0 321.0 550.0 323.0 550.1 325.0 550.4 327.0 551.0 328.0 552.0 329.0 553.0 329.5 555.0 329.7 556.4 329.0 557.0 328.6 557.7 327.0 558.1 325.0 558.3 323.0 558.6 321.0 559.0 319.6 559.2 319.0 559.6 317.0 559.8 315.0 559.2 313.0 559.0 312.7 557.3 311.0 557.0 310.8 555.0 310.2 553.0 310.5ZM563.0 260.4 562.0 261.0 561.0 262.0 560.4 263.0 560.1 265.0 560.3 267.0 561.0 269.0 561.0 269.0 563.0 271.0 563.1 271.0 565.0 271.6 567.0 271.5 568.4 271.0 569.0 270.8 570.8 269.0 571.0 268.4 571.5 267.0 571.6 265.0 571.0 263.1 571.0 263.0 569.0 261.0 569.0 261.0 567.0 260.3 565.0 260.1 563.0 260.4ZM575.0 320.4 573.1 321.0 573.0 321.1 572.2 323.0 572.1 325.0 572.8 327.0 573.0 327.2 575.0 327.9 577.0 327.4 577.4 327.0 578.0 325.0 577.8 323.0 577.0 321.1 576.9 321.0 575.0 320.4ZM583.0 332.6 582.6 333.0 582.1 335.0 582.3 337.0 583.0 338.5 583.8 339.0 585.0 339.5 586.2 339.0 587.0 338.5 587.7 337.0 587.9 335.0 587.2 333.0 587.0 332.8 585.0 332.1 583.0 332.6ZM593.0 272.8 592.8 273.0 592.2 275.0 592.8 277.0 593.0 277.2 595.0 277.9 597.0 277.8 598.9 277.0 599.0 276.9 599.6 275.0 599.0 273.1 598.9 273.0 597.0 272.2 595.0 272.1 593.0 272.8ZM635.0 320.3 633.1 321.0 633.0 321.0 632.2 323.0 632.1 325.0 632.7 327.0 633.0 327.3 635.0 327.9 637.0 327.8 639.0 327.0 639.0 326.9 639.7 325.0 639.5 323.0 639.0 322.0 638.0 321.0 637.0 320.5 635.0 320.3ZM465.0 312.8 463.9 313.0 463.0 313.6 462.3 315.0 462.7 317.0 463.0 317.3 465.0 318.0 467.0 318.1 469.0 318.1 469.9 317.0 469.7 315.0 469.0 313.9 467.8 313.0 467.0 312.8 465.0 312.8ZM543.0 260.4 542.0 261.0 541.0 262.0 540.4 263.0 540.1 265.0 540.0 267.0 540.0 269.0 540.0 271.0 540.0 273.0 540.1 275.0 540.4 277.0 541.0 278.0 542.0 279.0 543.0 279.6 545.0 279.8 547.0 279.6 548.0 279.0 549.0 278.0 549.6 277.0 549.9 275.0 550.0 273.0 550.0 271.0 550.0 269.0 550.0 267.0 549.9 265.0 549.6 263.0 549.0 262.0 548.0 261.0 547.0 260.4 545.0 260.2 543.0 260.4ZM692.6 135.0 693.0 135.0 695.0 135.0 697.0 135.0 699.0 135.0 701.0 135.0 703.0 135.0 705.0 135.0 707.0 135.0 709.0 135.0 711.0 135.0 713.0 135.0 715.0 135.0 717.0 135.0 719.0 135.0 721.0 135.0 723.0 135.0 725.0 135.0 727.0 135.0 729.0 135.0 731.0 135.0 731.8 135.0 731.8 143.0 731.8 145.0 731.6 147.0 731.0 148.4 730.8 149.0 729.0 150.8 728.4 151.0 727.0 151.6 725.0 152.0 723.0 152.7 722.7 153.0 722.0 155.0 721.9 157.0 721.8 159.0 721.8 161.0 721.8 163.0 721.8 165.0 721.6 167.0 721.0 168.4 720.8 169.0 719.0 170.8 718.4 171.0 717.0 171.6 715.0 171.9 713.0 172.2 711.4 173.0 711.0 173.4 710.0 175.0 709.0 176.6 708.6 177.0 707.0 177.7 705.0 178.0 703.0 177.9 701.0 177.0 701.0 177.0 700.0 175.0 699.2 173.0 699.0 172.7 697.3 171.0 697.0 170.7 695.0 169.8 694.0 169.0 693.0 167.7 692.8 167.0 692.6 165.0 692.6 163.0 692.6 161.0 692.6 159.0 692.6 157.0 692.6 155.0 692.6 153.0 692.6 151.0 692.6 149.0 692.6 147.0 692.6 145.0 692.6 143.0 692.6 135.0ZM613.1 151.0 615.0 150.2 617.0 150.2 619.0 150.4 621.0 150.9 621.4 151.0 623.0 151.5 625.0 151.8 627.0 152.1 629.0 153.0 629.0 153.0 630.0 155.0 630.8 157.0 631.0 157.3 632.7 159.0 633.0 159.2 635.0 159.9 637.0 160.4 638.0 161.0 639.0 162.0 639.6 163.0 639.9 165.0 640.0 167.0 640.0 169.0 639.0 170.0 637.0 170.0 635.0 170.1 633.0 170.3 631.0 170.8 630.4 171.0 629.0 171.4 627.0 171.7 625.0 171.8 623.0 171.8 621.0 171.9 619.0 171.9 617.0 171.9 615.0 171.8 613.0 171.7 611.0 171.4 609.6 171.0 609.0 170.8 607.0 170.3 605.0 169.8 604.0 169.0 603.0 167.6 602.9 167.0 602.9 165.0 603.0 164.7 605.0 163.0 605.0 163.0 607.0 162.5 609.0 161.2 609.2 161.0 610.6 159.0 611.0 157.5 611.1 157.0 611.4 155.0 611.9 153.0 613.0 151.0 613.1 151.0ZM553.7 155.0 555.0 153.4 556.2 155.0 555.0 156.7 553.7 155.0ZM640.0 171.0 641.0 170.0 643.0 170.1 645.0 170.4 645.7 171.0 647.0 172.7 647.1 173.0 647.2 175.0 647.0 176.2 646.5 177.0 645.0 177.8 643.0 177.8 641.0 177.0 641.0 177.0 640.2 175.0 640.0 173.0 640.0 171.0ZM551.8 173.0 553.0 171.5 555.0 171.0 557.0 171.6 558.4 173.0 559.0 175.0 558.6 177.0 557.0 178.6 555.0 178.9 553.0 178.2 552.1 177.0 551.6 175.0 551.8 173.0ZM672.7 221.0 673.0 220.8 675.0 220.2 677.0 220.0 679.0 220.0 681.0 220.0 683.0 220.0 685.0 220.1 687.0 220.3 689.0 220.8 689.6 221.0 691.0 221.4 693.0 221.7 695.0 221.9 697.0 222.4 698.3 223.0 699.0 223.8 699.8 225.0 700.4 227.0 701.0 228.1 702.0 229.0 703.0 229.6 705.0 230.0 707.0 230.3 709.0 230.8 709.6 231.0 711.0 231.4 713.0 231.7 715.0 231.9 717.0 232.4 718.3 233.0 719.0 233.8 719.8 235.0 721.0 237.0 721.0 237.0 723.0 237.9 725.0 238.0 727.0 237.8 728.6 237.0 729.0 236.7 730.2 235.0 731.0 234.1 732.6 233.0 733.0 232.9 735.0 232.6 737.0 232.6 739.0 232.6 741.0 232.6 743.0 232.6 745.0 232.6 747.0 232.6 755.0 232.6 755.0 233.0 755.0 235.0 755.0 237.0 755.0 239.0 755.0 241.0 755.0 243.0 755.0 245.0 755.0 247.0 755.0 249.0 755.0 251.0 755.0 253.0 755.0 255.0 755.0 257.0 755.0 259.0 755.0 261.0 755.0 263.0 755.0 265.0 755.0 267.0 755.0 269.0 755.0 271.0 755.0 273.0 755.0 275.0 755.0 277.0 755.0 279.0 755.0 281.0 755.0 283.0 755.0 285.0 755.0 287.0 755.0 289.0 755.0 291.0 755.0 293.0 755.0 295.0 755.0 297.0 755.0 298.2 747.0 298.1 745.0 298.0 743.0 297.3 742.7 297.0 741.9 295.0 741.2 293.0 741.0 292.8 739.9 291.0 739.0 290.1 737.2 289.0 737.0 288.8 735.0 288.3 733.0 288.2 731.0 288.2 729.0 288.2 727.0 288.1 725.0 288.0 723.0 287.3 722.7 287.0 722.0 285.0 721.6 283.0 721.0 281.6 720.8 281.0 719.0 279.2 718.4 279.0 717.0 278.4 715.0 278.1 713.0 277.7 711.4 277.0 711.0 276.5 710.2 275.0 709.6 273.0 709.0 272.0 708.0 271.0 707.0 270.4 705.0 270.0 703.0 269.6 702.0 269.0 701.0 268.0 700.4 267.0 700.1 265.0 700.0 263.0 700.0 261.0 700.0 259.0 700.0 257.0 699.9 255.0 699.6 253.0 699.0 252.0 698.0 251.0 697.0 250.4 695.0 250.1 693.0 250.0 691.0 250.0 689.0 250.0 687.0 250.0 685.0 250.0 683.0 250.0 681.0 250.0 680.0 249.0 680.0 247.0 680.0 245.0 680.0 243.0 680.0 241.0 680.0 239.0 680.0 237.0 679.9 235.0 679.6 233.0 679.0 232.0 678.0 231.0 677.0 230.4 675.0 230.1 673.0 230.0 671.0 230.0 670.0 229.0 670.0 227.0 670.2 225.0 670.8 223.0 671.0 222.7 672.7 221.0ZM662.0 251.0 663.0 250.4 665.0 250.1 667.0 250.0 669.0 250.0 671.0 250.0 673.0 250.0 675.0 250.0 677.0 250.0 679.0 250.0 680.0 251.0 680.0 253.0 679.9 255.0 679.6 257.0 679.0 258.0 678.0 259.0 677.0 259.6 675.0 259.9 673.0 260.0 671.0 260.0 669.0 260.0 667.0 260.0 665.0 260.0 663.0 260.0 661.0 260.0 660.0 259.0 660.0 257.0 660.1 255.0 660.4 253.0 661.0 252.0 662.0 251.0ZM652.0 261.0 653.0 260.4 655.0 260.1 657.0 260.0 659.0 260.0 660.0 261.0 660.0 263.0 659.8 265.0 659.2 267.0 659.0 267.3 657.3 269.0 657.0 269.2 655.0 269.8 653.0 269.5 652.0 269.0 651.0 268.0 650.4 267.0 650.2 265.0 650.4 263.0 651.0 262.0 652.0 261.0ZM630.0 281.0 631.0 280.0 633.0 280.0 635.0 280.2 637.0 281.0 637.0 281.0 637.8 283.0 637.9 285.0 637.3 287.0 637.0 287.3 635.0 287.9 633.0 287.7 631.4 287.0 631.0 286.4 630.3 285.0 630.0 283.0 630.0 281.0ZM652.5 343.0 653.0 342.5 655.0 342.0 657.0 341.9 659.0 341.8 661.0 341.8 663.0 341.9 665.0 342.0 667.0 342.7 667.3 343.0 668.0 345.0 668.4 347.0 669.0 348.4 669.2 349.0 671.0 350.8 671.6 351.0 673.0 351.6 675.0 352.0 677.0 352.7 677.3 353.0 678.0 355.0 678.4 357.0 679.0 358.4 679.2 359.0 681.0 360.8 681.6 361.0 683.0 361.6 685.0 361.8 687.0 361.8 689.0 361.8 691.0 361.8 693.0 361.9 695.0 362.0 697.0 362.7 697.3 363.0 698.0 365.0 698.4 367.0 699.0 368.4 699.2 369.0 701.0 370.8 701.6 371.0 703.0 371.6 705.0 371.8 707.0 371.8 709.0 371.8 711.0 371.8 713.0 371.9 715.0 372.0 717.0 372.7 717.3 373.0 718.0 375.0 718.4 377.0 719.0 378.4 719.2 379.0 721.0 380.8 721.6 381.0 723.0 381.6 725.0 381.8 727.0 381.8 729.0 381.8 731.0 381.8 733.0 381.9 735.0 382.0 737.0 382.7 737.3 383.0 738.0 385.0 738.4 387.0 739.0 388.4 739.2 389.0 741.0 390.8 741.6 391.0 743.0 391.6 745.0 391.8 747.0 391.8 755.0 391.8 755.0 393.0 755.0 395.0 755.0 397.0 755.0 405.0 747.0 405.0 745.0 405.0 743.0 405.0 741.0 405.0 739.0 405.0 737.0 405.0 735.0 405.0 733.0 405.0 731.0 405.0 729.0 405.0 727.0 405.0 725.0 405.0 723.0 405.0 721.0 405.0 719.0 405.0 717.0 405.0 715.0 405.0 713.0 405.0 711.0 405.0 709.0 405.0 707.0 405.0 705.0 405.0 703.0 405.0 701.0 405.0 699.0 405.0 697.0 405.0 695.0 405.0 693.0 405.0 691.0 405.0 690.0 405.0 690.0 397.0 689.9 395.0 689.6 393.0 689.0 392.0 688.1 391.0 687.0 390.4 685.0 389.8 683.5 389.0 683.0 388.7 681.3 387.0 681.0 386.5 680.2 385.0 679.6 383.0 679.0 381.9 678.0 381.0 677.0 380.4 675.0 380.0 673.0 379.6 672.0 379.0 671.0 378.0 670.4 377.0 670.0 375.0 669.6 373.0 669.0 372.0 668.0 371.0 667.0 370.4 665.0 370.0 663.0 369.6 662.0 369.0 661.0 368.0 660.4 367.0 660.0 365.0 659.6 363.0 659.0 362.0 658.0 361.0 657.0 360.4 655.0 360.1 653.0 360.0 651.0 360.0 649.0 360.0 647.0 360.0 645.0 359.9 643.0 359.6 642.0 359.0 641.0 358.0 640.5 357.0 640.2 355.0 640.6 353.0 641.0 352.7 643.0 352.0 645.0 351.8 647.0 351.6 648.4 351.0 649.0 350.8 650.8 349.0 651.0 348.4 651.6 347.0 651.9 345.0 652.5 343.0Z"/><path fill="#00eeff" d="M185.0 135.0 193.0 135.0 195.0 135.0 197.0 135.0 199.0 135.0 201.0 135.0 203.0 135.0 205.0 135.0 207.0 135.0 209.0 135.0 211.0 135.0 213.0 135.0 215.0 135.0 217.0 135.0 219.0 135.0 221.0 135.0 223.0 135.0 225.0 135.0 227.0 135.0 229.0 135.0 231.0 135.0 233.0 135.0 235.0 135.0 237.0 135.0 239.0 135.0 241.0 135.0 243.0 135.0 245.0 135.0 247.0 135.0 249.0 135.0 251.0 135.0 253.0 135.0 255.0 135.0 257.0 135.0 259.0 135.0 261.0 135.0 263.0 135.0 265.0 135.0 267.0 135.0 269.0 135.0 271.0 135.0 273.0 135.0 275.0 135.0 277.0 135.0 279.0 135.0 281.0 135.0 283.0 135.0 285.0 135.0 287.0 135.0 289.0 135.0 291.0 135.0 293.0 135.0 295.0 135.0 297.0 135.0 299.0 135.0 301.0 135.0 303.0 135.0 305.0 135.0 307.0 135.0 309.0 135.0 311.0 135.0 313.0 135.0 315.0 135.0 317.0 135.0 319.0 135.0 321.0 135.0 323.0 135.0 325.0 135.0 327.0 135.0 329.0 135.0 331.0 135.0 333.0 135.0 335.0 135.0 337.0 135.0 339.0 135.0 341.0 135.0 343.0 135.0 345.0 135.0 347.0 135.0 349.0 135.0 351.0 135.0 353.0 135.0 355.0 135.0 357.0 135.0 359.0 135.0 361.0 135.0 363.0 135.0 365.0 135.0 367.0 135.0 369.0 135.0 371.0 135.0 373.0 135.0 375.0 135.0 377.0 135.0 379.0 135.0 381.0 135.0 383.0 135.0 385.0 135.0 387.0 135.0 389.0 135.0 391.0 135.0 393.0 135.0 395.0 135.0 397.0 135.0 399.0 135.0 401.0 135.0 403.0 135.0 405.0 135.0 407.0 135.0 409.0 135.0 411.0 135.0 413.0 135.0 415.0 135.0 417.0 135.0 419.0 135.0 421.0 135.0 423.0 135.0 425.0 135.0 427.0 135.0 429.0 135.0 431.0 135.0 433.0 135.0 435.0 135.0 437.0 135.0 439.0 135.0 441.0 135.0 443.0 135.0 445.0 135.0 447.0 135.0 449.0 135.0 451.0 135.0 453.0 135.0 455.0 135.0 457.0 135.0 459.0 135.0 461.0 135.0 463.0 135.0 465.0 135.0 467.0 135.0 469.0 135.0 471.0 135.0 473.0 135.0 475.0 135.0 477.0 135.0 479.0 135.0 481.0 135.0 483.0 135.0 485.0 135.0 487.0 135.0 489.0 135.0 491.0 135.0 493.0 135.0 495.0 135.0 497.0 135.0 499.0 135.0 501.0 135.0 503.0 135.0 505.0 135.0 507.0 135.0 508.2 135.0 508.2 143.0 508.2 145.0 508.3 147.0 508.5 149.0 509.0 150.2 509.4 151.0 511.0 152.5 512.8 153.0 513.0 153.1 515.0 153.8 516.2 155.0 516.8 157.0 517.0 157.8 517.2 159.0 517.8 161.0 518.9 163.0 519.0 163.1 519.8 165.0 520.4 167.0 521.0 168.1 521.9 169.0 523.0 169.6 525.0 170.3 525.6 171.0 526.3 173.0 526.1 175.0 525.0 176.1 523.0 176.5 521.0 176.6 519.0 176.6 517.0 176.6 515.0 176.7 513.3 177.0 513.0 177.0 511.0 177.4 509.0 177.8 507.0 178.0 505.0 178.2 503.0 178.4 501.6 179.0 501.0 179.2 499.2 181.0 499.0 181.6 498.4 183.0 498.2 185.0 498.2 187.0 498.2 189.0 498.2 191.0 498.2 193.0 498.2 195.0 498.3 197.0 498.8 199.0 499.0 199.4 500.6 201.0 501.0 201.2 503.0 201.7 505.0 202.0 507.0 202.7 507.3 203.0 508.0 205.0 508.2 207.0 508.5 209.0 509.0 210.2 509.4 211.0 511.0 212.5 512.9 213.0 513.0 213.0 515.0 213.4 517.0 213.8 519.0 214.8 519.3 215.0 520.3 217.0 521.0 218.1 522.0 219.0 523.0 219.6 525.0 220.0 527.0 220.4 528.0 221.0 529.0 222.0 529.6 223.0 529.9 225.0 530.0 227.0 530.0 229.0 530.0 231.0 529.9 233.0 529.4 235.0 529.0 235.4 527.0 236.6 525.4 237.0 525.0 237.0 523.0 237.2 521.0 237.6 519.1 239.0 519.0 239.1 517.6 241.0 517.2 243.0 517.1 245.0 517.2 247.0 517.6 249.0 519.0 250.9 519.1 251.0 521.0 252.4 523.0 252.8 525.0 252.9 527.0 252.9 529.0 252.9 531.0 252.9 533.0 252.9 535.0 252.9 537.0 252.9 539.0 252.9 541.0 253.0 543.0 253.0 545.0 252.9 547.0 252.9 549.0 252.6 551.0 251.9 552.7 251.0 553.0 250.8 555.0 250.2 557.0 249.6 558.1 249.0 559.0 248.0 559.6 247.0 559.9 245.0 560.0 243.0 560.0 241.0 561.0 240.0 563.0 240.0 565.0 240.0 567.0 240.0 569.0 240.0 571.0 240.0 573.0 240.0 575.0 239.8 577.0 239.2 577.3 239.0 579.0 237.3 579.2 237.0 579.9 235.0 580.3 233.0 580.8 231.0 581.0 230.4 581.4 229.0 581.7 227.0 581.9 225.0 582.3 223.0 583.0 221.4 583.5 221.0 585.0 220.2 587.0 219.6 588.0 219.0 589.0 218.0 589.6 217.0 589.9 215.0 590.0 213.0 590.0 211.0 590.0 209.0 590.0 207.0 590.0 205.0 590.0 203.0 590.0 201.0 590.0 199.0 590.0 197.0 589.9 195.0 589.6 193.0 589.0 192.0 588.1 191.0 587.0 190.4 585.0 189.7 584.2 189.0 583.0 187.3 582.9 187.0 582.8 185.0 583.0 184.5 584.4 183.0 585.0 182.8 587.0 182.6 589.0 182.6 591.0 182.6 593.0 182.6 595.0 182.6 597.0 182.5 599.0 182.4 601.0 182.2 603.0 182.0 605.0 181.9 607.0 181.8 609.0 181.8 611.0 181.8 613.0 181.9 615.0 181.9 617.0 182.3 618.6 183.0 619.0 183.5 619.8 185.0 620.0 187.0 620.0 189.0 620.0 191.0 620.0 193.0 620.2 195.0 621.0 197.0 621.0 197.0 623.0 197.9 625.0 198.1 627.0 198.3 629.0 198.6 630.4 199.0 631.0 199.2 633.0 199.7 635.0 200.1 637.0 200.8 637.3 201.0 639.0 202.7 639.2 203.0 639.9 205.0 640.4 207.0 641.0 208.0 641.9 209.0 643.0 209.6 645.0 210.2 646.9 211.0 647.0 211.0 648.9 213.0 649.0 213.2 649.6 215.0 649.2 217.0 649.0 217.3 647.3 219.0 647.0 219.2 645.0 219.8 643.0 220.0 641.0 220.0 639.0 220.0 637.0 220.0 635.0 220.1 633.0 220.4 632.0 221.0 631.0 222.0 630.4 223.0 630.1 225.0 630.0 227.0 630.0 229.0 630.0 231.0 630.0 233.0 629.9 235.0 629.6 237.0 629.0 238.0 628.0 239.0 627.0 239.6 625.0 240.0 623.0 240.4 622.0 241.0 621.0 242.0 620.4 243.0 620.0 245.0 619.6 247.0 619.0 248.0 618.0 249.0 617.0 249.6 615.0 250.0 613.0 250.4 612.0 251.0 611.0 252.0 610.4 253.0 610.0 255.0 609.6 257.0 609.0 258.0 608.0 259.0 607.0 259.6 605.0 260.0 603.0 260.4 602.0 261.0 601.0 262.0 600.4 263.0 599.9 265.0 599.0 267.0 599.0 267.0 597.0 267.9 595.0 268.2 593.0 268.4 591.6 269.0 591.0 269.2 589.2 271.0 589.0 271.6 588.5 273.0 588.3 275.0 588.5 277.0 589.0 278.4 589.2 279.0 591.0 280.8 591.6 281.0 593.0 281.6 595.0 281.8 597.0 282.1 599.0 283.0 599.0 283.0 599.9 285.0 600.4 287.0 601.0 288.0 602.0 289.0 603.0 289.6 605.0 290.2 606.5 291.0 607.0 291.4 607.7 293.0 607.9 295.0 607.3 297.0 607.0 297.3 605.0 298.0 603.0 298.4 601.6 299.0 601.0 299.2 599.2 301.0 599.0 301.6 598.4 303.0 598.2 305.0 598.2 307.0 598.1 309.0 598.1 311.0 598.1 313.0 598.1 315.0 598.1 317.0 598.2 319.0 598.2 321.0 598.2 323.0 598.2 325.0 598.4 327.0 599.0 328.4 599.2 329.0 601.0 330.8 601.6 331.0 603.0 331.5 605.0 331.7 607.0 331.5 608.4 331.0 609.0 330.8 610.8 329.0 611.0 328.4 611.6 327.0 611.9 325.0 612.3 323.0 613.0 321.4 613.5 321.0 615.0 320.2 617.0 320.0 619.0 320.0 621.0 320.0 623.0 320.0 625.0 320.2 627.0 321.0 627.0 321.0 627.9 323.0 628.2 325.0 628.4 327.0 629.0 328.4 629.2 329.0 631.0 330.8 631.6 331.0 633.0 331.6 635.0 331.9 637.0 332.1 638.9 333.0 639.0 333.1 639.6 335.0 639.0 336.8 638.9 337.0 637.0 339.0 636.9 339.0 635.0 339.8 633.0 340.4 631.9 341.0 631.0 342.0 630.4 343.0 630.0 345.0 629.7 347.0 629.2 349.0 629.0 349.6 628.6 351.0 628.3 353.0 628.1 355.0 627.8 357.0 627.0 358.6 626.6 359.0 625.0 359.9 623.0 360.7 622.7 361.0 621.0 362.6 620.7 363.0 619.7 365.0 619.0 365.7 617.3 367.0 617.0 367.1 615.0 367.4 613.0 367.8 611.0 368.4 609.7 369.0 609.0 369.2 607.0 369.7 605.0 369.9 603.0 370.0 601.0 370.0 599.0 370.0 597.0 370.0 595.0 369.9 593.0 369.6 592.0 369.0 591.0 368.0 590.4 367.0 590.1 365.0 590.0 363.0 590.0 361.0 590.0 359.0 590.0 357.0 590.0 355.0 590.0 353.0 590.0 351.0 590.0 349.0 590.0 347.0 590.1 345.0 590.3 343.0 590.8 341.0 591.0 340.4 591.4 339.0 591.7 337.0 591.8 335.0 591.5 333.0 591.0 331.6 590.8 331.0 589.0 329.2 588.4 329.0 587.0 328.4 585.0 328.1 583.0 327.5 582.5 327.0 582.0 325.0 582.2 323.0 583.0 321.0 583.0 321.0 585.0 320.1 587.0 319.6 588.0 319.0 589.0 318.0 589.6 317.0 589.9 315.0 590.0 313.0 590.0 311.0 590.0 309.0 590.0 307.0 589.9 305.0 589.6 303.0 589.0 302.0 588.0 301.0 587.0 300.4 585.0 300.1 583.0 300.0 581.0 300.0 580.0 301.0 580.0 303.0 579.9 305.0 579.6 307.0 579.0 308.0 578.0 309.0 577.0 309.6 575.0 309.9 573.0 310.0 571.0 310.0 569.0 310.0 567.0 310.0 565.0 309.8 563.0 309.2 562.7 309.0 561.0 307.3 560.8 307.0 560.2 305.0 560.0 303.0 560.0 301.0 561.0 300.0 563.0 300.0 565.0 300.0 567.0 300.0 569.0 300.0 571.0 300.0 573.0 300.0 575.0 300.0 577.0 300.0 579.0 300.0 580.0 299.0 580.0 297.0 580.0 295.0 580.0 293.0 580.0 291.0 580.0 289.0 580.0 287.0 580.0 285.0 580.0 283.0 580.0 281.0 580.0 279.0 580.0 277.0 580.0 275.0 580.0 273.0 580.0 271.0 580.0 269.0 580.0 267.0 579.8 265.0 579.2 263.0 579.0 262.7 577.3 261.0 577.0 260.7 575.0 260.0 573.0 259.4 572.1 259.0 571.0 258.6 569.0 257.9 567.0 257.6 565.0 257.5 563.0 257.6 561.0 258.2 559.9 259.0 559.0 259.9 558.2 261.0 557.6 263.0 557.5 265.0 557.5 267.0 557.8 269.0 558.5 271.0 559.0 272.1 559.4 273.0 559.9 275.0 560.4 277.0 561.0 278.0 562.0 279.0 563.0 279.6 565.0 280.0 567.0 280.4 568.0 281.0 569.0 282.0 569.6 283.0 569.8 285.0 569.6 287.0 569.0 288.0 568.0 289.0 567.0 289.6 565.0 290.0 563.0 290.4 562.0 291.0 561.0 292.0 560.4 293.0 560.1 295.0 560.0 297.0 560.0 299.0 559.0 300.0 557.0 300.0 555.0 300.0 553.0 300.0 551.0 300.0 549.0 300.0 547.0 300.0 545.0 300.1 543.0 300.4 542.0 301.0 541.0 302.0 540.4 303.0 540.1 305.0 540.0 307.0 540.0 309.0 540.0 311.0 540.0 313.0 540.0 315.0 540.0 317.0 540.0 319.0 540.0 321.0 540.0 323.0 539.9 325.0 539.6 327.0 539.0 328.0 538.0 329.0 537.0 329.6 535.0 329.9 533.0 330.0 531.0 330.0 530.0 331.0 530.0 333.0 530.0 335.0 530.0 337.0 530.0 339.0 530.0 341.0 530.0 343.0 529.8 345.0 529.0 347.0 529.0 347.0 527.0 347.8 525.0 347.9 523.0 347.2 522.8 347.0 522.0 345.0 521.6 343.0 521.0 341.6 520.8 341.0 519.0 339.2 518.4 339.0 517.0 338.4 515.0 338.2 513.0 338.2 511.0 338.2 509.0 338.2 507.0 338.2 505.0 338.2 503.0 338.3 501.0 338.6 499.6 339.0 499.0 339.2 497.0 339.6 495.0 339.7 493.1 339.0 493.0 338.9 491.1 337.0 491.0 336.8 490.4 335.0 490.8 333.0 491.0 332.7 492.7 331.0 493.0 330.8 495.0 330.1 497.0 329.6 498.0 329.0 499.0 328.0 499.6 327.0 499.9 325.0 500.0 323.0 500.0 321.0 499.0 320.0 497.0 320.0 495.0 319.9 493.0 319.7 491.0 319.2 490.4 319.0 489.0 318.6 487.0 318.3 485.0 318.1 483.0 317.6 481.7 317.0 481.0 316.1 480.3 315.0 480.0 313.0 480.0 311.0 480.0 309.0 480.0 307.0 479.8 305.0 479.0 303.5 478.6 303.0 477.0 302.3 475.0 302.1 473.0 302.7 472.7 303.0 471.9 305.0 471.4 307.0 471.0 307.6 469.9 309.0 469.0 309.4 467.0 309.9 465.0 310.0 463.0 310.3 461.0 311.0 461.0 311.0 459.0 313.0 459.0 313.1 458.3 315.0 458.0 317.0 457.4 319.0 457.0 319.4 455.0 319.8 453.0 319.6 451.0 319.2 450.4 319.0 449.0 318.6 447.0 318.3 445.0 318.1 443.0 317.9 441.0 317.0 441.0 317.0 440.2 315.0 440.0 313.0 440.0 311.0 440.0 309.0 440.0 307.0 439.9 305.0 439.6 303.0 439.0 302.0 438.0 301.0 437.0 300.4 435.0 300.1 433.0 300.0 431.0 300.0 429.0 300.0 427.0 300.0 425.0 299.9 423.0 299.6 422.0 299.0 421.0 298.0 420.4 297.0 420.1 295.0 420.0 293.0 420.0 291.0 421.0 290.0 423.0 290.0 425.0 289.9 427.0 289.6 428.0 289.0 429.0 288.0 429.6 287.0 430.1 285.0 430.8 283.0 431.0 282.7 432.7 281.0 433.0 280.8 435.0 280.2 437.0 280.5 438.0 281.0 439.0 282.0 439.6 283.0 440.0 285.0 440.4 287.0 441.0 288.0 442.0 289.0 443.0 289.5 445.0 289.7 446.4 289.0 447.0 288.6 447.7 287.0 448.1 285.0 448.6 283.0 449.0 282.4 450.1 281.0 451.0 280.6 453.0 280.1 455.0 280.0 457.0 279.9 459.0 279.6 461.0 279.1 461.4 279.0 463.0 278.5 465.0 278.2 467.0 277.8 468.6 277.0 469.0 276.6 469.9 275.0 470.7 273.0 471.0 272.7 472.7 271.0 473.0 270.7 475.0 269.9 476.6 269.0 477.0 268.6 477.8 267.0 478.1 265.0 478.3 263.0 478.6 261.0 479.0 259.6 479.2 259.0 479.7 257.0 479.9 255.0 480.0 253.0 480.0 251.0 480.0 249.0 480.0 247.0 479.9 245.0 479.6 243.0 479.0 242.0 478.0 241.0 477.0 240.4 475.0 240.0 473.0 239.7 471.0 239.2 470.4 239.0 469.0 238.6 467.0 238.3 465.0 238.1 463.0 237.7 461.4 237.0 461.0 236.5 460.2 235.0 459.6 233.0 459.0 232.0 458.0 231.0 457.0 230.4 455.0 230.0 453.0 229.6 452.0 229.0 451.0 228.0 450.4 227.0 450.0 225.0 449.6 223.0 449.0 222.0 448.0 221.0 447.0 220.4 445.0 220.0 443.0 219.7 441.0 219.2 440.4 219.0 439.0 218.6 437.0 218.3 435.0 218.2 433.0 218.3 431.0 218.6 429.6 219.0 429.0 219.2 427.0 219.7 425.0 219.9 423.0 220.0 421.0 220.0 419.0 220.0 417.0 220.0 415.0 220.1 413.0 220.4 412.0 221.0 411.0 222.0 410.4 223.0 409.9 225.0 409.2 227.0 409.0 227.3 407.3 229.0 407.0 229.2 405.0 229.8 403.0 229.5 402.0 229.0 401.0 228.0 400.4 227.0 400.0 225.0 399.6 223.0 399.0 222.0 398.0 221.0 397.0 220.4 395.0 220.0 393.0 219.6 392.0 219.0 391.0 218.0 390.4 217.0 390.2 215.0 390.4 213.0 391.0 212.0 392.0 211.0 393.0 210.4 395.0 210.0 397.0 209.6 398.0 209.0 399.0 208.0 399.6 207.0 399.9 205.0 400.0 203.0 400.0 201.0 399.0 200.0 397.0 200.0 395.0 200.0 393.0 200.0 391.0 200.0 389.0 200.0 387.0 200.0 385.0 200.1 383.0 200.4 382.0 201.0 381.0 202.0 380.4 203.0 380.0 205.0 379.6 207.0 379.0 208.0 378.0 209.0 377.0 209.6 375.0 210.0 373.0 210.4 372.0 211.0 371.0 212.0 370.4 213.0 370.1 215.0 370.0 217.0 370.0 219.0 370.0 221.0 370.0 223.0 369.9 225.0 369.6 227.0 369.0 228.0 368.0 229.0 367.0 229.6 365.0 229.9 363.0 230.0 361.0 230.0 360.0 231.0 360.0 233.0 359.9 235.0 359.6 237.0 359.0 238.0 358.0 239.0 357.0 239.6 355.0 240.0 353.0 240.4 352.0 241.0 351.0 241.9 350.4 243.0 349.8 245.0 349.0 246.9 349.0 247.0 347.0 249.0 346.9 249.0 345.0 249.8 343.0 250.4 341.9 251.0 341.0 252.0 340.4 253.0 340.1 255.0 340.0 257.0 340.0 259.0 339.0 260.0 337.0 260.0 335.0 259.8 333.0 259.2 332.7 259.0 331.0 257.3 330.8 257.0 330.1 255.0 329.6 253.0 329.0 252.0 328.0 251.0 327.0 250.4 325.0 249.9 323.0 249.0 323.0 249.0 322.1 247.0 322.0 245.0 322.1 243.0 323.0 241.0 323.0 241.0 325.0 240.1 327.0 239.6 328.0 239.0 329.0 238.0 329.6 237.0 329.8 235.0 329.6 233.0 329.0 232.0 328.0 231.0 327.0 230.4 325.0 230.0 323.0 229.6 322.0 229.0 321.0 228.0 320.4 227.0 320.0 225.0 319.6 223.0 319.0 222.0 318.0 221.0 317.0 220.4 315.0 220.0 313.0 219.6 312.0 219.0 311.0 218.0 310.4 217.0 310.1 215.0 310.0 213.0 310.0 211.0 310.0 209.0 310.0 207.0 310.0 205.0 310.0 203.0 310.0 201.0 311.0 200.0 313.0 200.0 315.0 200.1 317.0 200.3 319.0 200.8 319.6 201.0 321.0 201.4 323.0 201.7 325.0 201.9 327.0 202.3 328.6 203.0 329.0 203.5 329.8 205.0 330.4 207.0 331.0 208.0 332.0 209.0 333.0 209.6 335.0 209.8 337.0 209.6 339.0 209.2 339.6 209.0 341.0 208.6 343.0 208.3 345.0 208.1 347.0 207.8 348.6 207.0 349.0 206.6 349.9 205.0 350.7 203.0 351.0 202.7 352.7 201.0 353.0 200.8 355.0 200.1 357.0 199.6 358.0 199.0 359.0 198.0 359.6 197.0 360.0 195.0 360.4 193.0 361.0 192.0 362.0 191.0 363.0 190.4 365.0 190.0 367.0 189.6 368.0 189.0 369.0 188.0 369.5 187.0 369.8 185.0 369.2 183.0 369.0 182.7 367.3 181.0 367.0 180.8 365.0 180.1 363.0 179.6 362.0 179.0 361.0 178.0 360.4 177.0 360.0 175.0 359.6 173.0 359.0 172.0 358.0 171.0 357.0 170.4 355.0 170.1 353.0 170.0 351.0 170.0 349.0 170.0 347.0 170.0 345.0 170.2 343.0 170.8 342.7 171.0 341.0 172.7 340.8 173.0 340.2 175.0 340.0 177.0 340.0 179.0 340.0 181.0 340.0 183.0 339.8 185.0 339.0 186.5 338.6 187.0 337.0 187.7 335.0 188.0 333.0 187.7 331.4 187.0 331.0 186.5 330.2 185.0 329.6 183.0 329.0 182.0 328.0 181.0 327.0 180.4 325.0 180.1 323.0 180.0 321.0 180.0 319.0 180.0 317.0 180.0 315.0 180.0 313.0 180.0 311.0 180.0 309.0 180.0 307.0 180.0 305.0 180.0 303.0 180.0 301.0 180.0 299.0 180.0 297.0 180.0 295.0 180.0 293.0 180.0 291.0 180.0 290.0 181.0 290.0 183.0 290.1 185.0 290.4 187.0 291.0 188.0 292.0 189.0 293.0 189.6 295.0 189.9 297.0 190.0 299.0 190.0 301.0 190.0 303.0 190.0 305.0 190.1 307.0 190.4 308.0 191.0 309.0 192.0 309.6 193.0 309.9 195.0 310.0 197.0 310.0 199.0 309.0 200.0 307.0 200.0 305.0 200.0 303.0 200.0 301.0 200.0 299.0 200.0 297.0 200.0 295.0 200.1 293.0 200.4 292.0 201.0 291.0 202.0 290.4 203.0 290.0 205.0 289.6 207.0 289.0 208.0 288.0 209.0 287.0 209.6 285.0 209.8 283.0 209.6 282.0 209.0 281.0 208.0 280.4 207.0 279.9 205.0 279.0 203.0 279.0 203.0 277.0 202.1 275.0 201.9 273.0 201.7 271.0 201.4 269.6 201.0 269.0 200.8 267.0 200.4 265.0 200.2 263.0 200.4 262.0 201.0 261.0 202.0 260.4 203.0 260.2 205.0 260.4 207.0 261.0 208.0 262.0 209.0 263.0 209.6 265.0 210.0 267.0 210.4 268.0 211.0 269.0 212.0 269.6 213.0 270.2 215.0 271.0 216.5 271.4 217.0 273.0 217.7 275.0 218.1 277.0 218.3 279.0 218.6 280.4 219.0 281.0 219.2 283.0 219.7 285.0 219.9 287.0 220.0 289.0 220.0 291.0 220.0 293.0 220.0 295.0 220.1 297.0 220.4 298.0 221.0 299.0 222.0 299.6 223.0 300.0 225.0 300.4 227.0 301.0 228.0 302.0 229.0 303.0 229.6 305.0 230.0 307.0 230.4 308.0 231.0 309.0 232.0 309.5 233.0 309.8 235.0 309.2 237.0 309.0 237.3 307.3 239.0 307.0 239.2 305.0 239.8 303.0 240.0 301.0 240.0 299.0 240.0 297.0 240.0 295.0 240.1 293.0 240.4 292.0 241.0 291.0 242.0 290.4 243.0 290.0 245.0 289.6 247.0 289.0 248.0 288.0 249.0 287.0 249.6 285.0 250.0 283.0 250.4 282.0 251.0 281.0 252.0 280.4 253.0 280.2 255.0 280.4 257.0 281.0 258.0 282.0 259.0 283.0 259.6 285.0 260.0 287.0 260.4 288.0 261.0 289.0 262.0 289.6 263.0 289.9 265.0 290.0 267.0 290.0 269.0 290.0 271.0 290.0 273.0 289.8 275.0 289.2 277.0 289.0 277.3 287.3 279.0 287.0 279.2 285.0 279.8 283.0 280.0 281.0 280.0 279.0 280.0 277.0 280.0 275.0 280.0 273.0 280.0 271.0 280.0 269.0 280.0 267.0 280.0 265.0 280.1 263.0 280.4 262.0 281.0 261.0 282.0 260.4 283.0 260.0 285.0 259.6 287.0 259.0 288.0 258.0 289.0 257.0 289.6 255.0 289.9 253.0 290.0 251.0 290.0 249.0 290.0 247.0 290.0 245.0 290.1 243.0 290.4 242.0 291.0 241.0 292.0 240.4 293.0 240.0 295.0 239.6 297.0 239.0 298.0 238.0 299.0 237.0 299.6 235.0 299.9 233.0 300.0 231.0 300.0 229.0 300.0 227.0 300.0 225.0 300.1 223.0 300.4 222.0 301.0 221.0 302.0 220.4 303.0 220.0 305.0 219.6 307.0 219.0 308.0 218.0 309.0 217.0 309.6 215.0 310.0 213.0 310.4 212.0 311.0 211.0 312.0 210.4 313.0 210.0 315.0 209.6 317.0 209.0 318.0 208.0 319.0 207.0 319.6 205.0 319.9 203.0 320.0 201.0 320.0 199.0 320.0 197.0 320.0 195.0 320.0 193.0 320.0 185.0 320.0 185.0 319.0 185.0 317.0 185.0 315.0 185.0 313.0 185.0 311.0 185.0 309.0 185.0 307.0 185.0 305.0 185.0 303.0 185.0 301.8 193.0 301.8 195.0 301.8 197.0 301.6 198.4 301.0 199.0 300.8 200.8 299.0 201.0 298.4 201.6 297.0 202.0 295.0 202.7 293.0 203.0 292.7 205.0 292.0 207.0 291.6 208.4 291.0 209.0 290.8 210.8 289.0 211.0 288.4 211.6 287.0 211.8 285.0 211.8 283.0 211.8 281.0 211.8 279.0 211.9 277.0 212.0 275.0 212.7 273.0 213.0 272.7 215.0 272.0 217.0 271.6 218.4 271.0 219.0 270.8 220.8 269.0 221.0 268.4 221.6 267.0 221.8 265.0 221.8 263.0 221.8 261.0 221.8 259.0 221.9 257.0 222.0 255.0 222.7 253.0 223.0 252.7 225.0 252.0 227.0 251.6 228.4 251.0 229.0 250.8 230.8 249.0 231.0 248.4 231.6 247.0 231.9 245.0 232.3 243.0 233.0 241.4 233.5 241.0 235.0 240.2 237.0 239.6 238.0 239.0 239.0 238.0 239.6 237.0 239.9 235.0 240.0 233.0 240.0 231.0 240.0 229.0 240.0 227.0 240.1 225.0 240.3 223.0 240.8 221.0 241.0 220.4 241.4 219.0 241.7 217.0 241.8 215.0 241.8 213.0 241.8 211.0 241.8 209.0 241.8 207.0 241.8 205.0 241.6 203.0 241.0 201.6 240.8 201.0 239.0 199.2 238.4 199.0 237.0 198.5 235.0 198.2 233.0 198.2 231.0 198.2 229.0 198.2 227.0 198.2 225.0 198.2 223.0 198.2 221.0 198.2 219.0 198.2 217.0 198.2 215.0 198.2 213.0 198.3 211.0 198.6 209.6 199.0 209.0 199.2 207.0 199.7 205.0 200.0 203.0 200.4 202.0 201.0 201.0 202.0 200.4 203.0 200.1 205.0 200.0 207.0 200.0 209.0 200.0 211.0 200.0 213.0 199.9 215.0 199.7 217.0 199.2 219.0 199.0 219.6 198.6 221.0 198.3 223.0 198.0 225.0 197.3 227.0 197.0 227.3 195.0 228.0 193.0 228.1 185.0 228.2 185.0 227.0 185.0 225.0 185.0 223.0 185.0 221.0 185.0 219.0 185.0 217.0 185.0 215.0 185.0 213.0 185.0 211.0 185.0 209.0 185.0 207.0 185.0 205.0 185.0 203.0 185.0 201.0 185.0 199.0 185.0 197.0 185.0 195.0 185.0 193.0 185.0 191.0 185.0 189.0 185.0 187.0 185.0 185.0 185.0 183.0 185.0 181.0 185.0 179.0 185.0 177.0 185.0 175.0 185.0 173.0 185.0 171.0 185.0 169.0 185.0 167.0 185.0 165.0 185.0 163.0 185.0 161.0 185.0 159.0 185.0 157.0 185.0 155.0 185.0 153.0 185.0 151.0 185.0 149.0 185.0 147.0 185.0 145.0 185.0 143.0 185.0 135.0ZM275.0 160.3 273.6 161.0 273.0 161.4 272.3 163.0 271.9 165.0 271.9 167.0 271.9 169.0 271.8 171.0 271.9 173.0 271.9 175.0 272.1 177.0 273.0 179.0 273.0 179.0 275.0 179.8 277.0 180.0 279.0 180.0 281.0 180.0 283.0 180.0 285.0 180.0 287.0 180.0 289.0 180.0 290.0 179.0 290.0 177.0 289.9 175.0 289.6 173.0 289.0 172.0 288.0 171.0 287.0 170.4 285.0 170.0 283.0 169.6 282.0 169.0 281.0 168.0 280.4 167.0 280.0 165.0 279.6 163.0 279.0 162.0 278.0 161.0 277.0 160.5 275.0 160.3ZM403.0 190.5 402.0 191.0 401.0 192.0 400.4 193.0 400.1 195.0 400.0 197.0 400.0 199.0 401.0 200.0 403.0 200.0 405.0 200.0 407.0 200.0 409.0 200.0 410.0 199.0 410.0 197.0 409.9 195.0 409.6 193.0 409.0 192.0 408.0 191.0 407.0 190.5 405.0 190.2 403.0 190.5ZM411.0 200.0 410.0 201.0 410.0 203.0 410.1 205.0 410.4 207.0 411.0 208.0 412.0 209.0 413.0 209.6 415.0 209.8 417.0 209.6 418.0 209.0 419.0 208.0 419.5 207.0 419.8 205.0 419.5 203.0 419.0 202.0 418.0 201.0 417.0 200.4 415.0 200.1 413.0 200.0 411.0 200.0ZM503.0 312.3 501.4 313.0 501.0 313.6 500.3 315.0 500.0 317.0 500.0 319.0 501.0 320.0 503.0 320.0 505.0 319.9 507.0 319.6 508.0 319.0 509.0 318.0 509.5 317.0 509.7 315.0 509.0 313.1 509.0 313.0 507.0 312.2 505.0 312.0 503.0 312.3ZM523.0 320.5 522.0 321.0 521.0 322.0 520.5 323.0 520.2 325.0 520.4 327.0 521.0 328.0 522.0 329.0 523.0 329.6 525.0 329.9 527.0 330.0 529.0 330.0 530.0 329.0 530.0 327.0 529.9 325.0 529.6 323.0 529.0 322.0 528.0 321.0 527.0 320.4 525.0 320.2 523.0 320.5ZM541.0 258.2 539.9 259.0 539.0 259.9 538.2 261.0 537.6 263.0 537.5 265.0 537.4 267.0 537.4 269.0 537.4 271.0 537.4 273.0 537.5 275.0 537.6 277.0 538.2 279.0 539.0 280.1 539.9 281.0 541.0 281.8 543.0 282.4 545.0 282.5 547.0 282.4 549.0 281.8 550.1 281.0 551.0 280.1 551.8 279.0 552.4 277.0 552.5 275.0 552.6 273.0 552.6 271.0 552.6 269.0 552.6 267.0 552.6 265.0 552.4 263.0 551.8 261.0 551.0 259.9 550.1 259.0 549.0 258.2 547.0 257.6 545.0 257.5 543.0 257.6 541.0 258.2ZM353.0 222.3 351.4 223.0 351.0 223.6 350.3 225.0 350.5 227.0 351.0 228.0 352.0 229.0 353.0 229.6 355.0 229.9 357.0 230.0 359.0 230.0 360.0 229.0 360.0 227.0 359.8 225.0 359.0 223.0 359.0 223.0 357.0 222.2 355.0 222.0 353.0 222.3ZM700.0 135.0 701.0 135.0 703.0 135.0 705.0 135.0 707.0 135.0 709.0 135.0 711.0 135.0 713.0 135.0 715.0 135.0 717.0 135.0 719.0 135.0 721.0 135.0 723.0 135.0 725.0 135.0 727.0 135.0 728.2 135.0 728.1 143.0 728.0 145.0 727.3 147.0 727.0 147.3 725.0 148.0 723.0 148.4 721.6 149.0 721.0 149.2 719.2 151.0 719.0 151.6 718.4 153.0 718.2 155.0 718.2 157.0 718.2 159.0 718.2 161.0 718.1 163.0 718.0 165.0 717.3 167.0 717.0 167.3 715.0 168.0 713.0 168.3 711.0 168.6 709.6 169.0 709.0 169.2 707.0 169.6 705.0 169.8 703.0 169.2 702.7 169.0 701.0 167.3 700.8 167.0 700.2 165.0 700.0 163.0 700.0 161.0 700.0 159.0 700.0 157.0 700.0 155.0 700.0 153.0 700.0 151.0 700.0 149.0 700.0 147.0 700.0 145.0 700.0 143.0 700.0 135.0ZM614.9 153.0 615.0 153.0 617.0 152.9 617.3 153.0 619.0 154.2 619.7 155.0 620.4 157.0 621.0 158.1 622.0 159.0 623.0 159.6 625.0 160.1 627.0 160.8 627.3 161.0 629.0 162.7 629.2 163.0 629.6 165.0 629.0 166.3 628.6 167.0 627.0 167.7 625.0 168.1 623.0 168.1 621.0 168.1 619.0 168.2 617.0 168.1 615.0 168.1 613.0 167.7 611.5 167.0 611.0 166.3 610.5 165.0 611.0 163.3 611.1 163.0 612.2 161.0 612.8 159.0 613.0 157.8 613.2 157.0 613.7 155.0 614.9 153.0ZM531.3 165.0 533.0 164.1 535.0 163.8 537.0 164.2 538.3 165.0 537.0 165.8 535.0 166.2 533.0 166.0 531.3 165.0ZM554.5 175.0 555.0 174.3 555.8 175.0 555.0 175.7 554.5 175.0ZM552.8 223.0 553.0 222.9 555.0 222.8 556.1 223.0 557.0 223.5 557.9 225.0 558.3 227.0 558.6 229.0 559.0 230.4 559.2 231.0 559.7 233.0 559.9 235.0 560.0 237.0 560.0 239.0 559.0 240.0 557.0 240.0 555.0 239.7 553.6 239.0 553.0 238.7 551.3 237.0 551.0 236.4 550.3 235.0 550.0 233.0 550.0 231.0 550.0 229.0 550.1 227.0 550.5 225.0 551.0 224.4 552.8 223.0ZM382.0 231.0 383.0 230.4 385.0 230.2 387.0 230.4 388.0 231.0 389.0 232.0 389.6 233.0 389.9 235.0 390.0 237.0 390.0 239.0 390.0 241.0 390.0 243.0 389.8 245.0 389.4 247.0 389.0 247.9 388.5 249.0 387.9 251.0 387.5 253.0 387.4 255.0 387.1 257.0 387.0 257.4 385.7 259.0 385.0 259.6 383.0 260.0 381.0 260.0 379.0 260.0 377.0 260.0 375.0 259.9 373.0 259.6 372.0 259.0 371.0 258.0 370.4 257.0 370.2 255.0 370.4 253.0 371.0 252.0 372.0 251.0 373.0 250.4 375.0 250.0 377.0 249.6 378.0 249.0 379.0 248.0 379.6 247.0 379.9 245.0 380.0 243.0 380.0 241.0 380.0 239.0 380.0 237.0 380.1 235.0 380.4 233.0 381.0 232.0 382.0 231.0ZM730.4 241.0 731.0 240.8 733.0 240.4 735.0 240.2 737.0 240.4 738.0 241.0 739.0 242.0 739.6 243.0 739.9 245.0 740.0 247.0 740.0 249.0 740.0 251.0 740.0 253.0 740.1 255.0 740.4 257.0 741.0 258.0 742.0 259.0 743.0 259.6 745.0 259.9 747.0 260.0 755.0 260.0 755.0 261.0 755.0 263.0 755.0 265.0 755.0 267.0 755.0 269.0 755.0 271.0 755.0 273.0 755.0 275.0 755.0 277.0 755.0 279.0 755.0 281.0 755.0 283.0 755.0 285.0 755.0 287.0 755.0 289.0 755.0 290.0 747.0 290.0 745.0 289.8 743.1 289.0 743.0 289.0 741.0 287.0 741.0 286.9 740.2 285.0 739.6 283.0 739.0 281.9 738.0 281.0 737.0 280.4 735.0 280.0 733.0 279.6 732.0 279.0 731.0 278.0 730.4 277.0 730.0 275.0 729.6 273.0 729.0 272.0 728.0 271.0 727.0 270.4 725.0 270.0 723.0 269.6 722.0 269.0 721.0 268.0 720.4 267.0 720.0 265.0 719.6 263.0 719.0 262.0 718.0 261.0 717.0 260.4 715.0 260.0 713.0 259.6 712.0 259.0 711.0 258.0 710.4 257.0 710.2 255.0 710.4 253.0 711.0 252.0 712.0 251.0 713.0 250.4 715.0 250.0 717.0 249.6 718.0 249.0 719.0 248.0 719.6 247.0 720.1 245.0 721.0 243.0 721.0 243.0 723.0 242.1 725.0 241.9 727.0 241.7 729.0 241.4 730.4 241.0ZM340.0 261.0 341.0 260.0 343.0 260.0 345.0 260.2 346.9 261.0 347.0 261.1 349.0 263.0 349.0 263.1 349.8 265.0 350.4 267.0 351.0 268.1 352.0 269.0 353.0 269.6 355.0 270.0 357.0 270.4 358.0 271.0 359.0 272.0 359.6 273.0 359.9 275.0 360.0 277.0 360.0 279.0 360.0 281.0 360.0 283.0 359.9 285.0 359.6 287.0 359.0 288.0 358.0 289.0 357.0 289.6 355.0 290.0 353.0 290.4 352.0 291.0 351.0 292.0 350.4 293.0 350.2 295.0 350.4 297.0 351.0 298.0 352.0 299.0 353.0 299.6 355.0 299.9 357.0 300.0 359.0 300.0 361.0 300.0 363.0 300.0 365.0 300.1 367.0 300.6 367.4 301.0 368.0 303.0 368.2 305.0 368.3 307.0 368.6 309.0 369.0 310.4 369.2 311.0 369.7 313.0 369.9 315.0 370.0 317.0 370.0 319.0 369.0 320.0 367.0 320.0 365.0 320.0 363.0 320.0 361.0 320.0 360.0 319.0 360.0 317.0 359.9 315.0 359.6 313.0 359.0 312.0 358.0 311.0 357.0 310.4 355.0 310.2 353.0 310.4 352.0 311.0 351.0 312.0 350.4 313.0 350.1 315.0 350.0 317.0 350.0 319.0 349.0 320.0 347.0 320.0 345.0 320.1 343.0 320.4 342.0 321.0 341.0 321.9 340.4 323.0 339.8 325.0 339.0 326.9 339.0 327.0 337.0 328.9 336.7 329.0 335.0 329.5 334.1 329.0 333.0 327.9 332.8 327.0 332.6 325.0 332.6 323.0 332.6 321.0 332.6 319.0 332.6 317.0 332.5 315.0 332.4 313.0 331.8 311.0 331.0 309.9 330.1 309.0 329.0 308.2 327.0 307.6 325.0 307.4 323.0 307.1 322.8 307.0 321.0 305.5 320.5 305.0 320.4 303.0 320.8 301.0 321.0 300.4 321.4 299.0 321.7 297.0 321.8 295.0 321.5 293.0 321.0 291.6 320.8 291.0 319.0 289.2 318.4 289.0 317.0 288.4 315.0 288.0 313.0 287.3 312.7 287.0 312.2 285.0 312.8 283.0 313.0 282.7 315.0 282.0 317.0 281.9 319.0 281.9 321.0 281.8 323.0 281.8 325.0 281.8 327.0 281.8 329.0 281.8 331.0 281.8 333.0 281.8 335.0 281.8 337.0 281.6 338.4 281.0 339.0 280.8 340.8 279.0 341.0 278.4 341.5 277.0 341.8 275.0 341.7 273.0 341.4 271.0 341.0 269.6 340.8 269.0 340.3 267.0 340.1 265.0 340.0 263.0 340.0 261.0ZM372.0 271.0 373.0 270.4 375.0 270.1 377.0 270.0 379.0 270.0 381.0 270.0 383.0 270.0 385.0 270.2 386.9 271.0 387.0 271.0 389.0 273.0 389.0 273.1 389.8 275.0 390.4 277.0 391.0 278.1 392.0 279.0 393.0 279.6 395.0 279.9 397.0 280.0 399.0 280.0 400.0 281.0 400.0 283.0 400.1 285.0 400.4 287.0 401.0 288.0 402.0 289.0 403.0 289.6 405.0 289.9 407.0 290.0 409.0 290.0 410.0 289.0 410.0 287.0 409.9 285.0 409.6 283.0 409.0 282.0 408.0 281.0 407.0 280.4 405.0 280.1 403.0 280.0 401.0 280.0 400.0 279.0 400.1 277.0 400.4 275.0 401.0 274.3 402.6 273.0 403.0 272.9 405.0 272.6 407.0 272.5 409.0 272.1 411.0 271.5 412.1 271.0 413.0 270.6 415.0 270.4 416.4 271.0 417.0 271.4 417.7 273.0 418.1 275.0 418.3 277.0 418.6 279.0 419.0 280.4 419.2 281.0 419.7 283.0 419.9 285.0 420.0 287.0 420.0 289.0 419.0 290.0 417.0 290.0 415.0 290.0 413.0 290.0 411.0 290.0 410.0 291.0 410.0 293.0 410.0 295.0 410.0 297.0 410.0 299.0 410.0 301.0 410.0 303.0 409.8 305.0 409.2 307.0 409.0 307.3 407.3 309.0 407.0 309.2 405.0 309.9 403.0 310.4 402.0 311.0 401.0 311.9 400.4 313.0 399.8 315.0 399.0 316.5 398.6 317.0 397.0 317.7 395.0 317.9 393.0 317.3 392.7 317.0 392.0 315.0 391.9 313.0 391.9 311.0 391.8 309.0 391.8 307.0 391.8 305.0 391.6 303.0 391.0 301.6 390.8 301.0 389.0 299.2 388.4 299.0 387.0 298.4 385.0 298.2 383.0 298.2 381.0 298.2 379.0 298.2 377.0 298.2 375.0 298.1 373.0 298.0 371.0 297.4 370.6 297.0 370.1 295.0 370.0 293.0 370.0 291.0 370.0 289.0 370.0 287.0 370.0 285.0 370.0 283.0 370.0 281.0 370.0 279.0 370.0 277.0 370.1 275.0 370.4 273.0 371.0 272.0 372.0 271.0ZM350.0 321.0 351.0 320.0 353.0 320.0 355.0 320.0 357.0 320.0 359.0 320.0 360.0 321.0 359.9 323.0 359.5 325.0 359.0 325.5 357.2 327.0 357.0 327.1 355.0 327.3 353.0 327.1 352.6 327.0 351.0 325.7 350.4 325.0 350.1 323.0 350.0 321.0ZM370.0 321.0 371.0 320.0 373.0 320.0 375.0 320.3 376.4 321.0 377.0 321.5 377.7 323.0 377.7 325.0 377.0 325.9 375.0 326.8 373.0 326.5 371.0 325.3 370.6 325.0 370.1 323.0 370.0 321.0ZM563.7 321.0 565.0 320.4 566.9 321.0 567.0 321.1 567.9 323.0 568.1 325.0 568.4 327.0 569.0 328.4 569.2 329.0 571.0 330.8 571.6 331.0 573.0 331.6 575.0 331.9 577.0 332.5 577.5 333.0 578.1 335.0 578.3 337.0 578.6 339.0 579.0 340.4 579.2 341.0 579.7 343.0 579.9 345.0 580.0 347.0 580.0 349.0 580.0 351.0 580.0 353.0 580.0 355.0 580.0 357.0 580.0 359.0 580.0 361.0 580.0 363.0 580.0 365.0 580.0 367.0 580.0 369.0 580.0 371.0 580.0 373.0 579.9 375.0 579.6 377.0 579.0 378.0 578.0 379.0 577.0 379.6 575.0 380.0 573.0 380.4 572.0 381.0 571.0 382.0 570.4 383.0 570.0 385.0 569.6 387.0 569.0 388.0 568.0 389.0 567.0 389.6 565.0 390.0 563.0 390.4 562.0 391.0 561.0 392.0 560.4 393.0 560.1 395.0 560.0 397.0 560.0 405.0 559.0 405.0 557.0 405.0 555.0 405.0 553.0 405.0 551.0 405.0 550.0 405.0 550.0 397.0 550.0 395.0 550.0 393.0 550.0 391.0 550.0 389.0 550.0 387.0 550.0 385.0 550.0 383.0 550.0 381.0 550.0 379.0 550.0 377.0 550.0 375.0 550.0 373.0 550.0 371.0 550.0 369.0 550.0 367.0 549.8 365.0 549.2 363.0 549.0 362.7 547.3 361.0 547.0 360.8 545.0 360.0 543.0 359.2 542.7 359.0 541.0 357.3 540.8 357.0 540.1 355.0 539.7 353.0 539.2 351.0 539.0 350.4 538.6 349.0 538.3 347.0 538.2 345.0 538.4 343.0 539.0 341.6 539.2 341.0 541.0 339.2 541.6 339.0 543.0 338.4 545.0 338.2 547.0 338.2 549.0 338.2 551.0 338.2 553.0 338.2 555.0 338.1 557.0 337.9 559.0 337.0 559.0 337.0 559.9 335.0 560.3 333.0 560.8 331.0 561.0 330.4 561.4 329.0 561.7 327.0 561.9 325.0 562.3 323.0 563.0 321.5 563.7 321.0ZM460.7 323.0 461.0 322.7 463.0 322.1 465.0 322.1 466.6 323.0 467.0 324.4 467.1 325.0 467.0 325.1 465.0 326.6 463.0 326.5 461.0 325.3 460.6 325.0 460.7 323.0ZM324.7 341.0 325.0 340.8 325.3 341.0 326.6 343.0 326.4 345.0 325.0 346.3 323.0 345.1 322.9 345.0 322.9 343.0 323.0 342.8 324.7 341.0Z"/><path fill="#00bbff" d="M380.0 135.0 381.0 135.0 383.0 135.0 385.0 135.0 387.0 135.0 389.0 135.0 391.0 135.0 393.0 135.0 395.0 135.0 397.0 135.0 399.0 135.0 401.0 135.0 403.0 135.0 405.0 135.0 407.0 135.0 409.0 135.0 411.0 135.0 413.0 135.0 415.0 135.0 417.0 135.0 419.0 135.0 421.0 135.0 423.0 135.0 425.0 135.0 427.0 135.0 429.0 135.0 431.0 135.0 433.0 135.0 435.0 135.0 437.0 135.0 439.0 135.0 441.0 135.0 443.0 135.0 445.0 135.0 447.0 135.0 449.0 135.0 451.0 135.0 453.0 135.0 455.0 135.0 457.0 135.0 459.0 135.0 461.0 135.0 463.0 135.0 465.0 135.0 467.0 135.0 469.0 135.0 471.0 135.0 473.0 135.0 475.0 135.0 477.0 135.0 479.0 135.0 481.0 135.0 483.0 135.0 485.0 135.0 487.0 135.0 489.0 135.0 491.0 135.0 493.0 135.0 495.0 135.0 497.0 135.0 499.0 135.0 501.0 135.0 503.0 135.0 505.0 135.0 506.3 135.0 506.3 143.0 506.2 145.0 506.0 147.0 505.3 149.0 505.0 149.4 503.0 149.9 501.0 150.0 499.0 150.0 497.0 150.0 495.0 150.0 493.0 150.0 491.0 150.0 489.0 150.0 487.0 150.0 485.0 150.0 483.0 150.0 481.0 150.0 479.0 150.0 477.0 150.0 475.0 150.0 473.0 150.0 471.0 150.0 469.0 150.0 467.0 150.0 465.0 150.0 463.0 150.0 461.0 150.0 459.0 150.0 457.0 150.0 455.0 150.0 453.0 150.0 451.0 150.0 449.0 150.0 447.0 150.0 445.0 150.0 443.0 150.0 441.0 150.0 439.0 150.0 437.0 150.0 435.0 150.0 433.0 150.0 431.0 150.0 429.0 150.0 427.0 150.0 425.0 150.0 423.0 150.0 421.0 150.0 419.0 150.0 417.0 150.0 415.0 150.0 413.0 150.0 411.0 150.0 409.0 150.0 407.0 150.0 405.0 150.1 403.0 150.4 402.0 151.0 401.0 152.0 400.4 153.0 400.0 155.0 399.6 157.0 399.0 158.0 398.0 159.0 397.0 159.6 395.0 159.9 393.0 160.0 391.0 160.0 389.0 160.0 387.0 160.0 385.0 159.9 383.0 159.6 382.0 159.0 381.0 158.0 380.4 157.0 380.1 155.0 380.0 153.0 380.0 151.0 380.0 149.0 380.0 147.0 380.0 145.0 380.0 143.0 380.0 135.0ZM262.0 151.0 263.0 150.4 265.0 150.2 267.0 150.4 268.0 151.0 269.0 152.0 269.6 153.0 269.8 155.0 269.6 157.0 269.2 159.0 269.0 159.6 268.6 161.0 268.3 163.0 268.2 165.0 268.2 167.0 268.1 169.0 268.1 171.0 268.1 173.0 268.1 175.0 267.9 177.0 267.0 179.0 266.9 179.0 265.0 179.7 263.0 179.5 262.0 179.0 261.0 178.0 260.4 177.0 260.1 175.0 260.0 173.0 260.0 171.0 260.0 169.0 260.0 167.0 260.0 165.0 260.0 163.0 260.0 161.0 260.0 159.0 260.0 157.0 260.1 155.0 260.4 153.0 261.0 152.0 262.0 151.0ZM232.0 161.0 233.0 160.4 235.0 160.2 237.0 160.4 238.0 161.0 239.0 162.0 239.6 163.0 239.9 165.0 240.0 167.0 240.0 169.0 240.0 171.0 240.0 173.0 240.0 175.0 240.0 177.0 240.0 179.0 240.0 181.0 240.0 183.0 239.9 185.0 239.6 187.0 239.0 188.0 238.0 189.0 237.0 189.6 235.0 189.8 233.0 189.6 232.0 189.0 231.0 188.0 230.4 187.0 230.1 185.0 230.0 183.0 230.0 181.0 230.0 179.0 230.0 177.0 230.0 175.0 230.0 173.0 230.0 171.0 230.0 169.0 230.0 167.0 230.1 165.0 230.4 163.0 231.0 162.0 232.0 161.0ZM332.0 161.0 333.0 160.5 335.0 160.2 337.0 160.5 338.0 161.0 339.0 162.0 339.5 163.0 339.8 165.0 339.2 167.0 339.0 167.3 337.3 169.0 337.0 169.2 335.0 169.8 333.0 169.5 332.0 169.0 331.0 168.0 330.5 167.0 330.2 165.0 330.5 163.0 331.0 162.0 332.0 161.0ZM412.0 161.0 413.0 160.4 415.0 160.1 417.0 160.0 419.0 160.0 421.0 160.0 423.0 160.0 425.0 160.1 427.0 160.4 428.0 161.0 429.0 162.0 429.6 163.0 430.0 165.0 430.4 167.0 431.0 168.0 432.0 169.0 433.0 169.6 435.0 169.9 437.0 170.0 439.0 170.0 441.0 170.0 443.0 170.0 445.0 170.0 447.0 170.0 449.0 170.0 451.0 170.0 453.0 170.0 455.0 170.1 457.0 170.4 458.0 171.0 459.0 172.0 459.6 173.0 459.8 175.0 459.6 177.0 459.0 178.0 458.0 179.0 457.0 179.6 455.0 179.9 453.0 180.0 451.0 180.0 449.0 180.0 447.0 180.0 445.0 180.1 443.0 180.4 442.0 181.0 441.0 182.0 440.4 183.0 440.1 185.0 440.0 187.0 440.0 189.0 440.0 191.0 440.0 193.0 439.9 195.0 439.6 197.0 439.0 198.0 438.0 199.0 437.0 199.6 435.0 199.8 433.0 199.6 432.0 199.0 431.0 198.0 430.4 197.0 430.0 195.0 429.6 193.0 429.0 192.0 428.0 191.0 427.0 190.4 425.0 190.0 423.0 189.6 422.0 189.0 421.0 188.0 420.4 187.0 420.0 185.0 419.6 183.0 419.0 182.0 418.0 181.0 417.0 180.4 415.0 180.1 413.0 180.0 411.0 180.0 409.0 180.0 407.0 180.0 405.0 179.9 403.0 179.6 402.0 179.0 401.0 178.0 400.4 177.0 400.2 175.0 400.4 173.0 401.0 172.0 402.0 171.0 403.0 170.4 405.0 170.0 407.0 169.6 408.0 169.0 409.0 168.0 409.6 167.0 410.0 165.0 410.4 163.0 411.0 162.0 412.0 161.0ZM472.0 161.0 473.0 160.4 475.0 160.1 477.0 160.0 479.0 160.0 481.0 160.0 483.0 160.0 485.0 160.0 487.0 160.0 489.0 160.0 491.0 160.0 493.0 160.0 495.0 160.0 497.0 160.0 499.0 160.0 501.0 160.0 503.0 160.0 505.0 160.1 507.0 160.4 508.0 161.0 509.0 162.0 509.6 163.0 509.9 165.0 510.0 167.0 510.0 169.0 510.0 171.0 509.9 173.0 509.1 175.0 509.0 175.1 507.0 175.9 505.0 176.2 503.0 176.5 501.4 177.0 501.0 177.1 499.0 178.1 498.1 179.0 497.1 181.0 497.0 181.4 496.5 183.0 496.3 185.0 496.3 187.0 496.2 189.0 496.2 191.0 496.2 193.0 496.2 195.0 496.0 197.0 495.4 199.0 495.0 199.5 493.0 199.9 491.0 200.0 490.0 199.0 490.0 197.0 489.9 195.0 489.6 193.0 489.0 192.0 488.0 191.0 487.0 190.4 485.0 190.0 483.0 189.6 482.0 189.0 481.0 188.0 480.4 187.0 480.1 185.0 480.0 183.0 480.0 181.0 480.0 179.0 480.0 177.0 479.9 175.0 479.6 173.0 479.0 172.0 478.0 171.0 477.0 170.4 475.0 170.0 473.0 169.6 472.0 169.0 471.0 168.0 470.4 167.0 470.2 165.0 470.4 163.0 471.0 162.0 472.0 161.0ZM372.0 171.0 373.0 170.5 375.0 170.2 377.0 170.5 378.0 171.0 379.0 172.0 379.5 173.0 379.8 175.0 379.5 177.0 379.0 178.0 378.0 179.0 377.0 179.5 375.0 179.8 373.0 179.2 372.7 179.0 371.0 177.3 370.8 177.0 370.2 175.0 370.5 173.0 371.0 172.0 372.0 171.0ZM272.0 191.0 273.0 190.5 275.0 190.2 277.0 190.5 278.0 191.0 279.0 192.0 279.5 193.0 279.7 195.0 279.0 196.9 279.0 197.0 277.0 197.8 275.0 198.0 273.0 197.7 271.4 197.0 271.0 196.4 270.3 195.0 270.5 193.0 271.0 192.0 272.0 191.0ZM462.0 201.0 463.0 200.4 465.0 200.1 467.0 200.0 469.0 200.0 471.0 200.0 473.0 200.0 475.0 200.0 477.0 200.0 479.0 200.0 481.0 200.0 483.0 200.0 485.0 200.0 487.0 200.0 489.0 200.0 490.0 201.0 490.0 203.0 489.9 205.0 489.6 207.0 489.0 208.0 488.0 209.0 487.0 209.6 485.0 210.0 483.0 210.4 482.0 211.0 481.0 212.0 480.4 213.0 480.0 215.0 479.6 217.0 479.0 218.0 478.0 219.0 477.0 219.6 475.0 219.9 473.0 220.0 471.0 220.0 469.0 220.0 467.0 220.0 465.0 219.9 463.0 219.6 462.0 219.0 461.0 218.0 460.4 217.0 460.1 215.0 460.0 213.0 460.0 211.0 460.0 209.0 460.0 207.0 460.1 205.0 460.4 203.0 461.0 202.0 462.0 201.0ZM621.0 203.0 623.0 202.2 625.0 202.0 627.0 202.3 628.6 203.0 629.0 203.6 629.7 205.0 629.5 207.0 629.0 208.0 628.0 209.0 627.0 209.6 625.0 209.9 623.0 210.0 621.0 210.0 620.0 209.0 620.0 207.0 620.2 205.0 621.0 203.0 621.0 203.0ZM500.6 205.0 501.0 204.7 503.0 204.1 505.0 204.3 505.7 205.0 505.9 207.0 505.2 209.0 505.0 209.3 503.0 209.5 502.1 209.0 501.0 207.9 500.5 207.0 500.6 205.0ZM350.4 211.0 351.0 210.8 353.0 210.4 355.0 210.2 357.0 210.4 358.0 211.0 359.0 212.0 359.5 213.0 359.7 215.0 359.0 216.9 359.0 217.0 357.0 217.9 355.0 218.1 353.0 218.3 351.0 218.6 349.6 219.0 349.0 219.2 347.0 219.6 345.0 219.8 343.0 219.6 342.0 219.0 341.0 218.0 340.5 217.0 340.3 215.0 341.0 213.6 341.4 213.0 343.0 212.3 345.0 211.9 347.0 211.7 349.0 211.4 350.4 211.0ZM602.0 211.0 603.0 210.4 605.0 210.1 607.0 210.0 609.0 210.0 611.0 210.0 613.0 210.0 615.0 210.0 617.0 210.0 619.0 210.0 620.0 211.0 620.0 213.0 620.0 215.0 620.0 217.0 620.0 219.0 620.0 221.0 620.0 223.0 619.9 225.0 619.6 227.0 619.0 228.0 618.0 229.0 617.0 229.6 615.0 229.9 613.0 230.0 611.0 230.0 609.0 230.0 607.0 230.0 605.0 229.9 603.0 229.6 602.0 229.0 601.0 228.0 600.4 227.0 600.1 225.0 600.0 223.0 600.0 221.0 600.0 219.0 600.0 217.0 600.1 215.0 600.4 213.0 601.0 212.0 602.0 211.0ZM252.0 221.0 253.0 220.4 255.0 220.1 257.0 220.0 259.0 220.0 261.0 220.0 263.0 220.0 265.0 220.1 267.0 220.3 269.0 220.8 269.6 221.0 271.0 221.4 273.0 221.7 275.0 221.9 277.0 222.3 278.6 223.0 279.0 223.6 279.7 225.0 279.5 227.0 279.0 228.0 278.0 229.0 277.0 229.6 275.0 229.9 273.0 230.0 271.0 230.0 269.0 230.0 267.0 230.0 265.0 230.0 263.0 230.0 261.0 230.0 259.0 230.0 257.0 230.0 255.0 229.9 253.0 229.6 252.0 229.0 251.0 228.0 250.4 227.0 250.2 225.0 250.4 223.0 251.0 222.0 252.0 221.0ZM492.0 241.0 493.0 240.5 495.0 240.2 497.0 240.5 498.0 241.0 499.0 242.0 499.5 243.0 499.8 245.0 499.5 247.0 499.0 248.0 498.0 249.0 497.0 249.5 495.0 249.8 493.0 249.5 492.0 249.0 491.0 248.0 490.5 247.0 490.2 245.0 490.5 243.0 491.0 242.0 492.0 241.0ZM582.7 241.0 583.0 240.8 585.0 240.2 587.0 240.5 588.0 241.0 589.0 242.0 589.6 243.0 589.9 245.0 590.0 247.0 590.0 249.0 590.0 251.0 590.0 253.0 589.9 255.0 589.6 257.0 589.0 258.0 588.0 259.0 587.0 259.5 585.0 259.8 583.0 259.2 582.7 259.0 581.0 257.3 580.8 257.0 580.2 255.0 580.0 253.0 580.0 251.0 580.0 249.0 580.0 247.0 580.2 245.0 580.8 243.0 581.0 242.7 582.7 241.0ZM483.6 261.0 485.0 260.3 487.0 260.5 488.0 261.0 489.0 262.0 489.6 263.0 489.9 265.0 490.0 267.0 490.0 269.0 490.0 271.0 490.0 273.0 490.1 275.0 490.4 277.0 491.0 278.0 492.0 279.0 493.0 279.6 495.0 279.9 497.0 280.0 499.0 280.0 501.0 280.0 503.0 280.0 505.0 280.0 507.0 280.0 509.0 280.0 511.0 280.0 513.0 280.0 515.0 280.0 517.0 280.0 519.0 280.0 521.0 280.0 523.0 280.0 525.0 280.1 527.0 280.4 528.0 281.0 529.0 282.0 529.6 283.0 529.9 285.0 530.0 287.0 530.0 289.0 530.0 291.0 530.0 293.0 529.9 295.0 529.6 297.0 529.0 298.0 528.0 299.0 527.0 299.6 525.0 299.9 523.0 300.0 521.0 300.0 519.0 300.0 517.0 300.0 515.0 300.2 513.0 300.8 512.7 301.0 511.0 302.7 510.8 303.0 510.0 305.0 509.0 307.0 509.0 307.0 507.0 307.9 505.0 308.1 503.0 308.3 501.0 308.6 499.6 309.0 499.0 309.2 497.0 309.6 495.0 309.8 493.0 309.6 492.0 309.0 491.0 308.0 490.4 307.0 490.0 305.0 489.6 303.0 489.0 302.0 488.0 301.0 487.0 300.4 485.0 300.0 483.0 299.7 481.0 299.2 480.4 299.0 479.0 298.6 477.0 298.3 475.0 298.2 473.0 298.5 471.6 299.0 471.0 299.2 469.2 301.0 469.0 301.6 468.4 303.0 468.0 305.0 467.0 306.6 466.4 307.0 465.0 307.3 463.0 307.5 461.0 307.9 459.0 308.6 457.9 309.0 457.0 309.4 455.0 309.8 453.0 309.5 452.0 309.0 451.0 308.0 450.4 307.0 450.1 305.0 450.0 303.0 450.0 301.0 450.0 299.0 450.0 297.0 450.1 295.0 450.3 293.0 450.8 291.0 451.0 290.4 451.4 289.0 451.7 287.0 452.1 285.0 453.0 283.4 453.6 283.0 455.0 282.7 457.0 282.5 459.0 282.4 461.0 282.2 463.0 282.0 465.0 281.8 467.0 281.7 469.0 281.4 470.4 281.0 471.0 280.8 473.0 280.3 475.0 280.0 477.0 279.6 478.0 279.0 479.0 278.0 479.6 277.0 480.0 275.0 480.3 273.0 480.8 271.0 481.0 270.4 481.4 269.0 481.7 267.0 481.9 265.0 482.3 263.0 483.0 261.4 483.6 261.0ZM612.0 341.0 613.0 340.4 615.0 340.2 617.0 340.4 618.0 341.0 619.0 342.0 619.6 343.0 619.9 345.0 620.0 347.0 620.0 349.0 620.0 351.0 620.0 353.0 619.8 355.0 619.2 357.0 619.0 357.3 617.3 359.0 617.0 359.2 615.0 359.8 613.0 360.0 611.0 360.0 610.0 359.0 610.0 357.0 610.0 355.0 610.0 353.0 610.0 351.0 610.0 349.0 610.0 347.0 610.1 345.0 610.4 343.0 611.0 342.0 612.0 341.0ZM542.7 343.0 543.0 342.7 545.0 342.0 547.0 341.9 549.0 341.9 551.0 341.8 553.0 341.9 555.0 341.9 557.0 342.1 559.0 343.0 559.0 343.0 559.8 345.0 560.0 347.0 560.0 349.0 560.0 351.0 560.0 353.0 559.9 355.0 559.6 357.0 559.0 358.0 558.0 359.0 557.0 359.5 555.0 359.8 553.0 359.2 552.7 359.0 551.0 357.3 550.8 357.0 550.1 355.0 549.6 353.0 549.0 352.0 548.1 351.0 547.0 350.4 545.0 349.8 543.5 349.0 543.0 348.6 542.3 347.0 542.1 345.0 542.7 343.0ZM602.0 361.0 603.0 360.4 605.0 360.1 607.0 360.0 609.0 360.0 610.0 361.0 609.9 363.0 609.5 365.0 609.0 365.5 607.2 367.0 607.0 367.1 605.0 367.3 603.0 367.2 602.4 367.0 601.0 365.8 600.4 365.0 600.5 363.0 601.0 362.0 602.0 361.0Z"/><path fill="#0066ff" d="M502.0 291.0 503.0 290.5 505.0 290.2 507.0 290.5 508.0 291.0 509.0 292.0 509.5 293.0 509.8 295.0 509.2 297.0 509.0 297.3 507.3 299.0 507.0 299.2 505.0 299.8 503.0 299.5 502.0 299.0 501.0 298.0 500.5 297.0 500.2 295.0 500.5 293.0 501.0 292.0 502.0 291.0Z"/></g></g></g>
<g id="fills"><g clip-path="url(#frm)"><g mask="url(#dom)"><path fill="#ddb57b" d="M401.2 151.8 415.4 150.9 433.0 150.0 447.2 147.4 456.0 148.3 463.1 146.5 471.9 143.0 486.1 143.0 496.7 142.1 503.7 145.6 502.0 152.7 494.9 154.4 489.6 152.7 484.3 150.9 480.8 154.4 468.4 154.4 454.2 152.7 447.2 150.9 440.1 151.8 436.6 154.4 438.3 158.9 434.8 157.1 431.3 154.4 415.4 154.4 403.0 153.6Z"/><path fill="#ddb57b" d="M501.5 194.3 506.4 184.5 514.6 179.5 526.1 174.6 537.6 173.0 544.2 175.4 549.1 176.6 558.9 174.9 568.8 173.8 572.1 174.6 583.6 181.2 585.2 189.4 583.6 194.3 581.9 197.6 588.5 204.2 589.3 212.4 585.2 217.3 578.6 218.9 577.0 223.9 580.3 230.4 575.4 235.4 562.2 228.8 560.6 220.6 562.2 215.7 552.4 214.8 544.2 212.4 531.0 209.1 516.3 205.8 508.1 200.9 501.5 197.6Z"/><path fill="#f4d2b0" d="M522.8 199.2 536.0 194.3 549.1 191.0 557.3 191.0 558.9 199.2 555.7 207.4 552.4 214.8 544.2 212.4 531.0 209.1 521.2 205.8Z"/><path fill="#f4f3dc" d="M558.9 184.5 568.8 181.2 581.9 182.8 583.6 197.6 588.5 204.2 589.3 212.4 585.2 217.3 578.6 218.9 577.0 223.9 580.3 230.4 575.4 235.4 562.2 228.8 560.6 220.6 562.2 215.7 553.2 214.8 556.5 205.8 559.8 197.6Z"/><path fill="#ccffff" d="M570.4 192.7 580.3 191.0 584.4 199.2 588.2 205.0 588.2 211.6 583.6 216.5 577.0 214.8 571.2 205.8Z"/><path fill="#f4d2b0" d="M514.1 258.2 518.5 255.7 525.4 252.3 526.9 251.8 528.4 249.8 533.3 247.8 538.2 248.3 542.1 248.8 549.0 252.3 550.5 256.7 551.4 259.1 549.0 259.1 546.5 258.2 541.6 259.6 537.7 259.1 534.3 257.2 535.2 254.7 531.3 257.2 526.9 257.7 522.0 258.6 520.0 257.2 514.1 258.2Z"/><path fill="#f4f3dc" d="M550.5 262.6 546.5 262.1 541.6 262.1 536.2 264.1 534.3 269.0 537.7 267.5 535.7 271.4 534.7 276.3 535.2 279.8 536.7 282.7 539.2 283.2 541.6 280.8 543.1 277.3 541.6 273.4 542.6 270.0 546.0 266.5 547.5 265.0 550.5 262.6Z"/><path fill="#f4f3dc" d="M550.5 262.6 554.4 260.6 561.3 260.1 567.6 261.6 570.6 263.1 573.5 266.5 573.0 269.0 567.6 267.5 565.2 270.4 565.2 274.9 561.8 276.3 561.3 273.4 558.8 271.4 554.4 273.4 557.3 270.0 556.8 266.5 553.9 264.1 550.5 262.6Z"/><path fill="#ccffff" d="M557.8 281.3 556.8 282.7 560.8 284.2 565.2 283.7 571.1 281.8 574.5 280.3 578.9 277.3 576.0 276.8 571.1 278.3 566.2 278.8 561.3 280.3 557.8 281.3Z"/><path fill="#ccffff" d="M578.0 275.4 583.4 274.9 588.3 274.9 592.2 273.9 591.7 271.4 588.3 270.4 580.9 271.9 576.5 273.4 578.0 275.4Z"/><path fill="#ddb57b" d="M490.6 240.0 493.0 238.5 492.0 235.5 490.1 232.1 489.1 228.2 487.1 224.7 484.2 223.0 480.2 223.7 478.8 226.2 481.2 229.1 483.7 231.6 487.1 234.1 489.1 237.0 490.6 240.0Z"/><path fill="#ddb57b" d="M483.7 241.4 482.7 239.0 480.7 236.0 477.8 233.1 476.3 234.1 479.3 237.0 481.2 240.0 483.7 241.4Z"/><path fill="#ddb57b" d="M476.3 234.1 474.8 230.6 472.4 227.7 474.8 228.6 476.8 231.6 476.3 234.1Z"/><path fill="#ddb57b" d="M351.2 162.7 361.8 161.3 372.4 159.2 381.3 158.3 382.1 160.1 377.7 161.3 388.3 161.8 384.8 163.6 377.7 165.4 372.4 168.0 372.4 165.4 368.9 166.3 363.6 168.4 361.8 166.3 365.4 164.5 361.8 163.6 351.2 163.6Z"/><path fill="#ddb57b" d="M391.9 187.5 397.2 183.9 400.7 181.8 406.0 181.3 411.3 182.2 416.6 180.4 423.7 179.5 430.8 179.5 425.5 180.8 420.2 182.2 414.8 183.9 409.5 184.8 407.8 187.5 400.7 188.4 393.6 187.8Z"/><path fill="#ddb57b" d="M421.9 194.5 425.5 191.0 432.5 190.1 437.8 191.9 430.8 192.8 425.5 195.1Z"/></g></g></g>
<g id="coast" fill="none" stroke="#000" stroke-width="1.1" stroke-linejoin="round"><path d="M82.5 136.0 88.0 135.5 94.5 137.5 90.0 139.0 83.0 139.8M82.8 148.0 95.6 151.8 108.5 156.4 112.3 157.6 122.9 158.2 132.0 162.7 121.4 165.5 118.4 170.0 115.3 171.5 107.8 169.2 101.7 165.5 94.1 165.5 88.0 161.7 85.0 162.4 82.8 167.0M122.9 174.5 127.5 174.1 132.0 175.8 137.3 176.8 132.0 177.3 127.5 176.4 122.9 176.4 122.9 174.5M144.1 192.0 148.7 191.2 153.2 192.0 150.2 193.5 145.6 193.2 144.1 192.0M335.0 143.0 331.1 143.9 327.6 142.5 318.7 144.2 311.7 146.5 304.6 146.2 299.3 146.9 296.6 149.2 290.5 147.4 283.4 145.6 272.8 144.7 265.7 143.3 251.6 143.3 239.2 142.1 222.4 141.2 218.0 139.4 209.1 139.1 205.6 137.7 200.3 137.1 194.1 137.9 188.1 139.4 179.0 140.5 169.9 142.7 166.8 145.0 163.8 148.0 157.8 148.8 150.9 149.5 150.2 151.8 153.2 153.3 160.8 155.6 166.8 158.6 171.4 160.9 168.4 163.2 162.3 162.4 157.8 160.6 151.7 161.7 145.6 163.9 142.6 165.2 148.7 167.0 150.2 169.2 160.8 170.8 168.4 170.8 174.4 169.2 176.7 171.5 175.2 174.2 169.9 176.1 162.3 176.8 157.8 178.3 153.2 182.1 151.7 185.2 153.6 188.3 158.2 192.1 162.7 194.4 168.8 192.9 171.8 195.2 172.6 198.2 179.4 198.5 183.9 199.4 187.0 199.7 193.0 199.4 193.8 201.2 191.5 204.2 185.5 207.3 179.4 210.3 173.3 212.6 167.3 215.2 161.2 217.9 156.7 219.7 158.2 220.6 165.8 217.9 174.8 214.8 183.9 211.8 191.5 208.8 199.1 205.8 205.2 202.7 212.7 199.7 211.2 196.7 215.8 193.6 221.8 189.1 226.4 186.8 229.4 187.3 224.1 189.1 221.8 192.1 221.1 195.2 223.3 196.7M206.7 205.8 211.2 202.0 217.3 200.5 218.8 202.4 216.5 204.2 215.8 206.5 211.2 208.0 207.4 208.0 206.7 205.8M135.0 228.6 138.6 225.1 142.1 224.7 140.3 226.8 135.0 228.6M143.0 224.2 146.5 222.4 149.2 223.3 145.6 225.1 143.0 224.7M156.2 219.7 158.0 220.6 165.1 218.0 159.8 218.3 156.2 219.7M90.8 232.5 92.6 233.5M97.0 233.0 99.7 232.5M107.6 231.2 111.2 230.4M222.0 195.9 227.3 195.0 232.6 192.4 237.9 189.7 239.7 188.0 246.7 188.5 253.8 191.0 260.9 192.7 268.0 193.3 275.0 193.8 280.3 193.3 285.6 195.9 292.7 199.4 298.0 202.1 302.4 204.7 305.1 208.3 308.6 210.1 312.2 208.3 313.9 211.8 317.5 215.4 321.0 218.0 326.3 218.9 328.1 222.4 331.6 226.8 335.1 231.3 338.7 236.6 342.2 238.3 349.3 241.0 356.3 245.4 361.6 248.1M222.0 187.1 225.5 186.2 229.1 187.1 227.3 189.7 223.8 191.5 222.0 190.6M301.5 200.3 304.2 199.4 305.1 203.0 303.3 206.5 304.2 210.9M306.8 205.6 310.4 206.5 312.5 207.9M312.2 222.1 317.5 221.5 320.1 224.2 321.9 227.7 322.8 232.1 319.2 231.3 315.7 226.8 313.0 224.2 312.2 222.1M336.9 238.3 342.2 237.4 349.3 240.1 356.3 242.8 361.6 246.3 362.0 249.8 356.3 247.2 349.3 243.6 344.0 241.0 337.8 240.1 336.9 238.3M354.7 123.8 370.7 121.7 388.3 123.0 400.7 127.0 395.4 128.3 386.6 129.1 381.3 130.9 376.0 133.6 370.7 136.2 361.8 138.0 356.5 136.2 351.2 132.7 356.5 128.3 354.7 123.8M383.0 130.9 388.3 129.1 400.7 128.3 409.5 128.8 414.8 129.5 425.5 128.8 439.6 126.5 453.7 127.0 450.2 131.8 452.0 136.2 457.3 139.7 467.9 142.4 470.0 143.3M470.0 145.9 464.3 147.7 460.8 150.4 453.7 149.5 447.6 147.7 443.1 146.8 436.1 148.2 429.0 149.5 421.9 150.4 414.8 150.0 407.8 149.5 400.7 147.2 393.6 145.9 393.6 144.2 397.2 143.3 407.8 142.9 412.2 141.5 406.0 140.6 393.6 139.7 388.3 137.6 384.8 134.4 383.0 130.9M400.7 118.5 406.0 120.3 414.8 121.2 423.7 119.9 429.0 118.9 443.1 118.5M330.0 143.3 337.1 141.2 344.1 144.7 349.4 146.5 354.7 144.2 358.3 146.5 365.4 145.4 376.0 145.4 383.0 146.8 391.9 147.7 399.8 148.2 404.2 150.4 401.6 153.0 407.8 154.8 418.4 154.2 429.0 153.9 434.3 154.2 436.9 157.4 438.2 159.2 439.6 154.8 444.9 152.5 450.2 153.0 457.3 153.0 464.3 154.8 470.0 155.3M470.0 127.4 477.1 123.8 484.1 123.5 487.7 126.5 493.0 129.1 493.0 132.7 487.7 135.3 480.6 136.2 475.3 134.4 470.0 131.8M496.5 123.8 505.4 123.0 523.0 123.5 517.7 126.5 508.9 128.3 504.5 131.8 505.4 134.4 512.4 138.0 517.7 142.4 513.3 144.2 519.5 146.8 526.6 148.6 531.0 147.7 535.4 151.2 538.1 155.7 540.7 156.5 542.5 152.1 545.1 146.8 546.0 144.7 553.1 144.2 561.9 144.7 566.3 146.8 564.6 150.4 566.9 153.0 563.7 157.4 556.6 160.1 547.8 161.3 541.6 161.3M542.5 164.5 547.8 163.6 556.6 166.3 563.7 168.9 569.0 172.4 567.2 174.7 560.2 174.2 553.1 175.5 547.8 177.2 544.2 176.0 541.6 173.3 543.4 168.9 542.5 164.5M569.0 124.7 576.1 124.2 586.7 125.3 590.2 128.3 586.7 130.0 576.1 130.0 570.8 128.3 569.0 124.7M524.8 132.7 528.3 127.4 533.6 124.7 544.2 124.7 547.8 125.6 542.5 127.4 541.6 130.9 544.2 133.6 547.8 134.4 546.0 130.9 547.8 127.4 554.8 125.6 565.5 125.6 569.0 130.9 576.1 131.8 583.1 130.0 593.7 131.8 600.8 132.7 610.0 134.4M569.0 144.7 583.1 143.3 593.7 147.7 604.3 151.2 607.9 157.4 600.8 160.1 592.0 163.6 583.1 167.1 586.7 169.8 597.3 168.9 610.0 168.0M587.6 154.8 592.0 152.7 597.3 153.5 597.6 156.0 592.0 157.1 587.6 156.0 587.6 154.8M554.8 181.8 558.4 180.1 563.7 179.5 560.2 181.3 554.8 182.5 554.8 181.8M572.5 182.2 576.1 181.3 578.2 183.6 575.2 184.8 572.5 182.2M684.2 118.5 688.7 120.3 692.2 124.7 693.1 129.1 692.2 133.6 694.8 136.2 703.7 135.9 706.3 137.6 712.5 138.9 713.4 141.5 709.0 143.6 716.1 146.5 716.9 149.5 712.5 151.2 706.3 151.2 702.8 153.0 701.9 157.4 703.7 161.8 707.2 165.4 710.8 168.9 714.3 172.4 719.6 177.8 724.9 183.1 730.2 187.5 737.3 189.2 744.3 191.0 747.0 192.8M697.5 141.5 701.9 139.4 709.0 139.7 714.3 141.5 710.8 144.2 703.7 146.5 698.4 145.9 697.5 141.5M610.0 135.3 620.6 137.6 627.7 139.7 633.0 142.4 634.7 144.7 632.1 146.8 638.3 147.7 633.0 148.9 632.1 151.2 640.1 153.0 650.7 154.8 657.7 157.1 663.9 159.2 662.1 162.4 656.0 165.4 652.4 168.0 645.4 166.3 638.3 163.6 635.6 161.8 636.5 161.3M628.6 175.1 634.7 176.0 641.8 180.4 640.1 183.1 633.0 179.5 628.6 176.0 628.6 175.1M645.4 193.7 649.8 191.4 652.4 194.5M354.0 249.8 354.5 252.3 356.5 256.7 357.2 260.1 357.7 264.1 357.1 268.5 356.0 274.4 354.8 277.3 356.5 281.3 356.7 286.2 355.5 288.9 358.5 293.1 359.0 296.3 362.1 299.5 364.8 301.9 365.3 304.9 367.3 306.1 367.8 307.8 370.7 312.2 373.9 315.2 374.8 318.4 379.1 318.6 383.0 320.6 385.0 321.8 387.4 322.6 389.9 324.5 391.4 327.7 393.6 331.2 396.8 337.8 398.2 341.7 405.1 347.6 401.3 350.8 406.6 355.0 413.5 358.5 415.9 361.9 415.9 366.3 420.3 369.8 425.7 374.7 426.7 375.2 428.7 372.2 424.8 368.8 423.3 366.8 421.3 362.4 419.8 359.9 416.4 355.0 412.5 350.1 409.0 345.2 404.1 340.3 402.7 335.3 402.7 331.4 409.0 332.9 412.0 335.3 413.5 340.3 415.4 345.2 418.9 347.6 421.8 350.6 426.7 355.0 429.7 359.9 432.1 362.4 437.0 367.3 443.9 373.7 447.8 379.6 449.3 384.5 448.3 387.0 450.3 391.9 454.2 394.4 459.6 398.3 464.5 399.8 470.4 403.2 475.8 405.2 482.7 407.6 490.1 410.1 494.0 410.6 498.9 408.6 504.8 410.1 509.7 414.5 513.6 416.5 518.5 419.4 524.4 421.4 529.3 422.9 534.3 422.9 536.7 423.9 539.7 427.8 544.1 432.2 545.1 434.7 545.6 438.6 548.5 440.6M558.8 440.6 556.4 436.1 555.4 433.7 555.4 428.8 556.4 423.9 557.8 418.9 557.8 414.0 551.4 410.1 544.6 409.6 536.7 410.1 531.8 410.6 530.3 409.1 532.8 404.2 534.3 399.3 532.8 396.8 536.2 394.4 537.2 388.5 540.1 384.5 538.2 382.1 531.8 382.1 526.9 383.0 523.0 384.5 522.0 389.4 519.5 394.4 515.6 396.3 510.7 396.8 504.8 398.3 499.9 396.8 494.5 393.4 492.0 389.4 488.6 384.5 486.1 379.6 486.1 374.7 486.6 369.8 487.6 364.9 489.1 360.4 488.6 357.5 488.6 352.6 489.6 351.1 492.5 348.1 496.9 346.2 500.9 343.7 505.8 341.7 509.7 341.5 513.6 342.7 519.5 343.7 523.5 344.9 527.4 345.2 527.9 343.7 527.4 340.8 527.4 339.3 531.3 338.5 534.3 338.3 536.7 339.0 541.6 338.3 545.6 339.8 547.5 341.7 551.4 340.8 553.9 339.8 556.4 341.7 559.8 345.2 559.8 350.1 560.8 352.6 562.7 356.5 565.2 359.9 568.1 363.4 569.1 364.1 572.1 362.9 573.0 359.9 573.0 355.0 571.1 350.1 570.6 347.6 567.6 342.7 566.7 338.3 566.7 335.3 569.1 330.4 574.0 327.0 577.5 324.5 580.4 321.6 583.4 321.1 588.8 317.2 595.6 314.7 594.7 310.8 593.2 306.3 593.7 304.9 596.6 300.9 597.6 297.0 601.0 294.0 602.5 291.1 603.0 288.6 603.5 287.7 605.0 286.2 612.8 284.7 617.7 283.7 621.2 282.7 622.6 282.2 619.7 281.3 617.7 279.3 619.2 277.8 619.2 275.9 621.7 273.4 625.1 271.9 630.0 270.0 634.9 269.0 637.4 267.5 637.4 266.0 642.3 265.0 648.7 263.1 650.6 262.1 650.6 266.0 643.3 268.5 641.8 272.4 644.2 273.9 648.2 271.4 654.1 269.0 661.9 266.5 666.8 265.0 666.8 263.6 671.7 261.6 669.8 257.7 664.9 260.6 661.9 263.1 657.0 262.6 652.1 261.6 649.2 259.6 648.2 256.7 648.7 252.7 644.7 251.3 640.8 251.8 651.1 248.8 649.2 245.9 639.8 245.9 632.5 246.8 627.6 249.3 621.7 254.2 618.7 256.7 616.8 257.7 620.2 255.2 624.6 251.3 631.5 246.8 635.9 245.4 640.3 241.4 657.0 240.9 666.8 240.4 676.7 240.9 686.0 235.0 692.9 232.1 692.4 227.2 684.0 222.3 676.7 217.3 669.3 214.9 664.4 210.0 662.9 205.0 658.0 200.1 652.1 195.2 649.7 191.3 644.7 195.2 642.8 200.1 637.4 202.6 631.5 200.1 625.1 197.7 624.6 192.8 625.1 187.8 615.3 184.9 605.5 181.9 595.6 180.5 585.8 181.4 582.4 185.4 584.3 190.3 585.8 195.2 582.4 200.1 588.3 205.0 590.2 210.0 587.3 214.9 577.0 219.8 578.5 224.7 579.9 229.6 578.5 234.5 573.5 235.5 570.1 233.1 566.2 229.6 562.7 227.2 562.2 222.3 562.2 216.4 553.9 214.9 544.1 212.9 534.7 210.0 524.4 207.5 517.1 206.0 509.7 202.6 503.8 198.7 500.9 195.2 501.4 190.3 505.8 185.4 512.2 180.5 521.0 176.5 529.3 173.1M675.2 253.7 676.7 249.3 679.6 248.8 681.6 244.4 685.0 239.5 693.4 234.1 691.9 237.0 691.4 241.9 693.8 242.9 698.8 244.4 703.7 245.4 705.1 248.8 707.1 251.8 707.6 254.2 705.6 258.6 703.2 257.2 700.2 256.7 700.2 254.2 695.3 257.2 691.9 256.2 690.4 253.7 683.5 253.7 675.2 253.7M652.1 259.6 652.1 258.2 659.5 259.1 659.5 261.6 654.6 260.6 652.1 259.6M663.4 246.4 649.7 242.4 657.0 244.9 663.4 246.4M514.1 258.2 518.5 255.7 525.4 252.3 526.9 251.8 528.4 249.8 533.3 247.8 538.2 248.3 542.1 248.8 549.0 252.3 550.5 256.7 551.4 259.1 549.0 259.1 546.5 258.2 541.6 259.6 537.7 259.1 534.3 257.2 535.2 254.7 531.3 257.2 526.9 257.7 522.0 258.6 520.0 257.2 514.1 258.2M550.5 262.6 546.5 262.1 541.6 262.1 536.2 264.1 534.3 269.0 537.7 267.5 535.7 271.4 534.7 276.3 535.2 279.8 536.7 282.7 539.2 283.2 541.6 280.8 543.1 277.3 541.6 273.4 542.6 270.0 546.0 266.5 547.5 265.0 550.5 262.6M550.5 262.6 554.4 260.6 561.3 260.1 567.6 261.6 570.6 263.1 573.5 266.5 573.0 269.0 567.6 267.5 565.2 270.4 565.2 274.9 561.8 276.3 561.3 273.4 558.8 271.4 554.4 273.4 557.3 270.0 556.8 266.5 553.9 264.1 550.5 262.6M557.8 281.3 556.8 282.7 560.8 284.2 565.2 283.7 571.1 281.8 574.5 280.3 578.9 277.3 576.0 276.8 571.1 278.3 566.2 278.8 561.3 280.3 557.8 281.3M578.0 275.4 583.4 274.9 588.3 274.9 592.2 273.9 591.7 271.4 588.3 270.4 580.9 271.9 576.5 273.4 578.0 275.4M490.6 240.0 493.0 238.5 492.0 235.5 490.1 232.1 489.1 228.2 487.1 224.7 484.2 223.0 480.2 223.7 478.8 226.2 481.2 229.1 483.7 231.6 487.1 234.1 489.1 237.0 490.6 240.0M483.7 241.4 482.7 239.0 480.7 236.0 477.8 233.1 476.3 234.1 479.3 237.0 481.2 240.0 483.7 241.4M476.3 234.1 474.8 230.6 472.4 227.7 474.8 228.6 476.8 231.6 476.3 234.1M549.5 380.1 551.9 377.6 558.8 375.2 561.8 374.2 568.6 373.7 573.5 374.7 578.5 377.1 583.4 378.6 589.3 381.6 593.2 383.5 598.1 385.5 602.5 388.5 600.5 389.4 595.6 389.9 588.3 389.9 584.8 387.5 580.9 385.5 574.5 382.1 570.6 380.6 566.2 379.6 564.7 381.1 559.3 378.6 553.9 380.6 549.5 380.1M605.9 390.9 608.9 389.9 614.3 390.4 622.6 390.4 626.6 392.9 630.5 396.3 629.5 398.3 625.1 397.3 620.2 398.3 616.3 399.3 612.8 398.3 607.9 397.8 601.0 396.8 607.9 396.3 610.9 394.8 605.9 390.9M581.9 396.8 588.3 396.8 591.7 398.3 589.7 399.8 585.8 399.3 581.9 398.3 581.9 396.8M636.4 396.8 643.8 396.8 643.8 399.3 636.4 399.5 636.4 396.8M582.4 364.4 584.8 366.8 585.3 369.3 582.4 368.3 582.4 364.4M578.5 356.5 583.4 357.0 580.4 357.5 578.5 356.5M585.3 355.0 588.3 358.9 586.8 360.4 586.3 357.5 585.3 355.0M589.7 362.4 592.7 366.3 591.7 365.8 589.7 362.4M596.6 371.7 599.1 374.7 597.6 373.7 596.6 371.7M604.5 383.5 606.9 384.5 605.0 385.0 604.5 383.5M200.8 390.9 201.3 388.5 205.3 390.9 201.8 394.4 200.8 390.9M196.9 385.0 200.3 384.5 199.9 386.5 196.9 385.0M189.5 381.6 192.0 383.0 190.0 383.0 189.5 381.6M182.2 378.6 184.1 379.1 183.2 380.1 182.2 378.6M194.0 383.5 196.9 384.0 194.0 383.5M662.9 407.6 664.9 406.6 665.9 409.1 662.9 407.6M662.4 434.7 667.3 434.7 666.8 438.1 662.4 438.1 662.4 434.7M595.6 438.6 598.1 434.7 602.0 432.7 607.9 432.2 614.3 426.8 616.3 431.2 614.8 434.7 615.8 439.1M617.2 438.6 617.7 433.7 621.7 430.2 623.6 431.7 628.5 431.2 631.5 435.7 642.3 436.1 647.2 438.1 654.6 435.2 661.9 435.2 662.9 438.1M592.9 293.3 591.0 295.0 591.2 296.0 590.7 298.0 591.2 299.5 591.7 300.9 591.7 302.9 591.2 304.4 591.7 305.8M593.4 293.3 592.7 295.0 592.2 296.5 592.7 298.0 593.2 299.5 593.9 300.9 593.7 302.9 593.3 304.9M591.7 300.9 588.8 299.5 587.8 298.0 588.0 296.5M591.7 305.8 589.7 304.9 587.3 304.4M596.1 292.1 595.4 294.0 596.1 295.5 597.6 297.0M595.9 293.1 597.6 294.5 598.6 296.3M603.0 288.1 607.9 288.1 611.4 287.2 613.3 285.7 610.4 285.9 607.4 286.4 604.0 287.2M619.7 282.7 622.6 283.2 622.9 281.8 621.7 281.0 620.7 282.5M593.7 308.3 595.1 311.3 595.6 314.5 593.2 315.7 590.2 317.2M593.2 310.8 593.2 312.2 590.7 313.7 590.7 315.2 588.8 316.2M499.4 244.4 502.3 244.9 501.8 246.8 499.4 246.4 499.4 244.4M463.1 202.6 466.0 205.0 465.0 208.5 463.1 210.5 463.1 206.5 463.1 202.6M364.4 249.8 365.3 252.3 364.4 255.2 362.9 256.2 363.9 253.7 364.4 251.8M522.5 338.8 524.4 339.8 525.4 339.3 523.9 338.5 522.5 338.8M513.1 342.2 517.1 341.2 520.5 342.7 523.5 342.2 524.9 344.2M559.8 350.1 561.3 351.1 560.8 352.1M534.3 336.8 534.7 338.3 534.3 339.0M499.9 341.5 501.4 342.7 500.9 343.7M412.5 283.2 414.9 284.7 415.4 287.2 412.5 286.2 412.5 283.2M589.0 366.8 591.7 369.8 593.7 371.7M594.4 366.3 596.1 368.8M601.5 376.2 603.2 378.6M607.4 377.4 609.1 378.1M611.4 379.8 614.3 380.6M594.2 376.2 594.7 378.6M583.9 360.9 584.6 362.4M565.2 366.8 568.6 366.3 571.1 364.4M600.3 369.0 600.8 370.0"/><path stroke-width="1.6" d="M603.0 288.1 607.9 288.1 611.4 287.2 613.3 285.7 610.4 285.9 607.4 286.4 604.0 287.2M595.9 293.1 597.6 294.5 598.6 296.3M619.7 282.7 622.6 283.2 622.9 281.8 621.7 281.0 620.7 282.5M593.7 308.3 595.1 311.3 595.6 314.5 593.2 315.7 590.2 317.2M593.4 293.3 592.7 295.0 592.2 296.5 592.7 298.0 593.2 299.5 593.9 300.9 593.7 302.9 593.3 304.9M534.3 336.8 534.7 338.3 534.3 339.0M364.4 249.8 365.3 252.3 364.4 255.2 362.9 256.2 363.9 253.7 364.4 251.8M592.9 293.3 591.0 295.0 591.2 296.0 590.7 298.0 591.2 299.5 591.7 300.9 591.7 302.9 591.2 304.4 591.7 305.8M591.7 300.9 588.8 299.5 587.8 298.0 588.0 296.5M522.5 338.8 524.4 339.8 525.4 339.3 523.9 338.5 522.5 338.8M499.4 244.4 502.3 244.9 501.8 246.8 499.4 246.4 499.4 244.4M596.1 292.1 595.4 294.0 596.1 295.5 597.6 297.0M499.9 341.5 501.4 342.7 500.9 343.7M513.1 342.2 517.1 341.2 520.5 342.7 523.5 342.2 524.9 344.2M593.2 310.8 593.2 312.2 590.7 313.7 590.7 315.2 588.8 316.2"/><path fill="#000" d="M499.4 244.4 502.3 244.9 501.8 246.8 499.4 246.4 499.4 244.4ZM364.4 249.8 365.3 252.3 364.4 255.2 362.9 256.2 363.9 253.7 364.4 251.8Z"/><path d="M351.2 162.7 361.8 161.3 372.4 159.2 381.3 158.3 382.1 160.1 377.7 161.3 388.3 161.8 384.8 163.6 377.7 165.4 372.4 168.0 372.4 165.4 368.9 166.3 363.6 168.4 361.8 166.3 365.4 164.5 361.8 163.6 351.2 163.6ZM391.9 187.5 397.2 183.9 400.7 181.8 406.0 181.3 411.3 182.2 416.6 180.4 423.7 179.5 430.8 179.5 425.5 180.8 420.2 182.2 414.8 183.9 409.5 184.8 407.8 187.5 400.7 188.4 393.6 187.8ZM421.9 194.5 425.5 191.0 432.5 190.1 437.8 191.9 430.8 192.8 425.5 195.1Z"/><path stroke="#222" stroke-width="0.8" d="M363.6 246.8 499.1 246.8M499.1 246.8 499.1 245.0 500.9 246.8 501.8 248.3 507.2 248.8 512.2 249.8 517.1 250.8 522.0 251.3 526.4 251.8M551.4 259.1 554.9 261.1M561.8 276.3 559.3 279.8 558.3 281.3M578.5 277.3 578.5 274.9M591.2 270.9 599.6 266.5 615.3 266.5 617.2 265.0 620.7 262.6 622.6 259.6 626.6 254.2 631.0 254.7 633.4 256.2 633.4 262.1 635.4 263.6 637.4 266.0M391.4 327.7 403.1 326.9 402.6 328.0 421.0 333.7 435.0 333.7 435.0 331.5 443.3 331.5 448.3 335.3 451.3 337.3 453.2 341.7 458.1 343.7 460.1 345.2 462.1 343.7 464.0 341.2 468.5 341.7 470.9 343.7 472.9 346.7 475.8 350.1 477.8 352.6 478.3 355.5 479.8 357.5 483.7 359.4 489.1 360.4M357.5 260.3 361.4 260.6 365.3 263.6 371.2 263.1 379.1 262.1 382.5 261.6 392.2 261.6M391.7 246.8 391.7 259.6 392.2 261.6M392.2 261.6 394.3 264.1 391.9 267.5 390.9 270.0 391.8 272.4 391.7 281.3M356.5 281.3 421.1 281.3M377.1 281.3 377.1 296.0 403.5 315.7 403.6 316.2 405.9 319.1 403.1 323.5 403.1 326.9M406.3 305.8 406.3 310.3 403.1 310.3 403.2 313.2 403.5 315.7M406.4 281.3 406.4 305.8M396.5 246.8 396.5 251.8 398.2 254.2 403.6 258.2 404.1 263.6 408.1 266.5 412.5 269.5 417.4 268.7 421.1 269.0M421.1 266.5 421.1 281.3 421.1 286.2 455.4 286.2M421.1 266.5 455.4 266.5M430.9 286.2 430.9 333.7M406.3 305.8 501.7 305.8M460.6 305.8 460.6 308.3 460.3 330.4 442.8 330.4 443.3 331.5M460.4 308.3 475.3 308.3 475.3 317.8 478.3 318.6 482.7 319.6 487.6 321.1 492.5 321.8 497.4 321.1 502.3 322.6 504.6 322.4M504.6 322.4 504.6 330.5 506.8 332.9 507.0 335.3 506.3 338.8 505.6 341.7M504.6 325.4 518.5 325.5M518.5 325.5 520.0 329.0 517.1 332.4 516.4 335.3 525.8 335.3 526.4 339.3M455.4 246.8 455.4 286.2M455.4 261.9 492.2 261.9M488.9 246.8 489.6 251.8 491.0 256.7 492.0 261.6 492.2 261.9 492.8 265.0 492.8 273.9 492.5 276.3 492.0 278.8M455.4 276.3 482.7 276.3 487.6 277.3 492.0 278.8M455.4 286.2 465.3 286.2 465.3 305.8M465.3 291.1 498.4 291.1M492.0 278.8 495.0 283.7 496.1 288.1 498.4 291.1 501.8 295.5 501.7 305.8 501.7 308.3 502.7 313.7 502.4 322.4M492.8 273.9 518.5 273.9M514.1 258.2 513.1 261.6 511.2 264.1 510.7 267.5 514.6 269.5 518.5 273.9 521.5 278.3 523.5 282.2 519.5 284.2 519.0 288.1 517.6 289.1 518.1 292.6 523.5 296.5 524.9 300.9 528.6 305.8 526.9 308.3 525.9 310.8 523.0 315.7 520.5 320.6 518.5 325.5M496.1 288.1 516.1 288.1 517.6 289.1M501.7 308.3 523.7 308.3 522.6 310.8 525.9 310.8M521.3 278.8 535.2 278.8M522.5 258.6 529.3 261.6 533.8 262.1 535.2 264.1 536.2 266.0M536.6 282.4 536.6 296.0 534.7 300.9 534.3 301.9M538.2 282.4 550.0 282.4 556.4 282.7M550.0 282.7 549.9 295.5M528.6 305.8 531.8 305.4 534.3 301.9 539.2 301.4 544.1 299.9 547.0 297.5 549.9 295.5 555.4 297.5 560.8 299.0 564.7 296.0 568.6 293.1 570.6 288.1 571.0 287.9M526.9 308.3 534.3 308.3 544.1 307.8 555.4 307.8M555.4 307.8 561.3 305.8 563.7 303.4 560.8 299.0M555.4 307.8 593.7 308.1M565.2 307.8 562.7 310.8 556.4 312.7 552.4 315.7M523.0 315.7 552.4 315.7 558.3 314.7 568.6 314.7 569.6 316.7 575.0 316.7 580.7 321.3M558.3 315.7 559.8 318.1 563.7 322.6 568.6 329.9M546.0 315.7 548.0 326.5 549.0 329.0 549.0 335.3M536.2 335.3 549.0 335.3 549.5 336.8 563.7 337.3 566.2 336.8M536.2 335.3 536.7 338.8M533.3 315.7 533.3 318.1 532.0 330.9 532.3 338.3M571.0 281.3 571.0 287.9 571.0 292.5 594.2 292.5M576.1 292.5 576.1 295.0 581.4 293.6 584.8 294.5 588.3 296.5M584.3 294.5 579.4 297.0 575.0 299.5 572.1 302.9 568.6 304.4 564.7 304.9 563.7 303.4M594.2 292.5 594.7 298.7 597.8 298.7M574.7 281.3 596.4 281.3 599.6 284.2 597.1 288.1 599.1 291.1 596.1 292.1M599.6 284.2 603.5 286.2M606.2 266.5 606.4 273.4 606.6 277.6 605.5 281.0 604.5 285.7 604.7 286.2M615.3 266.5 614.8 269.0 610.9 273.9 610.6 277.7M606.6 277.6 616.3 277.8 618.5 277.0M605.5 281.0 613.8 281.2 615.9 281.3 617.2 283.7M613.8 281.2 613.5 284.7M617.3 265.0 619.2 275.9"/></g>
<rect x="82.5" y="119.0" width="662.90" height="319.60" fill="none" stroke="#000" stroke-width="1.1"/>
<path d="M82.50 119.0V108.00M82.50 438.60V449.60M131.60 119.0V113.50M131.60 438.60V444.10M180.71 119.0V113.50M180.71 438.60V444.10M229.81 119.0V108.00M229.81 438.60V449.60M278.92 119.0V113.50M278.92 438.60V444.10M328.02 119.0V113.50M328.02 438.60V444.10M377.12 119.0V108.00M377.12 438.60V449.60M426.23 119.0V113.50M426.23 438.60V444.10M475.33 119.0V113.50M475.33 438.60V444.10M524.44 119.0V108.00M524.44 438.60V449.60M573.54 119.0V113.50M573.54 438.60V444.10M622.64 119.0V113.50M622.64 438.60V444.10M671.75 119.0V108.00M671.75 438.60V449.60M720.85 119.0V113.50M720.85 438.60V444.10M82.5 438.60H77.00M745.40 438.60H750.90M82.5 389.44H77.00M745.40 389.44H750.90M82.5 340.26H71.50M745.40 340.26H756.40M82.5 291.10H77.00M745.40 291.10H750.90M82.5 241.93H77.00M745.40 241.93H750.90M82.5 192.75H71.50M745.40 192.75H756.40M82.5 143.59H77.00M745.40 143.59H750.90" stroke="#000" stroke-width="1.1" fill="none"/>
<text x="414.3" y="74.6" text-anchor="middle" textLength="480.5" lengthAdjust="spacingAndGlyphs" style="font-weight:bold;font-size:24.4px">RCM3-gfdl Change in Seasonal Avg Precip</text>
<text x="81.4" y="103" style="font-size:12px">DJF</text>
<text x="413.6" y="103.6" text-anchor="middle" style="font-size:11.5px">2041-2070 minus 1971-2000</text>
<text x="746" y="103" text-anchor="end" style="font-size:11.5px">%</text>
<g style="font-size:16px" text-anchor="middle"><text x="82.50" y="470.8" textLength="24.25" lengthAdjust="spacingAndGlyphs">180</text><text x="229.81" y="470.8" textLength="37.92" lengthAdjust="spacingAndGlyphs">150W</text><text x="377.12" y="470.8" textLength="37.31" lengthAdjust="spacingAndGlyphs">120W</text><text x="524.44" y="470.8" textLength="30.13" lengthAdjust="spacingAndGlyphs">90W</text><text x="671.75" y="470.8" textLength="30.13" lengthAdjust="spacingAndGlyphs">60W</text></g>
<g style="font-size:16px" text-anchor="end"><text x="62.8" y="199.3" textLength="27.16" lengthAdjust="spacingAndGlyphs">60N</text><text x="62.8" y="347" textLength="27.16" lengthAdjust="spacingAndGlyphs">30N</text></g>
<g><rect x="170.00" y="483" width="35.14" height="28.8" fill="#34200a"/><rect x="204.84" y="483" width="35.14" height="28.8" fill="#6e4518"/><rect x="239.69" y="483" width="35.14" height="28.8" fill="#ad6a37"/><rect x="274.53" y="483" width="35.14" height="28.8" fill="#c98f52"/><rect x="309.37" y="483" width="35.14" height="28.8" fill="#ddb57b"/><rect x="344.21" y="483" width="35.14" height="28.8" fill="#f4d2b0"/><rect x="379.06" y="483" width="35.14" height="28.8" fill="#f4f3dc"/><rect x="413.90" y="483" width="35.14" height="28.8" fill="#ccffff"/><rect x="448.74" y="483" width="35.14" height="28.8" fill="#74ffff"/><rect x="483.59" y="483" width="35.14" height="28.8" fill="#00eeff"/><rect x="518.43" y="483" width="35.14" height="28.8" fill="#00bbff"/><rect x="553.27" y="483" width="35.14" height="28.8" fill="#0066ff"/><rect x="588.11" y="483" width="35.14" height="28.8" fill="#0000ff"/><rect x="622.96" y="483" width="35.14" height="28.8" fill="#000096"/></g>
<g style="font-size:11.5px" text-anchor="middle"><text x="204.84" y="528.5">-50</text><text x="239.69" y="528.5">-40</text><text x="274.53" y="528.5">-30</text><text x="309.37" y="528.5">-20</text><text x="344.21" y="528.5">-10</text><text x="379.06" y="528.5">-5</text><text x="413.90" y="528.5">0</text><text x="448.74" y="528.5">5</text><text x="483.59" y="528.5">10</text><text x="518.43" y="528.5">20</text><text x="553.27" y="528.5">30</text><text x="588.11" y="528.5">40</text><text x="622.96" y="528.5">50</text></g>
</svg>
</body></html>
